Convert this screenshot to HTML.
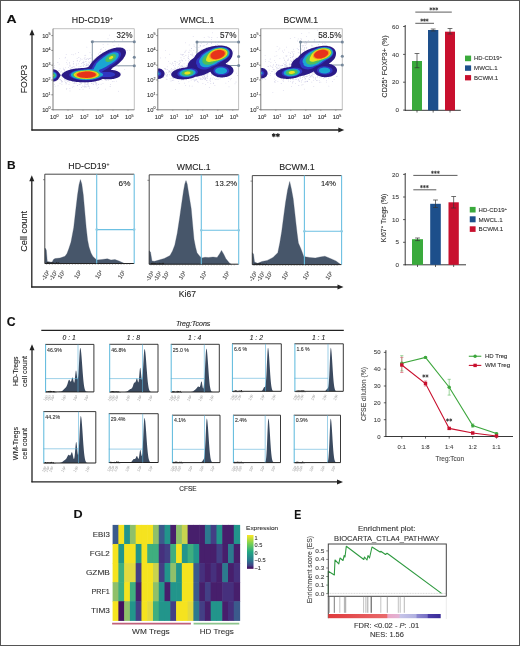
<!DOCTYPE html>
<html><head><meta charset="utf-8"><style>
html,body{margin:0;padding:0;background:#fff;}
body{width:520px;height:646px;overflow:hidden;}
svg{display:block;will-change:transform;}
text{font-family:"Liberation Sans",sans-serif;stroke:currentColor;stroke-width:0.1px;}
</style></head><body>
<svg width="520" height="646" viewBox="0 0 520 646" font-family="Liberation Sans, sans-serif">
<rect x="0" y="0" width="520" height="646" fill="#fff"/>
<text x="6.44" y="23.00" font-size="11.57" fill="#111" color="#111" textLength="10.11" lengthAdjust="spacingAndGlyphs" font-weight="bold">A</text>
<line x1="32" y1="32.3" x2="32" y2="130.6" stroke="#222" stroke-width="1.3"/><path d="M32,29.3 L29.5,35.3 L34.5,35.3 Z" fill="#222"/>
<line x1="31.4" y1="130" x2="341.3" y2="130" stroke="#222" stroke-width="1.3"/><path d="M344.3,130 L338.3,127.5 L338.3,132.5 Z" fill="#222"/>
<text transform="translate(26.60,93.00) rotate(-90)" x="-0.35" y="0" font-size="8.86" fill="#222" color="#222" textLength="28.52" lengthAdjust="spacingAndGlyphs">FOXP3</text>
<text x="176.45" y="140.70" font-size="8.71" fill="#222" color="#222" textLength="22.91" lengthAdjust="spacingAndGlyphs">CD25</text>
<path d="M273.80,133.60 L273.80,136.80 M272.41,134.40 L275.19,136.00 M272.41,136.00 L275.19,134.40 M277.90,133.60 L277.90,136.80 M276.51,134.40 L279.29,136.00 M276.51,136.00 L279.29,134.40 " stroke="#222" stroke-width="1.10" stroke-linecap="round"/>
<clipPath id="ca0"><rect x="53" y="28.7" width="81.30000000000001" height="81.1"/></clipPath>
<g clip-path="url(#ca0)" fill="#8a86c0" opacity="0.55"><circle cx="88.6" cy="64.3" r="0.42"/><circle cx="61.8" cy="80.9" r="0.42"/><circle cx="106.6" cy="80.6" r="0.42"/><circle cx="70.1" cy="68.6" r="0.42"/><circle cx="53.8" cy="81.4" r="0.42"/><circle cx="54.6" cy="78.4" r="0.42"/><circle cx="73.6" cy="63.2" r="0.42"/><circle cx="78.1" cy="80.4" r="0.42"/><circle cx="118.8" cy="66.4" r="0.42"/><circle cx="94.9" cy="65.0" r="0.42"/><circle cx="54.9" cy="71.9" r="0.42"/><circle cx="71.9" cy="54.6" r="0.42"/><circle cx="77.1" cy="60.9" r="0.42"/><circle cx="97.9" cy="58.8" r="0.42"/><circle cx="85.7" cy="68.6" r="0.42"/><circle cx="61.9" cy="82.2" r="0.42"/><circle cx="53.3" cy="76.3" r="0.42"/><circle cx="69.0" cy="84.3" r="0.42"/><circle cx="81.4" cy="83.6" r="0.42"/><circle cx="109.6" cy="35.1" r="0.42"/><circle cx="72.7" cy="74.2" r="0.42"/><circle cx="113.8" cy="66.7" r="0.42"/><circle cx="96.2" cy="83.6" r="0.42"/><circle cx="89.0" cy="75.4" r="0.42"/><circle cx="93.0" cy="75.7" r="0.42"/><circle cx="86.0" cy="79.9" r="0.42"/><circle cx="90.2" cy="68.2" r="0.42"/><circle cx="65.1" cy="73.2" r="0.42"/><circle cx="112.4" cy="56.0" r="0.42"/><circle cx="86.6" cy="75.3" r="0.42"/><circle cx="108.8" cy="72.4" r="0.42"/><circle cx="80.3" cy="81.1" r="0.42"/><circle cx="111.7" cy="58.4" r="0.42"/><circle cx="122.7" cy="40.2" r="0.42"/><circle cx="72.8" cy="67.4" r="0.42"/><circle cx="105.6" cy="56.0" r="0.42"/><circle cx="112.9" cy="66.2" r="0.42"/><circle cx="56.9" cy="79.9" r="0.42"/><circle cx="66.7" cy="62.6" r="0.42"/><circle cx="110.1" cy="86.5" r="0.42"/><circle cx="77.4" cy="85.6" r="0.42"/><circle cx="80.9" cy="83.4" r="0.42"/><circle cx="60.0" cy="68.8" r="0.42"/><circle cx="93.5" cy="40.6" r="0.42"/><circle cx="102.0" cy="71.2" r="0.42"/><circle cx="93.3" cy="84.2" r="0.42"/><circle cx="56.4" cy="72.2" r="0.42"/><circle cx="70.0" cy="66.4" r="0.42"/><circle cx="85.6" cy="70.3" r="0.42"/><circle cx="93.3" cy="80.5" r="0.42"/><circle cx="61.9" cy="81.5" r="0.42"/><circle cx="84.5" cy="74.0" r="0.42"/><circle cx="87.0" cy="65.4" r="0.42"/><circle cx="103.2" cy="77.8" r="0.42"/><circle cx="77.0" cy="78.1" r="0.42"/><circle cx="84.3" cy="87.1" r="0.42"/><circle cx="91.1" cy="76.0" r="0.42"/><circle cx="77.9" cy="78.2" r="0.42"/><circle cx="102.8" cy="66.7" r="0.42"/><circle cx="75.5" cy="80.3" r="0.42"/><circle cx="115.3" cy="57.7" r="0.42"/><circle cx="102.4" cy="52.9" r="0.42"/><circle cx="94.8" cy="61.0" r="0.42"/><circle cx="91.9" cy="78.9" r="0.42"/><circle cx="84.6" cy="83.0" r="0.42"/><circle cx="96.7" cy="82.8" r="0.42"/><circle cx="88.0" cy="82.4" r="0.42"/><circle cx="57.9" cy="72.2" r="0.42"/><circle cx="65.6" cy="73.5" r="0.42"/><circle cx="80.9" cy="70.6" r="0.42"/><circle cx="94.9" cy="79.6" r="0.42"/><circle cx="84.0" cy="86.5" r="0.42"/><circle cx="79.6" cy="69.7" r="0.42"/><circle cx="74.6" cy="82.4" r="0.42"/><circle cx="108.0" cy="38.8" r="0.42"/><circle cx="95.4" cy="60.5" r="0.42"/><circle cx="70.7" cy="79.8" r="0.42"/><circle cx="77.7" cy="69.5" r="0.42"/><circle cx="92.0" cy="83.3" r="0.42"/><circle cx="83.7" cy="61.1" r="0.42"/><circle cx="113.4" cy="75.1" r="0.42"/><circle cx="92.2" cy="69.8" r="0.42"/><circle cx="55.8" cy="81.0" r="0.42"/><circle cx="81.5" cy="73.5" r="0.42"/><circle cx="110.6" cy="66.6" r="0.42"/><circle cx="95.3" cy="62.0" r="0.42"/><circle cx="67.2" cy="78.3" r="0.42"/><circle cx="80.2" cy="79.7" r="0.42"/><circle cx="66.0" cy="82.1" r="0.42"/><circle cx="103.3" cy="47.3" r="0.42"/><circle cx="99.2" cy="62.7" r="0.42"/><circle cx="97.0" cy="59.1" r="0.42"/><circle cx="71.8" cy="80.1" r="0.42"/><circle cx="88.7" cy="76.0" r="0.42"/><circle cx="76.3" cy="83.0" r="0.42"/><circle cx="72.5" cy="71.6" r="0.42"/><circle cx="89.1" cy="58.7" r="0.42"/><circle cx="91.3" cy="64.2" r="0.42"/><circle cx="57.9" cy="62.5" r="0.42"/><circle cx="76.9" cy="68.4" r="0.42"/><circle cx="101.2" cy="73.2" r="0.42"/><circle cx="66.4" cy="89.0" r="0.42"/><circle cx="68.4" cy="71.3" r="0.42"/><circle cx="77.6" cy="85.3" r="0.42"/><circle cx="81.4" cy="73.7" r="0.42"/><circle cx="104.5" cy="54.5" r="0.42"/><circle cx="82.8" cy="77.0" r="0.42"/><circle cx="66.2" cy="54.6" r="0.42"/><circle cx="64.7" cy="72.9" r="0.42"/><circle cx="67.1" cy="60.1" r="0.42"/><circle cx="54.9" cy="78.5" r="0.42"/><circle cx="87.8" cy="80.1" r="0.42"/><circle cx="86.8" cy="70.8" r="0.42"/><circle cx="85.8" cy="61.7" r="0.42"/><circle cx="87.9" cy="80.4" r="0.42"/><circle cx="100.7" cy="49.6" r="0.42"/><circle cx="97.6" cy="78.4" r="0.42"/><circle cx="116.5" cy="53.7" r="0.42"/><circle cx="69.8" cy="79.5" r="0.42"/><circle cx="79.8" cy="70.7" r="0.42"/><circle cx="69.6" cy="72.6" r="0.42"/><circle cx="97.0" cy="56.6" r="0.42"/><circle cx="83.8" cy="62.4" r="0.42"/><circle cx="80.3" cy="76.0" r="0.42"/><circle cx="49.3" cy="60.3" r="0.42"/><circle cx="74.9" cy="80.8" r="0.42"/><circle cx="83.0" cy="89.2" r="0.42"/><circle cx="94.2" cy="79.1" r="0.42"/><circle cx="80.8" cy="74.0" r="0.42"/><circle cx="76.8" cy="77.9" r="0.42"/><circle cx="87.3" cy="67.6" r="0.42"/><circle cx="81.1" cy="71.1" r="0.42"/><circle cx="64.9" cy="79.5" r="0.42"/><circle cx="84.8" cy="78.3" r="0.42"/><circle cx="107.2" cy="63.7" r="0.42"/><circle cx="100.5" cy="51.8" r="0.42"/><circle cx="65.1" cy="57.9" r="0.42"/><circle cx="91.2" cy="75.8" r="0.42"/><circle cx="90.5" cy="66.2" r="0.42"/><circle cx="64.4" cy="70.9" r="0.42"/><circle cx="85.8" cy="65.8" r="0.42"/><circle cx="81.3" cy="66.1" r="0.42"/><circle cx="61.2" cy="80.7" r="0.42"/><circle cx="49.9" cy="62.7" r="0.42"/><circle cx="65.0" cy="78.4" r="0.42"/><circle cx="110.5" cy="84.3" r="0.42"/><circle cx="83.2" cy="79.2" r="0.42"/><circle cx="105.4" cy="49.6" r="0.42"/><circle cx="88.9" cy="81.2" r="0.42"/><circle cx="80.5" cy="74.5" r="0.42"/><circle cx="94.5" cy="77.4" r="0.42"/><circle cx="98.9" cy="73.3" r="0.42"/><circle cx="82.3" cy="71.9" r="0.42"/><circle cx="80.3" cy="77.6" r="0.42"/><circle cx="103.9" cy="62.2" r="0.42"/><circle cx="97.1" cy="71.7" r="0.42"/><circle cx="79.3" cy="79.6" r="0.42"/><circle cx="72.3" cy="76.0" r="0.42"/><circle cx="103.5" cy="68.5" r="0.42"/><circle cx="64.5" cy="75.6" r="0.42"/><circle cx="97.7" cy="59.3" r="0.42"/><circle cx="105.4" cy="79.5" r="0.42"/><circle cx="111.3" cy="79.5" r="0.42"/><circle cx="73.3" cy="64.0" r="0.42"/><circle cx="73.2" cy="80.1" r="0.42"/><circle cx="104.2" cy="77.5" r="0.42"/><circle cx="86.9" cy="47.1" r="0.42"/><circle cx="64.4" cy="78.0" r="0.42"/><circle cx="67.0" cy="80.1" r="0.42"/><circle cx="73.8" cy="86.2" r="0.42"/><circle cx="88.4" cy="85.2" r="0.42"/><circle cx="88.0" cy="83.1" r="0.42"/><circle cx="73.6" cy="80.5" r="0.42"/><circle cx="87.9" cy="82.8" r="0.42"/><circle cx="71.4" cy="76.6" r="0.42"/><circle cx="69.4" cy="63.8" r="0.42"/><circle cx="85.0" cy="59.3" r="0.42"/><circle cx="84.9" cy="55.6" r="0.42"/><circle cx="67.6" cy="78.2" r="0.42"/><circle cx="97.2" cy="69.6" r="0.42"/><circle cx="110.0" cy="56.9" r="0.42"/><circle cx="86.1" cy="59.0" r="0.42"/><circle cx="96.4" cy="67.4" r="0.42"/><circle cx="86.3" cy="80.5" r="0.42"/><circle cx="108.2" cy="64.2" r="0.42"/><circle cx="98.5" cy="84.5" r="0.42"/><circle cx="96.5" cy="84.0" r="0.42"/><circle cx="60.0" cy="83.3" r="0.42"/><circle cx="93.2" cy="84.0" r="0.42"/><circle cx="86.0" cy="61.6" r="0.42"/><circle cx="86.6" cy="65.6" r="0.42"/><circle cx="70.9" cy="74.3" r="0.42"/><circle cx="110.3" cy="59.2" r="0.42"/><circle cx="66.0" cy="83.9" r="0.42"/><circle cx="50.7" cy="55.7" r="0.42"/><circle cx="72.0" cy="71.8" r="0.42"/><circle cx="61.1" cy="80.5" r="0.42"/><circle cx="75.6" cy="78.6" r="0.42"/><circle cx="80.9" cy="82.5" r="0.42"/><circle cx="71.1" cy="80.6" r="0.42"/><circle cx="86.1" cy="87.1" r="0.42"/><circle cx="86.4" cy="79.4" r="0.42"/><circle cx="112.6" cy="66.2" r="0.42"/><circle cx="90.2" cy="66.5" r="0.42"/><circle cx="112.4" cy="54.8" r="0.42"/><circle cx="95.4" cy="82.3" r="0.42"/><circle cx="65.7" cy="82.7" r="0.42"/><circle cx="78.0" cy="78.5" r="0.42"/><circle cx="80.6" cy="79.0" r="0.42"/><circle cx="91.1" cy="57.9" r="0.42"/><circle cx="114.0" cy="45.3" r="0.42"/><circle cx="76.4" cy="65.3" r="0.42"/><circle cx="83.7" cy="71.3" r="0.42"/><circle cx="101.2" cy="49.0" r="0.42"/><circle cx="55.2" cy="70.2" r="0.42"/><circle cx="85.7" cy="77.8" r="0.42"/><circle cx="74.0" cy="77.4" r="0.42"/><circle cx="72.8" cy="81.5" r="0.42"/><circle cx="89.5" cy="58.6" r="0.42"/><circle cx="65.7" cy="72.1" r="0.42"/><circle cx="80.2" cy="70.5" r="0.42"/><circle cx="97.7" cy="69.2" r="0.42"/><circle cx="70.8" cy="69.1" r="0.42"/><circle cx="104.0" cy="65.0" r="0.42"/><circle cx="89.2" cy="63.0" r="0.42"/><circle cx="88.0" cy="84.0" r="0.42"/><circle cx="98.7" cy="54.0" r="0.42"/><circle cx="59.1" cy="76.0" r="0.42"/><circle cx="96.2" cy="64.6" r="0.42"/><circle cx="120.9" cy="73.0" r="0.42"/><circle cx="99.1" cy="68.6" r="0.42"/><circle cx="107.8" cy="65.3" r="0.42"/><circle cx="98.3" cy="65.1" r="0.42"/><circle cx="70.0" cy="90.9" r="0.42"/><circle cx="90.0" cy="52.7" r="0.42"/><circle cx="80.0" cy="75.5" r="0.42"/><circle cx="69.9" cy="65.3" r="0.42"/><circle cx="108.5" cy="58.2" r="0.42"/><circle cx="94.0" cy="63.2" r="0.42"/><circle cx="93.4" cy="62.5" r="0.42"/><circle cx="84.5" cy="80.3" r="0.42"/><circle cx="67.5" cy="79.8" r="0.42"/><circle cx="70.2" cy="76.7" r="0.42"/><circle cx="83.9" cy="69.3" r="0.42"/><circle cx="80.2" cy="60.1" r="0.42"/><circle cx="91.4" cy="73.1" r="0.42"/><circle cx="92.0" cy="74.6" r="0.42"/><circle cx="53.0" cy="67.2" r="0.42"/><circle cx="92.0" cy="80.2" r="0.42"/><circle cx="55.1" cy="86.2" r="0.42"/><circle cx="93.5" cy="66.9" r="0.42"/><circle cx="63.9" cy="72.9" r="0.42"/><circle cx="69.0" cy="80.4" r="0.42"/><circle cx="74.5" cy="74.2" r="0.42"/><circle cx="68.8" cy="70.8" r="0.42"/><circle cx="110.4" cy="64.6" r="0.42"/><circle cx="96.0" cy="59.3" r="0.42"/><circle cx="77.2" cy="78.4" r="0.42"/><circle cx="73.7" cy="66.7" r="0.42"/><circle cx="107.9" cy="44.2" r="0.42"/><circle cx="48.5" cy="73.0" r="0.42"/><circle cx="73.2" cy="83.3" r="0.42"/><circle cx="108.0" cy="68.8" r="0.42"/><circle cx="92.0" cy="70.6" r="0.42"/><circle cx="100.2" cy="74.9" r="0.42"/><circle cx="73.4" cy="54.8" r="0.42"/><circle cx="105.3" cy="89.1" r="0.42"/><circle cx="108.1" cy="76.4" r="0.42"/><circle cx="100.2" cy="52.1" r="0.42"/><circle cx="83.7" cy="74.7" r="0.42"/><circle cx="83.2" cy="75.6" r="0.42"/><circle cx="103.0" cy="83.6" r="0.42"/><circle cx="71.4" cy="67.4" r="0.42"/><circle cx="110.1" cy="70.5" r="0.42"/><circle cx="106.7" cy="61.4" r="0.42"/><circle cx="65.0" cy="76.2" r="0.42"/><circle cx="88.9" cy="77.3" r="0.42"/><circle cx="67.1" cy="74.1" r="0.42"/><circle cx="91.0" cy="61.9" r="0.42"/><circle cx="85.4" cy="78.4" r="0.42"/><circle cx="73.0" cy="79.6" r="0.42"/><circle cx="69.5" cy="76.6" r="0.42"/><circle cx="108.9" cy="49.3" r="0.42"/><circle cx="59.5" cy="74.7" r="0.42"/><circle cx="69.5" cy="79.6" r="0.42"/><circle cx="91.6" cy="72.3" r="0.42"/><circle cx="98.0" cy="68.4" r="0.42"/><circle cx="100.4" cy="77.3" r="0.42"/><circle cx="55.3" cy="74.0" r="0.42"/><circle cx="88.1" cy="76.9" r="0.42"/><circle cx="114.4" cy="40.5" r="0.42"/><circle cx="115.9" cy="57.6" r="0.42"/><circle cx="116.0" cy="69.7" r="0.42"/><circle cx="83.0" cy="69.6" r="0.42"/><circle cx="102.2" cy="59.7" r="0.42"/><circle cx="60.2" cy="79.3" r="0.42"/><circle cx="100.1" cy="65.3" r="0.42"/><circle cx="66.6" cy="72.7" r="0.42"/><circle cx="88.0" cy="86.6" r="0.42"/><circle cx="104.9" cy="61.4" r="0.42"/><circle cx="69.8" cy="71.6" r="0.42"/><circle cx="82.0" cy="59.2" r="0.42"/><circle cx="112.4" cy="68.2" r="0.42"/><circle cx="95.9" cy="67.4" r="0.42"/><circle cx="22.8" cy="74.1" r="0.42"/><circle cx="85.2" cy="80.9" r="0.42"/><circle cx="95.2" cy="71.2" r="0.42"/><circle cx="84.7" cy="64.5" r="0.42"/><circle cx="106.5" cy="52.2" r="0.42"/><circle cx="108.3" cy="62.6" r="0.42"/><circle cx="114.0" cy="81.3" r="0.42"/><circle cx="106.7" cy="69.5" r="0.42"/><circle cx="54.6" cy="84.4" r="0.42"/><circle cx="84.2" cy="69.8" r="0.42"/><circle cx="98.5" cy="67.5" r="0.42"/><circle cx="91.1" cy="61.8" r="0.42"/><circle cx="86.9" cy="69.6" r="0.42"/><circle cx="84.7" cy="76.1" r="0.42"/><circle cx="77.9" cy="71.4" r="0.42"/><circle cx="78.6" cy="63.8" r="0.42"/><circle cx="80.1" cy="82.2" r="0.42"/><circle cx="49.9" cy="69.3" r="0.42"/><circle cx="81.7" cy="80.5" r="0.42"/><circle cx="112.8" cy="53.9" r="0.42"/><circle cx="56.8" cy="72.1" r="0.42"/><circle cx="66.6" cy="79.6" r="0.42"/><circle cx="84.2" cy="82.2" r="0.42"/><circle cx="96.9" cy="85.8" r="0.42"/><circle cx="87.3" cy="71.5" r="0.42"/><circle cx="77.8" cy="75.3" r="0.42"/><circle cx="89.0" cy="69.0" r="0.42"/><circle cx="82.8" cy="71.5" r="0.42"/><circle cx="97.8" cy="59.4" r="0.42"/><circle cx="77.3" cy="79.4" r="0.42"/><circle cx="74.3" cy="78.9" r="0.42"/><circle cx="96.9" cy="74.4" r="0.42"/><circle cx="99.0" cy="76.2" r="0.42"/><circle cx="98.1" cy="71.7" r="0.42"/><circle cx="68.6" cy="81.1" r="0.42"/><circle cx="86.6" cy="76.2" r="0.42"/><circle cx="74.9" cy="75.1" r="0.42"/><circle cx="103.9" cy="55.4" r="0.42"/><circle cx="76.0" cy="69.4" r="0.42"/><circle cx="79.9" cy="89.6" r="0.42"/><circle cx="64.9" cy="81.0" r="0.42"/><circle cx="95.0" cy="82.3" r="0.42"/><circle cx="75.2" cy="78.5" r="0.42"/><circle cx="122.3" cy="39.5" r="0.42"/><circle cx="90.0" cy="81.3" r="0.42"/><circle cx="67.2" cy="71.4" r="0.42"/><circle cx="89.8" cy="80.9" r="0.42"/><circle cx="117.2" cy="64.0" r="0.42"/><circle cx="86.3" cy="59.6" r="0.42"/><circle cx="74.7" cy="66.9" r="0.42"/><circle cx="106.7" cy="66.5" r="0.42"/><circle cx="91.0" cy="82.1" r="0.42"/><circle cx="127.1" cy="50.7" r="0.42"/><circle cx="85.4" cy="86.8" r="0.42"/><circle cx="43.5" cy="83.2" r="0.42"/><circle cx="86.3" cy="72.1" r="0.42"/><circle cx="90.4" cy="74.7" r="0.42"/><circle cx="88.1" cy="81.2" r="0.42"/><circle cx="124.7" cy="69.6" r="0.42"/><circle cx="110.7" cy="57.9" r="0.42"/><circle cx="104.6" cy="78.2" r="0.42"/><circle cx="94.6" cy="70.9" r="0.42"/><circle cx="89.2" cy="76.6" r="0.42"/><circle cx="60.6" cy="71.9" r="0.42"/><circle cx="90.5" cy="76.2" r="0.42"/><circle cx="86.6" cy="79.0" r="0.42"/><circle cx="85.1" cy="77.9" r="0.42"/><circle cx="91.6" cy="79.1" r="0.42"/><circle cx="129.9" cy="50.2" r="0.42"/><circle cx="72.5" cy="67.1" r="0.42"/><circle cx="108.2" cy="80.7" r="0.42"/><circle cx="104.3" cy="69.4" r="0.42"/><circle cx="76.3" cy="77.0" r="0.42"/><circle cx="63.3" cy="68.1" r="0.42"/><circle cx="86.5" cy="64.9" r="0.42"/><circle cx="64.5" cy="69.7" r="0.42"/><circle cx="59.1" cy="64.1" r="0.42"/><circle cx="105.7" cy="76.9" r="0.42"/><circle cx="69.9" cy="88.7" r="0.42"/><circle cx="89.0" cy="78.7" r="0.42"/><circle cx="90.6" cy="58.2" r="0.42"/><circle cx="80.1" cy="84.3" r="0.42"/><circle cx="62.6" cy="72.3" r="0.42"/><circle cx="82.1" cy="77.6" r="0.42"/><circle cx="65.1" cy="79.2" r="0.42"/><circle cx="93.8" cy="81.3" r="0.42"/><circle cx="94.0" cy="74.3" r="0.42"/><circle cx="99.4" cy="68.3" r="0.42"/><circle cx="106.1" cy="55.7" r="0.42"/><circle cx="109.7" cy="57.7" r="0.42"/><circle cx="75.8" cy="80.9" r="0.42"/><circle cx="78.0" cy="79.8" r="0.42"/><circle cx="63.9" cy="69.8" r="0.42"/><circle cx="100.4" cy="64.2" r="0.42"/><circle cx="88.1" cy="64.7" r="0.42"/><circle cx="99.4" cy="60.4" r="0.42"/><circle cx="99.3" cy="63.1" r="0.42"/><circle cx="70.3" cy="71.8" r="0.42"/><circle cx="66.6" cy="75.0" r="0.42"/><circle cx="67.5" cy="81.3" r="0.42"/><circle cx="96.2" cy="72.5" r="0.42"/><circle cx="68.7" cy="77.9" r="0.42"/><circle cx="89.9" cy="77.3" r="0.42"/><circle cx="88.8" cy="74.6" r="0.42"/><circle cx="89.6" cy="86.9" r="0.42"/><circle cx="91.0" cy="77.1" r="0.42"/><circle cx="66.2" cy="75.5" r="0.42"/><circle cx="88.8" cy="67.4" r="0.42"/><circle cx="81.9" cy="70.0" r="0.42"/><circle cx="91.2" cy="79.0" r="0.42"/><circle cx="116.5" cy="81.1" r="0.42"/><circle cx="83.7" cy="79.0" r="0.42"/><circle cx="85.2" cy="79.9" r="0.42"/><circle cx="89.8" cy="81.9" r="0.42"/><circle cx="100.6" cy="75.4" r="0.42"/><circle cx="59.6" cy="58.6" r="0.42"/><circle cx="99.5" cy="56.8" r="0.42"/><circle cx="85.0" cy="69.4" r="0.42"/><circle cx="112.3" cy="81.6" r="0.42"/><circle cx="81.7" cy="87.5" r="0.42"/><circle cx="100.4" cy="68.9" r="0.42"/><circle cx="69.8" cy="82.2" r="0.42"/><circle cx="69.6" cy="62.7" r="0.42"/><circle cx="83.6" cy="66.3" r="0.42"/><circle cx="91.6" cy="83.7" r="0.42"/><circle cx="67.9" cy="79.6" r="0.42"/><circle cx="94.3" cy="74.9" r="0.42"/><circle cx="78.5" cy="76.7" r="0.42"/><circle cx="67.2" cy="64.1" r="0.42"/><circle cx="98.8" cy="64.3" r="0.42"/><circle cx="105.9" cy="80.6" r="0.42"/><circle cx="87.6" cy="64.9" r="0.42"/><circle cx="93.1" cy="69.5" r="0.42"/><circle cx="82.4" cy="78.8" r="0.42"/><circle cx="72.4" cy="73.7" r="0.42"/><circle cx="79.9" cy="75.5" r="0.42"/><circle cx="102.2" cy="78.6" r="0.42"/><circle cx="101.1" cy="68.0" r="0.42"/><circle cx="87.9" cy="84.0" r="0.42"/><circle cx="104.0" cy="69.6" r="0.42"/><circle cx="82.4" cy="86.0" r="0.42"/><circle cx="66.3" cy="83.1" r="0.42"/><circle cx="85.2" cy="83.0" r="0.42"/><circle cx="106.4" cy="74.2" r="0.42"/><circle cx="59.0" cy="70.6" r="0.42"/><circle cx="63.4" cy="69.1" r="0.42"/><circle cx="85.2" cy="82.7" r="0.42"/><circle cx="50.2" cy="89.0" r="0.42"/><circle cx="80.4" cy="66.5" r="0.42"/><circle cx="66.2" cy="79.6" r="0.42"/><circle cx="74.4" cy="83.3" r="0.42"/><circle cx="100.0" cy="52.7" r="0.42"/><circle cx="98.3" cy="87.4" r="0.42"/><circle cx="58.9" cy="70.4" r="0.42"/><circle cx="81.8" cy="81.7" r="0.42"/><circle cx="64.5" cy="77.1" r="0.42"/><circle cx="93.1" cy="76.7" r="0.42"/><circle cx="93.7" cy="60.0" r="0.42"/><circle cx="94.9" cy="66.6" r="0.42"/><circle cx="78.8" cy="76.3" r="0.42"/><circle cx="73.1" cy="73.2" r="0.42"/><circle cx="73.4" cy="61.5" r="0.42"/><circle cx="76.7" cy="64.0" r="0.42"/><circle cx="91.8" cy="76.6" r="0.42"/><circle cx="80.9" cy="68.8" r="0.42"/><circle cx="65.6" cy="67.8" r="0.42"/><circle cx="95.1" cy="81.5" r="0.42"/><circle cx="108.5" cy="65.5" r="0.42"/><circle cx="109.7" cy="60.4" r="0.42"/><circle cx="93.1" cy="63.8" r="0.42"/><circle cx="77.2" cy="77.9" r="0.42"/><circle cx="66.9" cy="88.8" r="0.42"/><circle cx="98.0" cy="65.0" r="0.42"/><circle cx="68.6" cy="72.2" r="0.42"/><circle cx="87.1" cy="84.8" r="0.42"/><circle cx="99.6" cy="78.1" r="0.42"/><circle cx="115.8" cy="49.7" r="0.42"/><circle cx="76.3" cy="81.6" r="0.42"/><circle cx="83.9" cy="81.3" r="0.42"/><circle cx="76.0" cy="73.0" r="0.42"/><circle cx="108.6" cy="65.5" r="0.42"/><circle cx="88.5" cy="69.9" r="0.42"/><circle cx="79.4" cy="61.7" r="0.42"/><circle cx="45.4" cy="75.0" r="0.42"/><circle cx="79.1" cy="78.8" r="0.42"/><circle cx="86.6" cy="78.7" r="0.42"/><circle cx="107.7" cy="65.8" r="0.42"/><circle cx="94.8" cy="58.9" r="0.42"/><circle cx="106.0" cy="77.7" r="0.42"/><circle cx="73.3" cy="77.6" r="0.42"/><circle cx="58.3" cy="77.7" r="0.42"/><circle cx="82.8" cy="73.9" r="0.42"/><circle cx="93.2" cy="81.9" r="0.42"/><circle cx="91.8" cy="77.1" r="0.42"/><circle cx="89.0" cy="74.1" r="0.42"/><circle cx="94.6" cy="77.4" r="0.42"/><circle cx="81.1" cy="80.4" r="0.42"/><circle cx="81.8" cy="63.5" r="0.42"/><circle cx="36.9" cy="83.5" r="0.42"/><circle cx="71.8" cy="80.9" r="0.42"/><circle cx="113.9" cy="57.3" r="0.42"/><circle cx="82.0" cy="71.6" r="0.42"/><circle cx="76.1" cy="72.5" r="0.42"/><circle cx="103.1" cy="77.5" r="0.42"/><circle cx="99.8" cy="70.6" r="0.42"/><circle cx="76.5" cy="74.5" r="0.42"/><circle cx="52.6" cy="73.7" r="0.42"/><circle cx="82.1" cy="74.0" r="0.42"/><circle cx="91.5" cy="73.5" r="0.42"/><circle cx="95.6" cy="83.9" r="0.42"/><circle cx="95.1" cy="64.7" r="0.42"/><circle cx="86.4" cy="65.0" r="0.42"/><circle cx="68.6" cy="67.7" r="0.42"/><circle cx="58.0" cy="85.8" r="0.42"/><circle cx="81.8" cy="69.4" r="0.42"/><circle cx="83.1" cy="65.8" r="0.42"/><circle cx="72.7" cy="70.0" r="0.42"/><circle cx="87.3" cy="79.1" r="0.42"/><circle cx="118.5" cy="91.2" r="0.42"/><circle cx="101.5" cy="69.0" r="0.42"/><circle cx="93.6" cy="75.7" r="0.42"/><circle cx="88.5" cy="59.1" r="0.42"/><circle cx="83.4" cy="70.2" r="0.42"/><circle cx="102.0" cy="80.2" r="0.42"/><circle cx="84.2" cy="68.8" r="0.42"/><circle cx="72.6" cy="87.1" r="0.42"/><circle cx="75.7" cy="75.7" r="0.42"/><circle cx="93.5" cy="73.5" r="0.42"/><circle cx="84.7" cy="69.5" r="0.42"/><circle cx="82.1" cy="81.6" r="0.42"/><circle cx="61.9" cy="84.2" r="0.42"/><circle cx="60.3" cy="79.7" r="0.42"/><circle cx="104.3" cy="56.0" r="0.42"/><circle cx="85.3" cy="80.1" r="0.42"/><circle cx="74.1" cy="80.0" r="0.42"/><circle cx="75.6" cy="75.0" r="0.42"/><circle cx="66.6" cy="72.6" r="0.42"/><circle cx="92.5" cy="72.8" r="0.42"/><circle cx="79.2" cy="84.5" r="0.42"/><circle cx="82.0" cy="73.0" r="0.42"/><circle cx="78.4" cy="52.5" r="0.42"/><circle cx="80.5" cy="58.8" r="0.42"/><circle cx="89.7" cy="81.1" r="0.42"/><circle cx="93.5" cy="81.2" r="0.42"/><circle cx="83.0" cy="72.9" r="0.42"/><circle cx="104.4" cy="53.0" r="0.42"/><circle cx="95.4" cy="64.0" r="0.42"/><circle cx="58.8" cy="79.0" r="0.42"/><circle cx="77.1" cy="58.4" r="0.42"/><circle cx="93.1" cy="66.0" r="0.42"/><circle cx="81.9" cy="82.8" r="0.42"/><circle cx="94.4" cy="61.3" r="0.42"/><circle cx="79.0" cy="66.8" r="0.42"/><circle cx="64.5" cy="70.9" r="0.42"/><circle cx="62.0" cy="78.0" r="0.42"/><circle cx="61.8" cy="76.2" r="0.42"/><circle cx="81.6" cy="80.7" r="0.42"/><circle cx="99.5" cy="75.5" r="0.42"/><circle cx="101.1" cy="84.2" r="0.42"/><circle cx="85.7" cy="55.2" r="0.42"/><circle cx="103.2" cy="61.7" r="0.42"/><circle cx="72.0" cy="68.9" r="0.42"/><circle cx="71.8" cy="71.6" r="0.42"/><circle cx="84.2" cy="58.7" r="0.42"/><circle cx="73.1" cy="76.9" r="0.42"/><circle cx="95.6" cy="64.2" r="0.42"/><circle cx="73.6" cy="76.3" r="0.42"/><circle cx="95.4" cy="66.1" r="0.42"/><circle cx="80.4" cy="75.0" r="0.42"/><circle cx="84.5" cy="84.9" r="0.42"/><circle cx="54.3" cy="65.7" r="0.42"/><circle cx="86.0" cy="86.2" r="0.42"/><circle cx="84.7" cy="68.6" r="0.42"/><circle cx="111.2" cy="48.2" r="0.42"/><circle cx="89.6" cy="81.3" r="0.42"/><circle cx="95.3" cy="70.0" r="0.42"/><circle cx="112.9" cy="42.6" r="0.42"/><circle cx="83.0" cy="75.7" r="0.42"/><circle cx="112.5" cy="75.3" r="0.42"/><circle cx="53.5" cy="63.8" r="0.42"/><circle cx="89.7" cy="88.6" r="0.42"/><circle cx="76.0" cy="72.4" r="0.42"/><circle cx="93.0" cy="65.8" r="0.42"/><circle cx="87.7" cy="58.3" r="0.42"/><circle cx="96.8" cy="66.1" r="0.42"/><circle cx="86.2" cy="81.7" r="0.42"/><circle cx="74.6" cy="73.5" r="0.42"/><circle cx="106.6" cy="73.6" r="0.42"/><circle cx="66.2" cy="78.9" r="0.42"/><circle cx="77.0" cy="69.5" r="0.42"/><circle cx="83.1" cy="62.6" r="0.42"/><circle cx="89.1" cy="66.9" r="0.42"/><circle cx="83.8" cy="81.1" r="0.42"/><circle cx="65.8" cy="75.7" r="0.42"/><circle cx="69.3" cy="74.7" r="0.42"/><circle cx="75.7" cy="53.8" r="0.42"/><circle cx="61.4" cy="71.1" r="0.42"/><circle cx="86.3" cy="70.2" r="0.42"/><circle cx="97.6" cy="88.2" r="0.42"/><circle cx="89.2" cy="62.2" r="0.42"/><circle cx="83.0" cy="77.0" r="0.42"/><circle cx="94.5" cy="63.9" r="0.42"/><circle cx="103.1" cy="44.7" r="0.42"/><circle cx="92.9" cy="81.3" r="0.42"/><circle cx="82.7" cy="62.7" r="0.42"/><circle cx="78.9" cy="57.5" r="0.42"/><circle cx="65.5" cy="57.2" r="0.42"/><circle cx="79.6" cy="78.1" r="0.42"/><circle cx="88.9" cy="61.9" r="0.42"/><circle cx="96.7" cy="73.7" r="0.42"/><circle cx="95.1" cy="60.5" r="0.42"/><circle cx="98.6" cy="72.0" r="0.42"/><circle cx="84.9" cy="86.1" r="0.42"/><circle cx="91.8" cy="79.6" r="0.42"/><circle cx="79.1" cy="68.9" r="0.42"/><circle cx="85.0" cy="57.6" r="0.42"/><circle cx="102.9" cy="69.0" r="0.42"/><circle cx="88.5" cy="59.6" r="0.42"/><circle cx="59.4" cy="79.2" r="0.42"/><circle cx="70.1" cy="65.1" r="0.42"/><circle cx="88.3" cy="65.6" r="0.42"/><circle cx="91.4" cy="54.9" r="0.42"/><circle cx="65.3" cy="72.6" r="0.42"/><circle cx="94.5" cy="77.3" r="0.42"/><circle cx="65.9" cy="80.2" r="0.42"/><circle cx="95.0" cy="66.1" r="0.42"/><circle cx="77.3" cy="60.7" r="0.42"/><circle cx="98.7" cy="68.2" r="0.42"/><circle cx="107.6" cy="50.3" r="0.42"/><circle cx="83.7" cy="65.0" r="0.42"/><circle cx="84.0" cy="62.1" r="0.42"/><circle cx="84.9" cy="77.3" r="0.42"/><circle cx="54.2" cy="67.5" r="0.42"/><circle cx="88.8" cy="86.6" r="0.42"/><circle cx="100.9" cy="75.6" r="0.42"/><circle cx="83.3" cy="63.1" r="0.42"/><circle cx="100.4" cy="65.9" r="0.42"/><circle cx="118.7" cy="44.9" r="0.42"/><circle cx="90.0" cy="70.0" r="0.42"/><circle cx="86.9" cy="63.5" r="0.42"/><circle cx="69.4" cy="78.7" r="0.42"/><circle cx="86.0" cy="84.5" r="0.42"/><circle cx="108.1" cy="55.5" r="0.42"/><circle cx="51.3" cy="61.0" r="0.42"/><circle cx="75.1" cy="83.0" r="0.42"/><circle cx="62.5" cy="81.3" r="0.42"/></g>
<path d="M92.3,41.8 H134.3 M92.3,65.8 H134.3 M92.3,41.8 V65.8" stroke="#8595a5" stroke-width="1" fill="none"/>
<g clip-path="url(#ca0)"><path d="M88.0,82.2 87.0,82.3 86.0,82.3 85.0,82.3 84.0,82.3 83.0,82.3 82.0,82.3 81.0,82.3 80.0,82.2 79.5,82.2 78.5,82.1 77.5,82.0 76.5,81.9 75.5,81.8 75.0,81.7 74.0,81.6 73.0,81.4 72.2,81.2 71.5,81.1 70.5,80.8 70.0,80.7 69.0,80.4 68.4,80.2 67.5,79.9 67.0,79.7 66.0,79.3 65.5,79.0 64.9,78.7 64.1,78.2 63.5,77.7 63.0,77.3 62.5,76.8 62.0,76.3 61.6,75.7 61.4,75.2 61.6,74.7 62.0,74.2 62.5,73.6 63.0,73.1 63.5,72.7 64.1,72.2 64.9,71.7 65.5,71.4 66.0,71.1 67.0,70.7 67.5,70.5 68.4,70.2 69.0,70.0 70.0,69.7 70.5,69.6 71.5,69.3 72.1,69.2 73.0,69.0 74.0,68.8 74.9,68.7 75.5,68.6 76.5,68.5 77.5,68.4 78.5,68.3 79.4,68.2 80.0,68.2 81.0,68.1 82.0,68.0 83.0,67.9 84.0,67.9 85.0,67.8 85.5,67.7 86.5,67.5 87.5,67.3 88.0,67.1 88.6,66.7 89.0,66.1 89.5,65.4 90.0,64.7 90.3,64.2 90.7,63.7 91.1,63.2 91.5,62.7 92.0,62.1 92.5,61.6 93.0,61.0 93.5,60.5 94.0,60.0 94.5,59.5 95.0,59.0 95.5,58.5 96.0,58.0 96.5,57.6 97.0,57.2 97.5,56.7 98.1,56.2 98.8,55.7 99.4,55.2 100.0,54.8 100.5,54.4 101.0,54.1 101.6,53.7 102.3,53.2 103.0,52.8 103.5,52.5 104.0,52.2 104.9,51.7 105.5,51.4 106.0,51.1 106.8,50.7 107.5,50.4 108.0,50.1 109.0,49.7 109.5,49.5 110.3,49.2 111.0,48.9 111.8,48.7 112.5,48.5 113.5,48.2 114.0,48.1 115.0,47.9 115.9,47.7 116.5,47.6 117.5,47.5 118.5,47.5 119.5,47.5 120.5,47.5 121.5,47.7 122.0,47.8 123.0,48.1 123.5,48.4 124.1,48.7 124.7,49.2 125.2,49.7 125.5,50.3 125.8,51.2 126.0,52.2 125.9,53.2 125.7,54.2 125.5,54.7 125.1,55.7 124.9,56.2 124.5,56.8 124.0,57.6 123.6,58.2 123.3,58.7 122.9,59.2 122.5,59.7 122.0,60.2 121.5,60.8 121.0,61.3 120.5,61.8 120.0,62.3 119.5,62.7 119.0,63.2 118.4,63.7 117.8,64.2 117.1,64.7 116.5,65.2 116.0,65.5 115.5,65.9 115.0,66.2 114.2,66.7 113.5,67.2 113.0,67.5 112.5,67.8 112.0,68.4 111.5,68.9 111.0,69.4 111.0,69.8 112.0,69.9 113.0,70.0 113.8,70.2 114.5,70.3 115.5,70.6 116.0,70.7 117.0,71.1 117.5,71.3 118.3,71.7 119.0,72.1 119.5,72.5 120.0,73.0 120.5,73.7 120.7,74.2 120.5,75.2 120.3,75.7 119.9,76.2 119.3,76.7 118.5,77.2 118.0,77.5 117.5,77.7 116.5,78.1 116.0,78.3 115.0,78.5 114.3,78.7 113.5,78.9 112.5,79.0 111.5,79.1 111.0,79.2 110.0,79.3 109.0,79.3 108.0,79.3 107.0,79.3 106.0,79.3 105.0,79.2 104.5,79.2 103.5,79.0 102.5,79.1 102.0,79.3 101.1,79.7 100.5,79.9 99.7,80.2 99.0,80.4 98.0,80.7 97.5,80.8 96.5,81.1 95.9,81.2 95.0,81.4 94.0,81.6 93.1,81.7 92.5,81.8 91.5,81.9 90.5,82.0 89.5,82.1 88.5,82.2 88.0,82.2ZM55.0,81.2 54.0,81.5 53.0,81.5 52.0,81.5 51.0,81.2 50.8,80.7 50.7,79.7 50.6,78.7 50.6,77.7 50.6,76.7 50.6,75.7 50.6,74.7 50.6,73.7 50.6,72.7 50.6,71.7 50.7,70.7 51.0,69.7 51.5,69.4 52.5,69.3 53.5,69.3 54.5,69.4 55.4,69.7 56.0,69.9 56.5,70.2 57.2,70.7 57.8,71.2 58.3,71.7 58.7,72.2 59.1,72.7 59.5,73.3 60.0,74.0 60.5,74.7 60.7,75.2 60.5,75.7 60.0,76.6 59.6,77.2 59.3,77.7 59.0,78.2 58.5,78.8 58.0,79.4 57.5,79.9 57.0,80.3 56.3,80.7 55.5,81.1 55.0,81.2Z" fill="#2b1a86" fill-rule="evenodd"/>
<path d="M89.0,80.2 88.0,80.3 87.0,80.3 86.0,80.3 85.0,80.3 84.0,80.3 83.0,80.2 82.4,80.2 81.5,80.1 80.5,80.1 79.5,79.9 78.5,79.8 78.0,79.7 77.0,79.5 76.0,79.3 75.5,79.1 74.5,78.9 74.0,78.7 73.0,78.3 72.5,78.1 71.7,77.7 71.0,77.3 70.5,76.9 70.0,76.5 69.5,75.8 69.3,75.2 69.4,74.2 69.6,73.7 70.1,73.2 70.6,72.7 71.4,72.2 72.0,71.9 72.5,71.6 73.5,71.2 74.0,71.1 75.0,70.8 75.5,70.6 76.5,70.4 77.4,70.2 78.0,70.1 79.0,69.9 80.0,69.8 80.8,69.7 81.5,69.6 82.5,69.5 83.5,69.4 84.5,69.3 85.5,69.3 86.5,69.2 87.0,69.2 88.0,69.1 89.0,69.0 90.0,69.0 91.0,68.9 91.7,68.7 92.0,68.0 92.5,67.2 92.7,66.7 93.0,65.8 93.3,65.2 93.6,64.7 94.0,64.0 94.5,63.3 95.0,62.7 95.4,62.2 95.9,61.7 96.4,61.2 96.9,60.7 97.4,60.2 98.0,59.7 98.5,59.3 99.0,58.9 99.5,58.5 100.0,58.1 100.5,57.7 101.2,57.2 101.9,56.7 102.5,56.3 103.0,56.0 103.5,55.6 104.2,55.2 105.0,54.7 105.5,54.4 106.0,54.1 106.7,53.7 107.5,53.3 108.0,53.0 108.6,52.7 109.5,52.3 110.0,52.1 111.0,51.7 111.5,51.6 112.5,51.3 113.0,51.2 114.0,51.0 115.0,50.8 116.0,50.8 117.0,50.8 118.0,51.0 118.8,51.2 119.5,51.6 120.0,51.9 120.5,52.5 120.9,53.2 121.0,53.7 121.0,54.7 120.9,55.2 120.6,56.2 120.4,56.7 120.0,57.4 119.5,58.2 119.2,58.7 118.8,59.2 118.3,59.7 117.9,60.2 117.4,60.7 116.9,61.2 116.3,61.7 115.7,62.2 115.1,62.7 114.5,63.2 114.0,63.6 113.5,63.9 113.0,64.3 112.4,64.7 111.6,65.2 111.0,65.6 110.5,65.9 110.0,66.2 109.5,66.7 109.0,67.2 108.4,67.7 107.7,68.2 107.0,68.7 106.5,69.0 106.0,69.3 105.3,69.7 104.5,70.1 104.0,70.4 103.3,70.7 102.5,71.2 102.1,71.7 103.0,71.9 104.0,72.0 105.0,72.0 106.0,71.9 107.0,71.9 108.0,71.9 109.0,72.0 110.0,72.0 111.0,72.2 111.5,72.3 112.5,72.5 113.1,72.7 114.0,73.1 114.5,73.5 115.0,74.2 115.1,74.7 114.8,75.2 114.3,75.7 113.5,76.1 113.0,76.3 112.0,76.6 111.5,76.7 110.5,76.9 109.5,77.0 108.5,77.1 107.5,77.1 106.5,77.0 105.5,77.0 104.5,76.9 103.5,76.9 102.5,77.0 101.5,77.2 101.0,77.3 100.0,77.7 99.5,78.0 98.9,78.2 98.0,78.6 97.5,78.7 96.5,79.1 95.9,79.2 95.0,79.4 94.0,79.6 93.5,79.7 92.5,79.9 91.5,80.0 90.5,80.1 89.5,80.2 89.0,80.2ZM54.5,79.2 53.5,79.5 52.5,79.5 51.5,79.2 51.0,79.0 50.9,78.2 50.8,77.2 50.7,76.2 50.7,75.2 50.7,74.2 50.8,73.2 50.9,72.2 51.2,71.7 52.0,71.4 53.0,71.3 54.0,71.4 54.8,71.7 55.5,72.0 56.0,72.4 56.5,72.9 57.0,73.7 57.2,74.2 57.4,75.2 57.3,76.2 57.0,77.1 56.6,77.7 56.2,78.2 55.6,78.7 55.0,79.0 54.5,79.2Z" fill="#3036c2" fill-rule="evenodd"/>
<path d="M89.5,79.7 88.5,79.8 87.5,79.8 86.5,79.9 85.5,79.9 84.5,79.8 83.5,79.8 82.5,79.7 82.0,79.7 81.0,79.6 80.0,79.4 79.0,79.3 78.5,79.2 77.5,79.0 76.5,78.7 76.0,78.6 75.0,78.3 74.5,78.1 73.6,77.7 73.0,77.4 72.5,77.1 71.9,76.7 71.4,76.2 71.0,75.5 70.8,74.7 71.0,74.1 71.5,73.4 72.0,72.9 72.5,72.6 73.1,72.2 74.0,71.8 74.5,71.6 75.5,71.2 76.0,71.1 77.0,70.8 77.5,70.7 78.5,70.5 79.5,70.3 80.4,70.2 81.0,70.1 82.0,70.0 83.0,69.9 84.0,69.8 85.0,69.7 85.9,69.7 86.5,69.7 87.5,69.6 88.5,69.6 89.5,69.6 90.5,69.6 91.5,69.6 92.5,69.6 93.5,69.2 93.9,68.7 94.0,68.2 94.4,67.2 94.7,66.7 95.1,66.2 95.5,65.6 95.9,64.7 96.1,64.2 96.5,63.6 97.0,63.0 97.5,62.4 98.0,61.9 98.5,61.4 99.0,61.0 99.5,60.6 100.0,60.2 100.6,59.7 101.2,59.2 101.9,58.7 102.5,58.2 103.0,57.8 103.5,57.4 104.0,57.1 104.5,56.7 105.1,56.2 105.8,55.7 106.5,55.3 107.0,54.9 107.5,54.6 108.2,54.2 109.0,53.8 109.5,53.6 110.3,53.2 111.0,52.9 111.7,52.7 112.5,52.5 113.5,52.3 114.4,52.2 115.0,52.2 115.5,52.2 116.5,52.4 117.4,52.7 118.0,53.1 118.5,53.7 118.7,54.2 118.8,55.2 118.6,56.2 118.4,56.7 118.0,57.5 117.6,58.2 117.2,58.7 116.8,59.2 116.3,59.7 115.8,60.2 115.3,60.7 114.7,61.2 114.0,61.7 113.5,62.1 113.0,62.4 112.5,62.8 111.9,63.2 111.1,63.7 110.5,64.0 110.0,64.3 109.3,64.7 108.5,65.2 108.0,65.5 107.5,65.8 106.8,66.2 106.0,66.7 105.5,67.0 105.0,67.2 104.1,67.7 103.5,68.0 103.0,68.2 102.0,68.7 101.5,68.9 100.8,69.2 100.0,69.5 99.5,69.8 98.9,70.2 99.0,70.7 99.5,71.5 100.0,72.2 100.5,72.5 101.0,72.7 102.0,73.2 102.5,73.6 103.0,74.2 103.1,74.7 102.9,75.2 102.5,75.7 101.7,76.2 101.0,76.5 100.4,76.7 99.5,77.2 99.0,77.5 98.5,77.7 97.5,78.1 97.0,78.3 96.0,78.6 95.5,78.8 94.5,79.0 93.5,79.2 93.0,79.3 92.0,79.5 91.0,79.6 90.0,79.7 89.5,79.7ZM53.5,78.7 52.5,78.7 52.0,78.6 51.1,78.2 50.9,77.7 50.8,76.7 50.8,75.7 50.8,74.7 50.9,73.7 51.0,72.7 51.5,72.4 52.0,72.2 53.0,72.1 54.0,72.2 54.5,72.4 55.1,72.7 55.7,73.2 56.1,73.7 56.5,74.7 56.6,75.2 56.5,76.1 56.3,76.7 56.0,77.2 55.5,77.8 54.9,78.2 54.0,78.6 53.5,78.7Z" fill="#1aa6d2" fill-rule="evenodd"/>
<path d="M109.5,61.8 108.5,62.0 107.5,62.0 106.5,61.8 106.0,61.5 105.5,60.9 105.3,60.2 105.5,59.2 105.7,58.7 106.1,58.2 106.5,57.6 107.0,57.1 107.5,56.6 108.0,56.2 108.7,55.7 109.5,55.2 110.0,55.0 110.6,54.7 111.5,54.4 112.0,54.2 113.0,54.0 114.0,54.0 114.8,54.2 115.5,54.6 116.0,55.2 116.1,55.7 116.0,56.5 115.7,57.2 115.5,57.7 115.0,58.3 114.5,58.9 114.0,59.4 113.5,59.8 112.9,60.2 112.1,60.7 111.5,61.0 111.0,61.3 110.0,61.7 109.5,61.8ZM89.0,79.2 88.0,79.3 87.0,79.3 86.0,79.3 85.0,79.3 84.0,79.3 83.2,79.2 82.5,79.1 81.5,79.0 80.5,78.9 79.5,78.7 79.0,78.6 78.0,78.4 77.2,78.2 76.5,78.0 75.7,77.7 75.0,77.4 74.5,77.1 73.8,76.7 73.2,76.2 72.8,75.7 72.5,74.7 72.9,73.7 73.4,73.2 74.0,72.8 74.5,72.5 75.1,72.2 76.0,71.8 76.5,71.6 77.5,71.3 78.1,71.2 79.0,71.0 80.0,70.8 80.7,70.7 81.5,70.6 82.5,70.5 83.5,70.4 84.5,70.3 85.5,70.2 86.3,70.2 87.0,70.2 88.0,70.2 89.0,70.2 90.0,70.2 90.5,70.2 91.5,70.3 92.5,70.4 93.5,70.6 94.3,70.7 95.0,70.8 96.0,71.1 96.5,71.3 97.3,71.7 98.0,72.2 98.5,72.5 99.0,73.0 99.5,73.3 100.0,73.7 100.4,74.7 100.0,75.5 99.5,76.0 99.0,76.4 98.5,76.8 97.8,77.2 97.0,77.6 96.5,77.8 95.5,78.1 95.0,78.3 94.0,78.5 93.1,78.7 92.5,78.8 91.5,79.0 90.5,79.1 89.5,79.2 89.0,79.2ZM54.0,77.4 53.0,77.6 52.0,77.4 51.5,77.1 51.0,76.6 51.0,75.7 51.0,74.7 51.0,74.2 51.5,73.7 52.5,73.2 53.0,73.2 53.5,73.2 54.5,73.7 55.0,74.2 55.3,74.7 55.4,75.7 55.0,76.6 54.5,77.1 54.0,77.4Z" fill="#4cbf5e" fill-rule="evenodd"/>
<path d="M110.5,59.3 109.5,59.2 109.0,58.8 109.0,58.2 109.2,57.7 109.6,57.2 110.2,56.7 111.0,56.2 111.5,56.1 112.5,56.0 113.1,56.2 113.3,57.2 113.0,57.8 112.5,58.3 112.0,58.7 111.0,59.2 110.5,59.3ZM89.5,78.7 88.5,78.8 87.5,78.9 86.5,78.9 85.5,78.9 84.5,78.8 83.5,78.8 82.7,78.7 82.0,78.6 81.0,78.5 80.0,78.3 79.4,78.2 78.5,78.0 77.6,77.7 77.0,77.5 76.3,77.2 75.5,76.8 75.0,76.5 74.5,76.1 74.0,75.3 73.9,74.7 74.0,74.2 74.5,73.5 75.0,73.1 75.7,72.7 76.5,72.3 77.0,72.1 78.0,71.8 78.5,71.6 79.5,71.4 80.5,71.2 81.0,71.1 82.0,71.0 83.0,70.9 84.0,70.8 84.9,70.7 85.5,70.7 86.5,70.6 87.5,70.6 88.5,70.6 89.5,70.6 90.4,70.7 91.0,70.8 92.0,70.9 93.0,71.0 93.7,71.2 94.5,71.4 95.4,71.7 96.0,72.0 96.5,72.2 97.3,72.7 97.9,73.2 98.4,73.7 98.7,74.2 98.7,75.2 98.4,75.7 97.9,76.2 97.2,76.7 96.5,77.1 96.0,77.3 95.0,77.7 94.5,77.8 93.5,78.1 93.0,78.2 92.0,78.4 91.0,78.6 90.0,78.7 89.5,78.7ZM53.5,76.0 52.5,76.0 52.3,75.2 52.8,74.7 53.2,74.7 53.8,75.2 53.5,76.0Z" fill="#ebe21d" fill-rule="evenodd"/>
<path d="M89.5,78.2 88.5,78.3 87.5,78.4 86.5,78.4 85.5,78.4 84.5,78.4 83.5,78.3 82.6,78.2 82.0,78.1 81.0,78.0 80.0,77.8 79.5,77.6 78.5,77.3 78.0,77.2 77.0,76.7 76.5,76.4 76.0,76.0 75.5,75.4 75.3,74.7 75.5,74.2 76.0,73.6 76.5,73.2 77.4,72.7 78.0,72.5 78.7,72.2 79.5,72.0 80.5,71.7 81.0,71.6 82.0,71.5 83.0,71.3 84.0,71.2 84.5,71.2 85.5,71.1 86.5,71.1 87.5,71.1 88.5,71.1 89.5,71.1 90.5,71.2 91.0,71.3 92.0,71.4 93.0,71.6 93.5,71.7 94.5,72.1 95.0,72.3 95.8,72.7 96.5,73.2 97.0,73.7 97.3,74.2 97.3,75.2 96.9,75.7 96.4,76.2 95.6,76.7 95.0,77.0 94.5,77.2 93.5,77.5 92.8,77.7 92.0,77.9 91.0,78.0 90.0,78.2 89.5,78.2Z" fill="#f39c1f" fill-rule="evenodd"/>
<path d="M89.5,77.7 88.5,77.8 87.5,77.9 86.5,77.9 85.5,77.9 84.5,77.8 83.5,77.8 82.8,77.7 82.0,77.6 81.0,77.4 80.3,77.2 79.5,76.9 78.8,76.7 78.0,76.3 77.5,75.9 77.0,75.3 76.9,74.7 77.0,74.2 77.5,73.7 78.2,73.2 79.0,72.8 79.5,72.6 80.5,72.4 81.1,72.2 82.0,72.0 83.0,71.9 84.0,71.7 84.5,71.7 85.5,71.6 86.5,71.5 87.5,71.5 88.5,71.5 89.5,71.6 90.5,71.7 91.0,71.8 92.0,72.0 92.9,72.2 93.5,72.4 94.2,72.7 95.0,73.2 95.5,73.6 95.9,74.2 95.8,75.2 95.4,75.7 94.8,76.2 94.0,76.6 93.5,76.8 92.5,77.1 92.0,77.3 91.0,77.5 90.0,77.7 89.5,77.7Z" fill="#e7321b" fill-rule="evenodd"/></g>
<path d="M53,28.7 H134.3 V109.8" fill="none" stroke="#b0b0b0" stroke-width="0.8"/>
<path d="M53,28.7 V109.8 H134.3" fill="none" stroke="#6e6e6e" stroke-width="0.9"/>
<text x="71.87" y="23.00" font-size="8.14" fill="#222" color="#222" textLength="38.07" lengthAdjust="spacingAndGlyphs">HD-CD19</text>
<text x="109.90" y="19.6" font-size="5" fill="#222" color="#222">+</text>
<text x="116.57" y="37.70" font-size="8.29" fill="#222" color="#222" textLength="15.88" lengthAdjust="spacingAndGlyphs">32%</text>
<circle cx="92.3" cy="41.8" r="1.5" fill="#75879a"/>
<circle cx="134.3" cy="41.8" r="1.5" fill="#75879a"/>
<circle cx="134.3" cy="57.3" r="1.5" fill="#75879a"/>
<circle cx="134.3" cy="65.8" r="1.5" fill="#75879a"/>
<text x="50.60" y="111.60" font-size="5.80" text-anchor="end" fill="#333" color="#333">10<tspan dy="-2.20" font-size="3.60">0</tspan></text>
<line x1="51.2" y1="109.6" x2="53" y2="109.6" stroke="#555" stroke-width="0.6"/>
<text x="54.20" y="119.00" font-size="5.80" text-anchor="middle" fill="#333" color="#333">10<tspan dy="-2.20" font-size="3.60">0</tspan></text>
<line x1="53.0" y1="109.8" x2="53.0" y2="111.0" stroke="#777" stroke-width="0.5"/>
<text x="50.60" y="96.80" font-size="5.80" text-anchor="end" fill="#333" color="#333">10<tspan dy="-2.20" font-size="3.60">1</tspan></text>
<line x1="51.2" y1="94.8" x2="53" y2="94.8" stroke="#555" stroke-width="0.6"/>
<text x="69.20" y="119.00" font-size="5.80" text-anchor="middle" fill="#333" color="#333">10<tspan dy="-2.20" font-size="3.60">1</tspan></text>
<line x1="68.0" y1="109.8" x2="68.0" y2="111.0" stroke="#777" stroke-width="0.5"/>
<text x="50.60" y="82.00" font-size="5.80" text-anchor="end" fill="#333" color="#333">10<tspan dy="-2.20" font-size="3.60">2</tspan></text>
<line x1="51.2" y1="80.0" x2="53" y2="80.0" stroke="#555" stroke-width="0.6"/>
<text x="84.20" y="119.00" font-size="5.80" text-anchor="middle" fill="#333" color="#333">10<tspan dy="-2.20" font-size="3.60">2</tspan></text>
<line x1="83.0" y1="109.8" x2="83.0" y2="111.0" stroke="#777" stroke-width="0.5"/>
<text x="50.60" y="67.20" font-size="5.80" text-anchor="end" fill="#333" color="#333">10<tspan dy="-2.20" font-size="3.60">3</tspan></text>
<line x1="51.2" y1="65.19999999999999" x2="53" y2="65.19999999999999" stroke="#555" stroke-width="0.6"/>
<text x="99.20" y="119.00" font-size="5.80" text-anchor="middle" fill="#333" color="#333">10<tspan dy="-2.20" font-size="3.60">3</tspan></text>
<line x1="98.0" y1="109.8" x2="98.0" y2="111.0" stroke="#777" stroke-width="0.5"/>
<text x="50.60" y="52.40" font-size="5.80" text-anchor="end" fill="#333" color="#333">10<tspan dy="-2.20" font-size="3.60">4</tspan></text>
<line x1="51.2" y1="50.39999999999999" x2="53" y2="50.39999999999999" stroke="#555" stroke-width="0.6"/>
<text x="114.20" y="119.00" font-size="5.80" text-anchor="middle" fill="#333" color="#333">10<tspan dy="-2.20" font-size="3.60">4</tspan></text>
<line x1="113.0" y1="109.8" x2="113.0" y2="111.0" stroke="#777" stroke-width="0.5"/>
<text x="50.60" y="37.60" font-size="5.80" text-anchor="end" fill="#333" color="#333">10<tspan dy="-2.20" font-size="3.60">5</tspan></text>
<line x1="51.2" y1="35.599999999999994" x2="53" y2="35.599999999999994" stroke="#555" stroke-width="0.6"/>
<text x="129.20" y="119.00" font-size="5.80" text-anchor="middle" fill="#333" color="#333">10<tspan dy="-2.20" font-size="3.60">5</tspan></text>
<line x1="127.99999999999999" y1="109.8" x2="127.99999999999999" y2="111.0" stroke="#777" stroke-width="0.5"/>
<clipPath id="ca1"><rect x="157.8" y="28.7" width="80.79999999999998" height="81.1"/></clipPath>
<g clip-path="url(#ca1)" fill="#8a86c0" opacity="0.55"><circle cx="193.3" cy="63.8" r="0.42"/><circle cx="186.0" cy="73.2" r="0.42"/><circle cx="187.5" cy="71.0" r="0.42"/><circle cx="187.7" cy="66.6" r="0.42"/><circle cx="188.2" cy="71.3" r="0.42"/><circle cx="177.1" cy="69.6" r="0.42"/><circle cx="187.6" cy="74.7" r="0.42"/><circle cx="192.2" cy="53.0" r="0.42"/><circle cx="191.6" cy="72.1" r="0.42"/><circle cx="186.5" cy="76.0" r="0.42"/><circle cx="178.9" cy="69.7" r="0.42"/><circle cx="178.4" cy="66.6" r="0.42"/><circle cx="204.1" cy="62.0" r="0.42"/><circle cx="198.8" cy="68.4" r="0.42"/><circle cx="175.6" cy="74.0" r="0.42"/><circle cx="212.0" cy="63.2" r="0.42"/><circle cx="192.2" cy="61.1" r="0.42"/><circle cx="222.0" cy="69.1" r="0.42"/><circle cx="218.2" cy="77.5" r="0.42"/><circle cx="191.8" cy="67.6" r="0.42"/><circle cx="196.6" cy="79.2" r="0.42"/><circle cx="211.6" cy="42.2" r="0.42"/><circle cx="193.3" cy="67.8" r="0.42"/><circle cx="178.0" cy="74.7" r="0.42"/><circle cx="212.2" cy="79.0" r="0.42"/><circle cx="225.3" cy="75.0" r="0.42"/><circle cx="184.9" cy="72.8" r="0.42"/><circle cx="204.6" cy="65.5" r="0.42"/><circle cx="180.7" cy="69.8" r="0.42"/><circle cx="191.0" cy="50.9" r="0.42"/><circle cx="204.8" cy="66.0" r="0.42"/><circle cx="195.1" cy="70.9" r="0.42"/><circle cx="207.2" cy="66.0" r="0.42"/><circle cx="188.9" cy="81.8" r="0.42"/><circle cx="178.4" cy="81.6" r="0.42"/><circle cx="192.8" cy="69.3" r="0.42"/><circle cx="191.8" cy="72.6" r="0.42"/><circle cx="197.3" cy="81.8" r="0.42"/><circle cx="205.6" cy="71.0" r="0.42"/><circle cx="208.2" cy="63.7" r="0.42"/><circle cx="179.8" cy="68.0" r="0.42"/><circle cx="207.2" cy="78.6" r="0.42"/><circle cx="204.1" cy="78.7" r="0.42"/><circle cx="201.5" cy="53.8" r="0.42"/><circle cx="207.7" cy="74.7" r="0.42"/><circle cx="181.8" cy="80.0" r="0.42"/><circle cx="173.4" cy="71.6" r="0.42"/><circle cx="180.2" cy="69.1" r="0.42"/><circle cx="225.9" cy="83.1" r="0.42"/><circle cx="196.0" cy="47.6" r="0.42"/><circle cx="192.2" cy="79.0" r="0.42"/><circle cx="182.0" cy="54.5" r="0.42"/><circle cx="204.7" cy="71.2" r="0.42"/><circle cx="215.2" cy="45.3" r="0.42"/><circle cx="179.7" cy="63.3" r="0.42"/><circle cx="184.0" cy="58.7" r="0.42"/><circle cx="171.0" cy="81.0" r="0.42"/><circle cx="192.4" cy="64.2" r="0.42"/><circle cx="205.9" cy="54.8" r="0.42"/><circle cx="218.2" cy="79.1" r="0.42"/><circle cx="182.2" cy="60.8" r="0.42"/><circle cx="213.4" cy="69.1" r="0.42"/><circle cx="228.9" cy="69.8" r="0.42"/><circle cx="231.4" cy="35.7" r="0.42"/><circle cx="211.1" cy="59.0" r="0.42"/><circle cx="207.5" cy="71.8" r="0.42"/><circle cx="188.9" cy="60.7" r="0.42"/><circle cx="197.8" cy="67.0" r="0.42"/><circle cx="196.5" cy="51.4" r="0.42"/><circle cx="185.7" cy="67.5" r="0.42"/><circle cx="184.9" cy="52.5" r="0.42"/><circle cx="172.9" cy="63.4" r="0.42"/><circle cx="190.0" cy="62.2" r="0.42"/><circle cx="197.7" cy="70.3" r="0.42"/><circle cx="210.9" cy="78.0" r="0.42"/><circle cx="190.8" cy="75.5" r="0.42"/><circle cx="231.2" cy="78.7" r="0.42"/><circle cx="198.5" cy="82.1" r="0.42"/><circle cx="188.0" cy="57.8" r="0.42"/><circle cx="211.7" cy="75.4" r="0.42"/><circle cx="209.2" cy="37.2" r="0.42"/><circle cx="165.6" cy="68.6" r="0.42"/><circle cx="210.8" cy="83.4" r="0.42"/><circle cx="195.0" cy="67.5" r="0.42"/><circle cx="198.1" cy="75.6" r="0.42"/><circle cx="191.6" cy="70.2" r="0.42"/><circle cx="207.5" cy="69.8" r="0.42"/><circle cx="204.2" cy="77.6" r="0.42"/><circle cx="196.6" cy="68.8" r="0.42"/><circle cx="166.0" cy="69.7" r="0.42"/><circle cx="226.8" cy="50.8" r="0.42"/><circle cx="195.9" cy="52.1" r="0.42"/><circle cx="192.7" cy="60.1" r="0.42"/><circle cx="167.3" cy="74.6" r="0.42"/><circle cx="208.7" cy="70.9" r="0.42"/><circle cx="181.3" cy="69.7" r="0.42"/><circle cx="183.5" cy="72.0" r="0.42"/><circle cx="203.4" cy="73.7" r="0.42"/><circle cx="194.6" cy="60.5" r="0.42"/><circle cx="237.4" cy="75.5" r="0.42"/><circle cx="181.6" cy="65.7" r="0.42"/><circle cx="173.8" cy="80.1" r="0.42"/><circle cx="191.9" cy="76.8" r="0.42"/><circle cx="186.3" cy="65.6" r="0.42"/><circle cx="199.4" cy="72.9" r="0.42"/><circle cx="199.2" cy="70.8" r="0.42"/><circle cx="168.5" cy="61.3" r="0.42"/><circle cx="183.7" cy="72.1" r="0.42"/><circle cx="181.9" cy="73.6" r="0.42"/><circle cx="205.2" cy="78.5" r="0.42"/><circle cx="191.3" cy="72.3" r="0.42"/><circle cx="197.3" cy="71.9" r="0.42"/><circle cx="208.0" cy="72.4" r="0.42"/><circle cx="196.8" cy="68.3" r="0.42"/><circle cx="213.6" cy="75.0" r="0.42"/><circle cx="173.1" cy="77.8" r="0.42"/><circle cx="213.1" cy="67.3" r="0.42"/><circle cx="167.4" cy="69.5" r="0.42"/><circle cx="179.1" cy="83.6" r="0.42"/><circle cx="185.2" cy="51.4" r="0.42"/><circle cx="202.3" cy="77.2" r="0.42"/><circle cx="177.5" cy="68.8" r="0.42"/><circle cx="175.5" cy="89.3" r="0.42"/><circle cx="193.6" cy="61.7" r="0.42"/><circle cx="188.3" cy="71.5" r="0.42"/><circle cx="182.7" cy="67.0" r="0.42"/><circle cx="180.6" cy="78.7" r="0.42"/><circle cx="226.0" cy="74.2" r="0.42"/><circle cx="199.7" cy="70.4" r="0.42"/><circle cx="193.2" cy="56.4" r="0.42"/><circle cx="168.7" cy="72.0" r="0.42"/><circle cx="192.4" cy="64.6" r="0.42"/><circle cx="196.1" cy="58.1" r="0.42"/><circle cx="176.8" cy="72.6" r="0.42"/><circle cx="196.8" cy="68.4" r="0.42"/><circle cx="185.9" cy="55.5" r="0.42"/><circle cx="231.5" cy="69.0" r="0.42"/><circle cx="191.4" cy="69.9" r="0.42"/><circle cx="182.8" cy="71.6" r="0.42"/><circle cx="202.7" cy="79.4" r="0.42"/><circle cx="207.2" cy="64.9" r="0.42"/><circle cx="212.6" cy="32.8" r="0.42"/><circle cx="220.9" cy="51.5" r="0.42"/><circle cx="189.2" cy="75.9" r="0.42"/><circle cx="208.0" cy="66.4" r="0.42"/><circle cx="156.0" cy="79.1" r="0.42"/><circle cx="214.3" cy="78.8" r="0.42"/><circle cx="181.9" cy="69.9" r="0.42"/><circle cx="202.0" cy="56.0" r="0.42"/><circle cx="198.8" cy="64.0" r="0.42"/><circle cx="185.6" cy="68.4" r="0.42"/><circle cx="205.8" cy="49.0" r="0.42"/><circle cx="173.5" cy="65.5" r="0.42"/><circle cx="196.8" cy="76.5" r="0.42"/><circle cx="200.6" cy="78.2" r="0.42"/><circle cx="178.1" cy="74.5" r="0.42"/><circle cx="200.9" cy="51.4" r="0.42"/><circle cx="192.4" cy="64.3" r="0.42"/><circle cx="229.6" cy="50.9" r="0.42"/><circle cx="169.0" cy="70.4" r="0.42"/><circle cx="203.4" cy="77.2" r="0.42"/><circle cx="211.1" cy="64.7" r="0.42"/><circle cx="205.7" cy="79.4" r="0.42"/><circle cx="207.6" cy="77.9" r="0.42"/><circle cx="202.4" cy="66.3" r="0.42"/><circle cx="235.0" cy="83.8" r="0.42"/><circle cx="206.8" cy="63.5" r="0.42"/><circle cx="188.8" cy="61.1" r="0.42"/><circle cx="188.6" cy="56.7" r="0.42"/><circle cx="229.6" cy="75.6" r="0.42"/><circle cx="197.7" cy="69.4" r="0.42"/><circle cx="180.7" cy="74.5" r="0.42"/><circle cx="158.8" cy="81.4" r="0.42"/><circle cx="203.8" cy="41.7" r="0.42"/><circle cx="188.6" cy="54.9" r="0.42"/><circle cx="187.9" cy="75.0" r="0.42"/><circle cx="214.9" cy="85.4" r="0.42"/><circle cx="189.1" cy="63.9" r="0.42"/><circle cx="173.8" cy="69.3" r="0.42"/><circle cx="182.8" cy="69.0" r="0.42"/><circle cx="197.8" cy="50.0" r="0.42"/><circle cx="193.1" cy="77.6" r="0.42"/><circle cx="174.7" cy="61.4" r="0.42"/><circle cx="189.6" cy="85.9" r="0.42"/><circle cx="195.5" cy="74.2" r="0.42"/><circle cx="193.2" cy="64.8" r="0.42"/><circle cx="217.7" cy="77.5" r="0.42"/><circle cx="217.9" cy="79.6" r="0.42"/><circle cx="200.4" cy="45.7" r="0.42"/><circle cx="163.9" cy="77.5" r="0.42"/><circle cx="188.9" cy="74.3" r="0.42"/><circle cx="207.3" cy="75.4" r="0.42"/><circle cx="182.9" cy="78.9" r="0.42"/><circle cx="191.2" cy="54.8" r="0.42"/><circle cx="194.3" cy="76.2" r="0.42"/><circle cx="172.2" cy="80.7" r="0.42"/><circle cx="186.6" cy="74.6" r="0.42"/><circle cx="194.3" cy="73.6" r="0.42"/><circle cx="198.8" cy="75.6" r="0.42"/><circle cx="197.6" cy="60.2" r="0.42"/><circle cx="194.2" cy="46.2" r="0.42"/><circle cx="184.2" cy="69.2" r="0.42"/><circle cx="228.3" cy="73.2" r="0.42"/><circle cx="218.6" cy="53.0" r="0.42"/><circle cx="204.3" cy="79.6" r="0.42"/><circle cx="177.1" cy="62.3" r="0.42"/><circle cx="189.2" cy="71.2" r="0.42"/><circle cx="188.9" cy="70.0" r="0.42"/><circle cx="189.8" cy="50.1" r="0.42"/><circle cx="185.7" cy="85.6" r="0.42"/><circle cx="193.9" cy="60.3" r="0.42"/><circle cx="174.8" cy="70.9" r="0.42"/><circle cx="220.0" cy="78.8" r="0.42"/><circle cx="204.3" cy="76.2" r="0.42"/><circle cx="195.3" cy="74.5" r="0.42"/><circle cx="170.9" cy="72.9" r="0.42"/><circle cx="197.1" cy="69.6" r="0.42"/><circle cx="211.6" cy="43.5" r="0.42"/><circle cx="203.1" cy="46.0" r="0.42"/><circle cx="191.1" cy="80.1" r="0.42"/><circle cx="175.6" cy="65.0" r="0.42"/><circle cx="171.9" cy="64.2" r="0.42"/><circle cx="180.5" cy="66.1" r="0.42"/><circle cx="169.3" cy="74.8" r="0.42"/><circle cx="198.9" cy="47.4" r="0.42"/><circle cx="202.0" cy="60.3" r="0.42"/><circle cx="180.9" cy="73.4" r="0.42"/><circle cx="164.9" cy="73.4" r="0.42"/><circle cx="179.4" cy="74.6" r="0.42"/><circle cx="197.7" cy="56.5" r="0.42"/><circle cx="199.0" cy="71.1" r="0.42"/><circle cx="190.3" cy="64.3" r="0.42"/><circle cx="214.1" cy="57.5" r="0.42"/><circle cx="187.8" cy="66.7" r="0.42"/><circle cx="211.6" cy="39.6" r="0.42"/><circle cx="197.1" cy="73.4" r="0.42"/><circle cx="180.8" cy="54.2" r="0.42"/><circle cx="182.9" cy="73.6" r="0.42"/><circle cx="200.1" cy="78.9" r="0.42"/><circle cx="222.4" cy="67.5" r="0.42"/><circle cx="187.2" cy="71.7" r="0.42"/><circle cx="213.6" cy="83.5" r="0.42"/><circle cx="196.6" cy="76.7" r="0.42"/><circle cx="182.8" cy="65.1" r="0.42"/><circle cx="167.5" cy="74.8" r="0.42"/><circle cx="197.4" cy="57.4" r="0.42"/><circle cx="183.7" cy="78.0" r="0.42"/><circle cx="192.0" cy="74.3" r="0.42"/><circle cx="173.7" cy="78.5" r="0.42"/><circle cx="196.4" cy="53.0" r="0.42"/><circle cx="206.8" cy="53.4" r="0.42"/><circle cx="169.3" cy="71.5" r="0.42"/><circle cx="204.8" cy="74.5" r="0.42"/><circle cx="198.9" cy="50.9" r="0.42"/><circle cx="196.6" cy="72.0" r="0.42"/><circle cx="195.6" cy="73.6" r="0.42"/><circle cx="176.5" cy="74.3" r="0.42"/><circle cx="181.0" cy="57.8" r="0.42"/><circle cx="205.7" cy="78.2" r="0.42"/><circle cx="216.5" cy="57.2" r="0.42"/><circle cx="202.9" cy="83.7" r="0.42"/><circle cx="181.1" cy="68.4" r="0.42"/><circle cx="194.2" cy="65.1" r="0.42"/><circle cx="181.3" cy="66.6" r="0.42"/><circle cx="166.7" cy="76.0" r="0.42"/><circle cx="217.7" cy="44.6" r="0.42"/><circle cx="192.8" cy="54.3" r="0.42"/><circle cx="201.2" cy="64.6" r="0.42"/><circle cx="230.9" cy="74.5" r="0.42"/><circle cx="189.2" cy="75.1" r="0.42"/><circle cx="201.7" cy="75.6" r="0.42"/><circle cx="197.5" cy="72.6" r="0.42"/><circle cx="195.5" cy="72.9" r="0.42"/><circle cx="182.8" cy="54.3" r="0.42"/><circle cx="198.0" cy="65.2" r="0.42"/><circle cx="178.4" cy="69.4" r="0.42"/><circle cx="199.6" cy="64.4" r="0.42"/><circle cx="236.0" cy="82.0" r="0.42"/><circle cx="193.3" cy="65.9" r="0.42"/><circle cx="197.6" cy="81.2" r="0.42"/><circle cx="194.5" cy="65.4" r="0.42"/><circle cx="200.1" cy="45.5" r="0.42"/><circle cx="205.4" cy="59.2" r="0.42"/><circle cx="205.5" cy="84.3" r="0.42"/><circle cx="201.2" cy="43.4" r="0.42"/><circle cx="193.4" cy="76.5" r="0.42"/><circle cx="191.9" cy="59.4" r="0.42"/><circle cx="191.6" cy="48.7" r="0.42"/><circle cx="202.3" cy="69.1" r="0.42"/><circle cx="177.6" cy="67.1" r="0.42"/><circle cx="204.4" cy="52.6" r="0.42"/><circle cx="190.5" cy="75.2" r="0.42"/><circle cx="198.9" cy="78.0" r="0.42"/><circle cx="223.3" cy="66.7" r="0.42"/><circle cx="186.2" cy="79.8" r="0.42"/><circle cx="172.0" cy="78.3" r="0.42"/><circle cx="165.6" cy="74.8" r="0.42"/><circle cx="180.4" cy="62.4" r="0.42"/><circle cx="193.8" cy="50.4" r="0.42"/><circle cx="207.1" cy="65.5" r="0.42"/><circle cx="197.1" cy="64.9" r="0.42"/><circle cx="172.9" cy="80.2" r="0.42"/><circle cx="170.1" cy="63.2" r="0.42"/><circle cx="197.6" cy="76.8" r="0.42"/><circle cx="184.1" cy="63.8" r="0.42"/><circle cx="175.0" cy="61.2" r="0.42"/><circle cx="212.8" cy="52.8" r="0.42"/><circle cx="233.3" cy="51.0" r="0.42"/><circle cx="176.0" cy="71.8" r="0.42"/><circle cx="203.7" cy="78.4" r="0.42"/><circle cx="218.9" cy="42.0" r="0.42"/><circle cx="181.9" cy="75.9" r="0.42"/><circle cx="210.8" cy="71.4" r="0.42"/><circle cx="199.5" cy="65.5" r="0.42"/><circle cx="200.6" cy="50.2" r="0.42"/><circle cx="174.9" cy="77.1" r="0.42"/><circle cx="182.4" cy="67.7" r="0.42"/><circle cx="201.8" cy="79.7" r="0.42"/><circle cx="202.0" cy="49.8" r="0.42"/><circle cx="183.3" cy="79.9" r="0.42"/><circle cx="181.8" cy="59.9" r="0.42"/><circle cx="189.8" cy="78.1" r="0.42"/><circle cx="186.0" cy="68.5" r="0.42"/><circle cx="201.5" cy="71.5" r="0.42"/><circle cx="222.0" cy="68.0" r="0.42"/><circle cx="195.8" cy="80.7" r="0.42"/><circle cx="214.3" cy="52.6" r="0.42"/><circle cx="196.8" cy="79.8" r="0.42"/><circle cx="228.4" cy="81.6" r="0.42"/><circle cx="180.3" cy="70.7" r="0.42"/><circle cx="205.1" cy="53.8" r="0.42"/><circle cx="199.7" cy="74.7" r="0.42"/><circle cx="202.8" cy="74.0" r="0.42"/><circle cx="198.4" cy="68.6" r="0.42"/><circle cx="165.6" cy="57.8" r="0.42"/><circle cx="212.2" cy="70.3" r="0.42"/><circle cx="166.9" cy="75.4" r="0.42"/><circle cx="213.8" cy="71.4" r="0.42"/><circle cx="183.6" cy="68.7" r="0.42"/><circle cx="180.0" cy="69.9" r="0.42"/><circle cx="200.0" cy="76.9" r="0.42"/><circle cx="187.6" cy="66.4" r="0.42"/><circle cx="201.5" cy="49.7" r="0.42"/><circle cx="215.3" cy="79.4" r="0.42"/><circle cx="188.6" cy="71.3" r="0.42"/><circle cx="174.8" cy="67.1" r="0.42"/><circle cx="167.2" cy="66.8" r="0.42"/><circle cx="179.2" cy="61.0" r="0.42"/><circle cx="210.0" cy="80.7" r="0.42"/><circle cx="184.2" cy="66.2" r="0.42"/><circle cx="183.3" cy="67.4" r="0.42"/><circle cx="215.9" cy="63.4" r="0.42"/><circle cx="192.0" cy="55.1" r="0.42"/><circle cx="201.1" cy="56.5" r="0.42"/><circle cx="211.2" cy="67.4" r="0.42"/><circle cx="199.2" cy="75.9" r="0.42"/><circle cx="215.9" cy="45.3" r="0.42"/><circle cx="207.7" cy="76.7" r="0.42"/><circle cx="183.2" cy="73.0" r="0.42"/><circle cx="216.2" cy="59.1" r="0.42"/><circle cx="211.8" cy="37.5" r="0.42"/><circle cx="195.8" cy="79.4" r="0.42"/><circle cx="216.6" cy="69.4" r="0.42"/><circle cx="170.0" cy="72.1" r="0.42"/><circle cx="194.6" cy="58.8" r="0.42"/><circle cx="186.5" cy="67.8" r="0.42"/><circle cx="188.3" cy="58.4" r="0.42"/><circle cx="210.5" cy="71.3" r="0.42"/><circle cx="178.9" cy="70.8" r="0.42"/><circle cx="204.3" cy="72.5" r="0.42"/><circle cx="197.4" cy="72.0" r="0.42"/><circle cx="171.3" cy="68.6" r="0.42"/><circle cx="201.6" cy="74.1" r="0.42"/><circle cx="198.1" cy="69.5" r="0.42"/><circle cx="181.8" cy="77.2" r="0.42"/><circle cx="192.7" cy="70.1" r="0.42"/><circle cx="210.1" cy="79.7" r="0.42"/><circle cx="181.7" cy="68.4" r="0.42"/><circle cx="193.2" cy="74.3" r="0.42"/><circle cx="211.1" cy="28.0" r="0.42"/><circle cx="222.1" cy="35.7" r="0.42"/><circle cx="210.5" cy="81.3" r="0.42"/><circle cx="199.7" cy="62.7" r="0.42"/><circle cx="184.5" cy="71.2" r="0.42"/><circle cx="195.7" cy="68.6" r="0.42"/><circle cx="170.4" cy="72.0" r="0.42"/><circle cx="173.2" cy="77.5" r="0.42"/><circle cx="207.0" cy="80.4" r="0.42"/><circle cx="213.3" cy="82.9" r="0.42"/><circle cx="207.5" cy="76.3" r="0.42"/><circle cx="204.5" cy="70.2" r="0.42"/><circle cx="190.6" cy="68.5" r="0.42"/><circle cx="214.8" cy="74.7" r="0.42"/><circle cx="198.0" cy="72.9" r="0.42"/><circle cx="186.0" cy="50.2" r="0.42"/><circle cx="193.3" cy="63.1" r="0.42"/><circle cx="202.4" cy="52.8" r="0.42"/><circle cx="200.6" cy="79.3" r="0.42"/><circle cx="192.5" cy="76.8" r="0.42"/><circle cx="181.1" cy="67.4" r="0.42"/><circle cx="197.0" cy="62.5" r="0.42"/><circle cx="176.5" cy="76.7" r="0.42"/><circle cx="186.1" cy="66.7" r="0.42"/><circle cx="167.2" cy="76.1" r="0.42"/><circle cx="184.7" cy="83.1" r="0.42"/><circle cx="183.6" cy="74.8" r="0.42"/><circle cx="172.3" cy="77.3" r="0.42"/><circle cx="180.1" cy="60.8" r="0.42"/><circle cx="208.0" cy="73.7" r="0.42"/><circle cx="221.0" cy="64.0" r="0.42"/><circle cx="187.4" cy="73.7" r="0.42"/><circle cx="194.3" cy="64.0" r="0.42"/><circle cx="229.8" cy="73.1" r="0.42"/><circle cx="192.8" cy="55.7" r="0.42"/><circle cx="191.7" cy="68.4" r="0.42"/><circle cx="218.3" cy="68.6" r="0.42"/><circle cx="204.3" cy="76.3" r="0.42"/><circle cx="190.3" cy="62.9" r="0.42"/><circle cx="183.9" cy="67.8" r="0.42"/><circle cx="215.4" cy="42.2" r="0.42"/><circle cx="175.7" cy="61.4" r="0.42"/><circle cx="188.6" cy="65.6" r="0.42"/><circle cx="215.1" cy="56.4" r="0.42"/><circle cx="194.4" cy="81.1" r="0.42"/><circle cx="182.8" cy="66.6" r="0.42"/><circle cx="191.6" cy="48.7" r="0.42"/><circle cx="207.3" cy="43.5" r="0.42"/><circle cx="171.4" cy="71.2" r="0.42"/><circle cx="189.3" cy="59.6" r="0.42"/><circle cx="206.1" cy="77.0" r="0.42"/><circle cx="169.6" cy="71.2" r="0.42"/><circle cx="203.8" cy="71.2" r="0.42"/><circle cx="192.2" cy="72.1" r="0.42"/><circle cx="199.6" cy="62.2" r="0.42"/><circle cx="188.8" cy="77.4" r="0.42"/><circle cx="218.1" cy="74.9" r="0.42"/><circle cx="199.9" cy="73.8" r="0.42"/><circle cx="182.7" cy="68.3" r="0.42"/><circle cx="203.5" cy="71.4" r="0.42"/><circle cx="196.2" cy="69.4" r="0.42"/><circle cx="199.1" cy="58.7" r="0.42"/><circle cx="178.4" cy="72.4" r="0.42"/><circle cx="217.2" cy="37.4" r="0.42"/><circle cx="183.1" cy="76.2" r="0.42"/><circle cx="185.8" cy="60.2" r="0.42"/><circle cx="198.7" cy="62.8" r="0.42"/><circle cx="179.5" cy="74.6" r="0.42"/><circle cx="220.0" cy="72.7" r="0.42"/><circle cx="206.6" cy="80.4" r="0.42"/><circle cx="146.7" cy="79.1" r="0.42"/><circle cx="182.7" cy="70.9" r="0.42"/><circle cx="216.4" cy="49.6" r="0.42"/><circle cx="184.7" cy="73.9" r="0.42"/><circle cx="188.5" cy="58.6" r="0.42"/><circle cx="193.9" cy="64.8" r="0.42"/><circle cx="182.4" cy="69.4" r="0.42"/><circle cx="184.0" cy="56.4" r="0.42"/><circle cx="194.0" cy="44.8" r="0.42"/><circle cx="218.9" cy="72.3" r="0.42"/><circle cx="201.9" cy="60.5" r="0.42"/><circle cx="165.5" cy="50.3" r="0.42"/><circle cx="178.5" cy="74.4" r="0.42"/><circle cx="197.9" cy="69.1" r="0.42"/><circle cx="202.0" cy="74.7" r="0.42"/><circle cx="175.4" cy="75.1" r="0.42"/><circle cx="222.0" cy="72.8" r="0.42"/><circle cx="180.5" cy="78.0" r="0.42"/><circle cx="175.0" cy="68.4" r="0.42"/><circle cx="222.8" cy="34.9" r="0.42"/><circle cx="173.0" cy="70.0" r="0.42"/><circle cx="183.6" cy="70.3" r="0.42"/><circle cx="205.7" cy="62.9" r="0.42"/><circle cx="203.2" cy="75.6" r="0.42"/><circle cx="210.3" cy="60.4" r="0.42"/><circle cx="211.6" cy="74.2" r="0.42"/><circle cx="164.3" cy="68.5" r="0.42"/><circle cx="172.6" cy="62.8" r="0.42"/><circle cx="182.2" cy="55.3" r="0.42"/><circle cx="204.1" cy="45.5" r="0.42"/><circle cx="205.8" cy="78.1" r="0.42"/><circle cx="227.4" cy="63.3" r="0.42"/><circle cx="204.9" cy="75.7" r="0.42"/><circle cx="203.7" cy="72.9" r="0.42"/><circle cx="187.6" cy="78.0" r="0.42"/><circle cx="201.9" cy="78.7" r="0.42"/><circle cx="200.4" cy="67.2" r="0.42"/><circle cx="172.4" cy="76.7" r="0.42"/><circle cx="160.6" cy="57.9" r="0.42"/><circle cx="200.2" cy="59.4" r="0.42"/><circle cx="183.6" cy="54.7" r="0.42"/><circle cx="178.6" cy="64.7" r="0.42"/><circle cx="183.8" cy="68.8" r="0.42"/><circle cx="188.7" cy="52.2" r="0.42"/><circle cx="204.2" cy="37.4" r="0.42"/><circle cx="203.0" cy="73.1" r="0.42"/><circle cx="190.3" cy="65.1" r="0.42"/><circle cx="194.8" cy="80.0" r="0.42"/><circle cx="180.1" cy="75.0" r="0.42"/><circle cx="190.7" cy="54.7" r="0.42"/><circle cx="189.3" cy="62.8" r="0.42"/><circle cx="192.5" cy="72.5" r="0.42"/><circle cx="227.0" cy="70.8" r="0.42"/><circle cx="167.0" cy="79.4" r="0.42"/><circle cx="205.5" cy="67.9" r="0.42"/><circle cx="198.7" cy="62.0" r="0.42"/><circle cx="184.6" cy="74.7" r="0.42"/><circle cx="197.2" cy="66.4" r="0.42"/><circle cx="187.6" cy="65.4" r="0.42"/><circle cx="194.4" cy="68.5" r="0.42"/><circle cx="192.8" cy="60.3" r="0.42"/><circle cx="184.9" cy="72.3" r="0.42"/><circle cx="213.9" cy="72.8" r="0.42"/><circle cx="204.3" cy="76.1" r="0.42"/><circle cx="192.2" cy="64.0" r="0.42"/><circle cx="196.5" cy="70.8" r="0.42"/><circle cx="208.5" cy="62.3" r="0.42"/><circle cx="214.2" cy="49.1" r="0.42"/><circle cx="199.3" cy="69.2" r="0.42"/><circle cx="190.4" cy="72.2" r="0.42"/><circle cx="198.9" cy="56.4" r="0.42"/><circle cx="179.2" cy="63.8" r="0.42"/><circle cx="163.5" cy="77.1" r="0.42"/><circle cx="196.0" cy="70.4" r="0.42"/><circle cx="200.2" cy="46.3" r="0.42"/><circle cx="213.3" cy="73.4" r="0.42"/><circle cx="171.4" cy="73.9" r="0.42"/><circle cx="220.2" cy="67.0" r="0.42"/><circle cx="193.9" cy="64.5" r="0.42"/><circle cx="193.2" cy="36.3" r="0.42"/><circle cx="190.4" cy="73.1" r="0.42"/><circle cx="175.3" cy="69.0" r="0.42"/><circle cx="217.7" cy="73.5" r="0.42"/><circle cx="203.3" cy="63.4" r="0.42"/><circle cx="194.1" cy="80.1" r="0.42"/><circle cx="194.8" cy="61.0" r="0.42"/><circle cx="209.7" cy="50.2" r="0.42"/><circle cx="209.8" cy="67.4" r="0.42"/><circle cx="205.6" cy="79.1" r="0.42"/><circle cx="182.4" cy="60.8" r="0.42"/><circle cx="172.0" cy="70.0" r="0.42"/><circle cx="185.9" cy="69.1" r="0.42"/><circle cx="209.3" cy="87.4" r="0.42"/><circle cx="202.6" cy="68.3" r="0.42"/><circle cx="158.8" cy="77.3" r="0.42"/><circle cx="170.9" cy="69.8" r="0.42"/><circle cx="201.3" cy="74.0" r="0.42"/><circle cx="179.6" cy="68.2" r="0.42"/><circle cx="229.0" cy="78.3" r="0.42"/><circle cx="200.8" cy="73.1" r="0.42"/><circle cx="185.6" cy="42.8" r="0.42"/><circle cx="206.8" cy="44.5" r="0.42"/><circle cx="188.4" cy="72.9" r="0.42"/><circle cx="184.2" cy="70.6" r="0.42"/><circle cx="189.1" cy="52.2" r="0.42"/><circle cx="212.8" cy="61.0" r="0.42"/><circle cx="214.1" cy="68.9" r="0.42"/><circle cx="210.3" cy="78.2" r="0.42"/><circle cx="202.7" cy="76.8" r="0.42"/><circle cx="204.6" cy="67.1" r="0.42"/><circle cx="213.5" cy="52.0" r="0.42"/><circle cx="212.4" cy="52.2" r="0.42"/><circle cx="200.7" cy="64.3" r="0.42"/><circle cx="208.1" cy="36.8" r="0.42"/><circle cx="211.7" cy="53.3" r="0.42"/><circle cx="229.0" cy="86.8" r="0.42"/><circle cx="183.4" cy="70.2" r="0.42"/><circle cx="197.3" cy="70.5" r="0.42"/><circle cx="179.9" cy="73.7" r="0.42"/><circle cx="194.7" cy="59.2" r="0.42"/><circle cx="189.9" cy="69.6" r="0.42"/><circle cx="208.5" cy="66.7" r="0.42"/><circle cx="189.1" cy="74.4" r="0.42"/><circle cx="180.0" cy="76.0" r="0.42"/><circle cx="192.6" cy="63.5" r="0.42"/><circle cx="180.3" cy="74.6" r="0.42"/><circle cx="216.9" cy="72.7" r="0.42"/><circle cx="216.3" cy="68.3" r="0.42"/><circle cx="200.5" cy="61.5" r="0.42"/><circle cx="207.3" cy="67.3" r="0.42"/><circle cx="175.2" cy="63.2" r="0.42"/><circle cx="180.1" cy="72.2" r="0.42"/><circle cx="177.7" cy="74.3" r="0.42"/><circle cx="236.6" cy="73.1" r="0.42"/><circle cx="166.2" cy="79.1" r="0.42"/><circle cx="203.7" cy="75.6" r="0.42"/><circle cx="190.9" cy="61.8" r="0.42"/><circle cx="200.2" cy="73.3" r="0.42"/><circle cx="218.3" cy="67.0" r="0.42"/><circle cx="170.0" cy="78.8" r="0.42"/><circle cx="209.4" cy="65.6" r="0.42"/><circle cx="207.3" cy="73.6" r="0.42"/><circle cx="207.5" cy="61.6" r="0.42"/><circle cx="194.3" cy="59.5" r="0.42"/><circle cx="165.2" cy="69.1" r="0.42"/><circle cx="166.5" cy="72.8" r="0.42"/><circle cx="188.7" cy="77.3" r="0.42"/><circle cx="219.7" cy="76.4" r="0.42"/><circle cx="193.2" cy="74.0" r="0.42"/><circle cx="196.0" cy="66.8" r="0.42"/><circle cx="186.8" cy="72.0" r="0.42"/><circle cx="181.1" cy="78.9" r="0.42"/><circle cx="191.4" cy="68.6" r="0.42"/><circle cx="216.7" cy="79.0" r="0.42"/><circle cx="190.1" cy="71.1" r="0.42"/><circle cx="206.5" cy="74.9" r="0.42"/><circle cx="187.0" cy="66.3" r="0.42"/><circle cx="174.0" cy="74.6" r="0.42"/><circle cx="206.3" cy="55.8" r="0.42"/><circle cx="199.3" cy="73.2" r="0.42"/><circle cx="196.1" cy="25.7" r="0.42"/><circle cx="201.0" cy="58.2" r="0.42"/><circle cx="200.6" cy="54.7" r="0.42"/><circle cx="207.1" cy="53.8" r="0.42"/><circle cx="172.1" cy="75.0" r="0.42"/><circle cx="204.5" cy="54.1" r="0.42"/><circle cx="182.6" cy="66.3" r="0.42"/><circle cx="188.3" cy="77.6" r="0.42"/><circle cx="197.7" cy="62.2" r="0.42"/><circle cx="196.4" cy="56.4" r="0.42"/><circle cx="198.4" cy="65.3" r="0.42"/><circle cx="175.0" cy="69.7" r="0.42"/><circle cx="213.1" cy="77.8" r="0.42"/><circle cx="172.1" cy="73.1" r="0.42"/><circle cx="193.3" cy="79.1" r="0.42"/><circle cx="206.2" cy="47.8" r="0.42"/><circle cx="230.3" cy="79.8" r="0.42"/><circle cx="171.8" cy="74.1" r="0.42"/><circle cx="195.1" cy="66.9" r="0.42"/><circle cx="177.9" cy="74.6" r="0.42"/><circle cx="190.8" cy="77.7" r="0.42"/><circle cx="215.6" cy="74.7" r="0.42"/><circle cx="189.2" cy="44.9" r="0.42"/><circle cx="192.1" cy="86.1" r="0.42"/><circle cx="194.9" cy="62.9" r="0.42"/><circle cx="188.0" cy="63.6" r="0.42"/><circle cx="202.1" cy="73.0" r="0.42"/><circle cx="198.8" cy="69.9" r="0.42"/><circle cx="173.0" cy="77.6" r="0.42"/><circle cx="171.4" cy="75.8" r="0.42"/><circle cx="173.7" cy="73.6" r="0.42"/><circle cx="169.7" cy="54.2" r="0.42"/><circle cx="179.6" cy="65.0" r="0.42"/><circle cx="205.9" cy="77.7" r="0.42"/><circle cx="200.8" cy="58.4" r="0.42"/><circle cx="172.2" cy="71.9" r="0.42"/><circle cx="216.4" cy="75.0" r="0.42"/><circle cx="207.9" cy="82.4" r="0.42"/><circle cx="178.1" cy="79.7" r="0.42"/><circle cx="195.7" cy="59.5" r="0.42"/><circle cx="214.6" cy="73.1" r="0.42"/></g>
<path d="M197,42 H238.6 M197,65.5 H238.6 M197,42 V65.5" stroke="#8595a5" stroke-width="1" fill="none"/>
<g clip-path="url(#ca1)"><path d="M185.8,79.2 184.8,79.3 183.8,79.4 182.8,79.4 181.8,79.4 180.8,79.3 179.8,79.2 179.3,79.2 178.3,79.0 177.3,78.9 176.7,78.7 175.8,78.5 175.0,78.2 174.3,77.9 173.8,77.7 173.0,77.2 172.4,76.7 171.9,76.2 171.5,75.7 171.3,75.1 171.2,74.2 171.3,73.7 171.8,72.8 172.3,72.2 172.8,71.7 173.3,71.3 173.8,70.9 174.3,70.6 175.1,70.2 175.8,69.9 176.3,69.6 177.3,69.3 177.8,69.1 178.8,68.8 179.3,68.6 180.3,68.4 181.1,68.2 181.8,68.0 182.8,67.9 183.8,67.7 184.3,67.7 185.3,67.6 186.3,67.4 186.8,67.1 187.4,66.7 187.8,66.2 187.7,65.7 187.8,64.7 187.9,64.2 188.3,63.2 188.6,62.7 188.9,62.2 189.3,61.7 189.8,61.1 190.3,60.6 190.8,60.1 191.3,59.7 191.9,59.2 192.6,58.7 193.3,58.2 193.8,57.8 194.3,57.2 194.6,56.7 194.9,56.2 195.3,55.5 195.8,54.9 196.3,54.3 196.8,53.8 197.3,53.3 197.8,52.8 198.3,52.4 198.8,52.0 199.3,51.7 200.0,51.2 200.8,50.7 201.3,50.4 201.8,50.1 202.5,49.7 203.3,49.3 203.8,49.1 204.6,48.7 205.3,48.4 205.8,48.2 206.8,47.8 207.3,47.7 208.3,47.3 208.8,47.2 209.8,46.9 210.7,46.7 211.3,46.6 212.3,46.3 213.2,46.2 213.8,46.1 214.8,45.9 215.8,45.8 216.8,45.7 217.3,45.7 218.3,45.6 219.3,45.6 220.3,45.5 221.3,45.6 222.3,45.6 222.9,45.7 223.8,45.8 224.8,46.0 225.7,46.2 226.3,46.3 227.3,46.7 227.8,46.9 228.4,47.2 229.3,47.7 229.8,48.0 230.3,48.4 230.8,48.9 231.3,49.5 231.8,50.2 232.1,50.7 232.3,51.3 232.6,52.2 232.7,53.2 232.6,54.2 232.4,55.2 232.3,55.7 232.0,56.7 231.7,57.2 231.3,58.0 230.9,58.7 230.5,59.2 230.1,59.7 229.7,60.2 229.2,60.7 228.7,61.2 228.2,61.7 227.6,62.2 226.9,62.7 226.3,63.1 225.8,63.5 225.8,63.9 226.7,64.2 227.3,64.4 228.3,64.7 228.8,64.9 229.4,65.2 230.3,65.7 230.8,66.0 231.3,66.4 231.8,66.9 232.3,67.4 232.8,68.1 233.1,68.7 233.3,69.2 233.5,70.2 233.5,71.2 233.3,71.9 232.9,72.7 232.6,73.2 232.2,73.7 231.7,74.2 231.2,74.7 230.5,75.2 229.8,75.6 229.3,75.9 228.5,76.2 227.8,76.5 227.1,76.7 226.3,76.9 225.3,77.1 224.8,77.2 223.8,77.3 222.8,77.4 221.8,77.4 220.8,77.4 219.8,77.3 219.0,77.2 218.3,77.1 217.3,76.9 216.8,76.7 215.8,76.4 215.3,76.2 214.3,75.7 213.8,75.5 213.3,75.1 212.7,74.7 212.1,74.2 211.6,73.7 211.2,73.2 210.8,72.6 210.3,71.7 210.3,71.7 209.3,72.2 208.8,72.5 208.3,72.7 207.4,73.2 206.8,73.5 206.3,73.7 205.3,74.2 204.8,74.4 203.9,74.7 203.3,74.9 202.4,75.2 201.8,75.4 200.8,75.7 200.3,75.8 199.3,76.1 198.6,76.2 197.8,76.4 196.8,76.6 196.1,76.7 195.3,76.8 194.4,77.2 193.8,77.5 193.1,77.7 192.3,78.0 191.6,78.2 190.8,78.4 189.8,78.6 189.3,78.7 188.3,78.9 187.3,79.1 186.3,79.2 185.8,79.2ZM159.8,78.8 158.8,79.0 157.8,79.0 156.8,78.9 155.8,78.7 155.7,78.2 155.5,77.2 155.5,76.2 155.4,75.2 155.4,74.2 155.4,73.2 155.4,72.2 155.5,71.2 155.5,70.2 155.7,69.2 155.8,68.7 156.8,68.5 157.8,68.4 158.8,68.4 159.8,68.6 160.3,68.7 161.3,69.1 161.8,69.3 162.3,69.7 163.0,70.2 163.5,70.7 163.8,71.2 164.3,72.1 164.5,72.7 164.6,73.7 164.5,74.7 164.3,75.3 163.8,76.2 163.5,76.7 163.0,77.2 162.3,77.7 161.8,78.1 161.3,78.3 160.3,78.7 159.8,78.8Z" fill="#2b1a86" fill-rule="evenodd"/>
<path d="M206.8,69.3 205.8,69.5 204.8,69.6 203.8,69.6 202.8,69.5 201.8,69.3 201.3,69.2 200.3,68.9 199.8,68.6 199.0,68.2 198.3,67.7 197.8,67.2 197.4,66.7 197.1,66.2 197.1,65.2 196.8,64.7 196.3,64.2 196.0,63.2 196.1,62.2 196.2,61.2 196.3,60.7 196.7,59.7 197.0,59.2 197.4,58.7 197.9,58.2 198.7,57.7 199.2,57.2 199.5,56.7 199.9,56.2 200.3,55.7 200.8,55.1 201.3,54.6 201.8,54.1 202.3,53.7 202.9,53.2 203.6,52.7 204.3,52.2 204.8,51.9 205.3,51.6 206.0,51.2 206.8,50.8 207.3,50.6 208.1,50.2 208.8,49.9 209.3,49.7 210.3,49.3 210.8,49.1 211.8,48.7 212.3,48.5 213.2,48.2 213.8,48.0 214.8,47.7 215.3,47.6 216.3,47.4 217.3,47.2 217.8,47.1 218.8,47.0 219.8,46.9 220.8,46.9 221.8,46.9 222.8,47.0 223.8,47.2 224.3,47.3 225.3,47.5 225.8,47.7 226.8,48.1 227.3,48.4 227.8,48.7 228.4,49.2 229.0,49.7 229.4,50.2 229.8,51.0 230.1,51.7 230.2,52.7 230.1,53.7 229.8,54.7 229.6,55.2 229.3,55.7 228.8,56.4 228.3,57.0 227.8,57.6 227.3,58.0 226.8,58.4 226.3,58.8 225.7,59.2 224.9,59.7 224.3,60.1 223.8,60.3 223.1,60.7 222.3,61.2 221.8,61.4 221.3,61.7 220.5,62.2 219.8,62.7 219.3,63.1 218.8,63.4 218.3,63.7 217.6,64.2 216.8,64.7 216.3,64.9 215.8,65.2 214.8,65.6 214.3,65.8 213.3,66.2 212.8,66.4 212.0,66.7 211.4,67.2 210.8,67.6 210.3,67.9 209.7,68.2 208.8,68.6 208.3,68.8 207.3,69.1 206.8,69.3ZM224.8,74.7 223.8,74.9 222.8,75.1 221.8,75.2 220.8,75.2 219.8,75.1 218.8,74.9 217.8,74.7 217.3,74.5 216.4,74.2 215.8,73.9 215.3,73.6 214.8,73.2 214.2,72.7 213.8,72.1 213.4,71.2 213.4,70.2 213.7,69.2 214.0,68.7 214.4,68.2 215.0,67.7 215.8,67.2 216.3,67.0 217.2,66.7 217.8,66.5 218.8,66.4 219.8,66.3 220.8,66.3 221.8,66.3 222.8,66.4 223.8,66.5 224.6,66.7 225.3,66.9 226.1,67.2 226.8,67.5 227.3,67.8 227.8,68.2 228.4,68.7 228.8,69.3 229.2,70.2 229.2,71.2 228.8,72.2 228.4,72.7 227.9,73.2 227.3,73.6 226.8,73.9 226.2,74.2 225.3,74.6 224.8,74.7ZM188.8,77.3 187.8,77.4 186.8,77.5 185.8,77.5 184.8,77.5 183.8,77.5 182.8,77.4 181.9,77.2 181.3,77.1 180.3,76.7 179.8,76.5 179.1,76.2 178.4,75.7 177.9,75.2 177.6,74.7 177.4,73.7 177.6,72.7 178.0,72.2 178.4,71.7 179.0,71.2 179.8,70.7 180.3,70.4 180.8,70.2 181.8,69.8 182.3,69.6 183.3,69.4 184.0,69.2 184.8,69.1 185.8,68.9 186.8,68.8 187.8,68.8 188.3,68.7 189.3,68.5 190.3,68.4 191.3,68.3 192.3,68.4 193.3,68.5 193.9,68.7 194.8,68.9 195.5,69.2 196.3,69.6 196.8,70.0 197.3,70.5 197.7,71.2 197.9,71.7 197.8,72.4 197.5,73.2 197.1,73.7 196.4,74.2 195.8,74.6 195.3,74.9 194.6,75.2 193.8,75.6 193.3,75.9 192.6,76.2 191.8,76.5 191.2,76.7 190.3,76.9 189.3,77.2 188.8,77.3ZM158.8,76.3 157.8,76.4 156.8,76.2 156.3,76.0 155.8,75.7 155.7,74.7 155.7,73.7 155.7,72.7 155.8,71.7 156.3,71.4 156.8,71.2 157.8,71.0 158.8,71.1 159.3,71.2 160.2,71.7 160.8,72.2 161.1,72.7 161.3,73.3 161.3,74.1 161.1,74.7 160.8,75.2 160.2,75.7 159.3,76.2 158.8,76.3Z" fill="#3036c2" fill-rule="evenodd"/>
<path d="M206.8,67.3 205.8,67.3 204.8,67.3 204.3,67.2 203.3,67.0 202.4,66.7 201.8,66.4 201.3,66.1 200.8,65.7 200.3,65.1 200.0,64.2 199.8,63.2 199.3,62.8 199.1,62.2 199.1,61.2 199.3,60.2 199.5,59.7 199.8,59.1 200.3,58.4 200.7,57.7 201.0,57.2 201.4,56.7 201.8,56.2 202.3,55.6 202.8,55.1 203.3,54.6 203.8,54.2 204.4,53.7 205.1,53.2 205.8,52.7 206.3,52.4 206.8,52.1 207.5,51.7 208.3,51.2 208.8,51.0 209.3,50.7 210.2,50.2 210.8,49.9 211.3,49.7 212.3,49.2 212.8,49.0 213.6,48.7 214.3,48.4 215.1,48.2 215.8,48.0 216.8,47.8 217.3,47.7 218.3,47.5 219.3,47.4 220.3,47.4 221.3,47.4 222.3,47.4 223.3,47.6 223.9,47.7 224.8,47.9 225.6,48.2 226.3,48.5 226.8,48.8 227.5,49.2 228.0,49.7 228.5,50.2 228.8,50.7 229.3,51.7 229.4,52.2 229.4,53.2 229.3,53.8 229.0,54.7 228.8,55.2 228.3,55.9 227.8,56.5 227.3,57.1 226.8,57.5 226.3,57.9 225.8,58.3 225.2,58.7 224.3,59.2 223.8,59.5 223.3,59.7 222.3,60.2 221.8,60.5 221.2,60.7 220.3,61.1 219.8,61.4 219.1,61.7 218.3,62.2 217.8,62.5 217.3,62.8 216.8,63.2 216.0,63.7 215.3,64.1 214.8,64.4 214.1,64.7 213.3,65.1 212.8,65.3 211.8,65.6 211.3,65.8 210.4,66.2 209.8,66.5 209.2,66.7 208.3,67.0 207.3,67.2 206.8,67.3ZM223.8,73.7 222.8,73.9 221.8,74.1 220.8,74.1 219.8,74.0 218.8,73.8 218.3,73.7 217.3,73.3 216.8,73.1 216.2,72.7 215.7,72.2 215.3,71.6 215.1,70.7 215.3,69.9 215.7,69.2 216.3,68.7 216.8,68.4 217.3,68.2 218.3,67.8 218.8,67.7 219.8,67.5 220.8,67.5 221.8,67.5 222.8,67.6 223.3,67.7 224.3,68.0 224.8,68.2 225.7,68.7 226.3,69.2 226.8,69.7 227.0,70.2 227.0,71.2 226.8,71.8 226.3,72.4 225.8,72.8 225.2,73.2 224.3,73.6 223.8,73.7ZM187.8,76.7 186.8,76.8 185.8,76.8 184.8,76.8 184.2,76.7 183.3,76.6 182.3,76.3 181.8,76.1 180.9,75.7 180.3,75.3 179.8,74.8 179.4,74.2 179.3,73.2 179.8,72.3 180.3,71.7 180.8,71.3 181.3,71.0 181.8,70.7 182.8,70.3 183.3,70.1 184.3,69.8 184.8,69.7 185.8,69.5 186.8,69.4 187.8,69.3 188.8,69.3 189.8,69.3 190.8,69.3 191.8,69.4 192.8,69.7 193.3,69.9 194.0,70.2 194.8,70.7 195.3,71.2 195.6,71.7 195.7,72.7 195.3,73.4 194.8,74.0 194.3,74.4 193.8,74.7 193.1,75.2 192.3,75.6 191.8,75.8 190.8,76.1 190.3,76.3 189.3,76.5 188.3,76.7 187.8,76.7ZM158.8,74.8 157.8,75.0 157.0,74.7 156.5,74.2 156.5,73.2 157.0,72.7 157.8,72.4 158.8,72.6 159.3,73.0 159.6,73.7 159.3,74.4 158.8,74.8Z" fill="#1aa6d2" fill-rule="evenodd"/>
<path d="M207.8,64.7 206.8,64.8 205.8,64.7 205.3,64.6 204.4,64.2 203.8,63.7 203.3,63.3 202.8,62.7 202.5,62.2 202.3,61.3 202.3,60.7 202.3,60.2 202.5,59.2 202.8,58.6 203.3,57.7 203.6,57.2 204.0,56.7 204.5,56.2 205.0,55.7 205.5,55.2 206.1,54.7 206.6,54.2 207.2,53.7 207.8,53.2 208.3,52.8 208.8,52.4 209.3,52.0 209.8,51.6 210.4,51.2 211.2,50.7 211.8,50.3 212.3,50.1 213.1,49.7 213.8,49.4 214.3,49.2 215.3,48.8 215.8,48.7 216.8,48.4 217.8,48.2 218.3,48.1 219.3,48.0 220.3,48.0 221.3,48.0 222.3,48.1 223.0,48.2 223.8,48.4 224.8,48.7 225.3,48.9 225.9,49.2 226.7,49.7 227.3,50.2 227.7,50.7 228.0,51.2 228.3,52.1 228.4,52.7 228.3,53.7 228.2,54.2 227.8,55.0 227.3,55.7 226.9,56.2 226.4,56.7 225.9,57.2 225.3,57.6 224.8,58.0 224.3,58.3 223.6,58.7 222.8,59.1 222.3,59.3 221.5,59.7 220.8,60.0 220.2,60.2 219.3,60.5 218.8,60.7 217.8,61.1 217.3,61.3 216.3,61.7 215.8,61.9 215.2,62.2 214.3,62.7 213.8,62.9 213.3,63.2 212.3,63.7 211.8,63.9 210.8,64.2 210.3,64.3 209.3,64.5 208.3,64.7 207.8,64.7ZM188.3,75.7 187.3,75.8 186.3,75.8 185.3,75.8 184.8,75.7 183.8,75.5 183.0,75.2 182.3,74.8 181.8,74.3 181.5,73.7 181.7,72.7 182.0,72.2 182.6,71.7 183.3,71.3 183.8,71.0 184.7,70.7 185.3,70.6 186.3,70.4 187.3,70.2 188.1,70.2 188.4,70.2 189.3,70.2 190.3,70.4 191.3,70.6 191.8,70.7 192.7,71.2 193.2,71.7 193.4,72.2 193.3,73.2 192.9,73.7 192.4,74.2 191.8,74.6 191.3,74.9 190.5,75.2 189.8,75.4 188.8,75.6 188.3,75.7Z" fill="#4cbf5e" fill-rule="evenodd"/>
<path d="M210.8,61.7 209.8,61.9 208.8,61.9 207.8,61.8 207.3,61.6 206.6,61.2 206.2,60.7 206.0,59.7 206.2,58.7 206.4,58.2 206.8,57.2 207.0,56.7 207.3,56.2 207.8,55.3 208.2,54.7 208.5,54.2 208.9,53.7 209.3,53.2 209.8,52.7 210.4,52.2 211.0,51.7 211.7,51.2 212.3,50.8 212.8,50.5 213.4,50.2 214.3,49.8 214.8,49.6 215.8,49.3 216.3,49.1 217.3,48.9 218.3,48.7 218.8,48.7 219.8,48.6 220.8,48.6 221.8,48.6 222.3,48.7 223.3,48.9 224.2,49.2 224.8,49.5 225.3,49.7 226.0,50.2 226.5,50.7 226.9,51.2 227.3,52.1 227.4,52.7 227.3,53.7 227.2,54.2 226.8,55.0 226.3,55.7 225.9,56.2 225.3,56.7 224.8,57.1 224.3,57.5 223.8,57.8 223.1,58.2 222.3,58.6 221.8,58.9 221.0,59.2 220.3,59.5 219.7,59.7 218.8,60.0 218.0,60.2 217.3,60.4 216.3,60.6 215.8,60.8 214.8,61.0 213.8,61.1 213.3,61.2 212.3,61.4 211.3,61.6 210.8,61.7ZM188.8,74.3 187.8,74.4 186.8,74.5 185.8,74.4 185.2,74.2 184.5,73.7 184.3,73.2 184.5,72.7 185.0,72.2 185.8,71.9 186.3,71.7 187.3,71.5 188.3,71.5 189.3,71.7 189.8,71.8 190.4,72.2 190.5,73.2 190.1,73.7 189.3,74.1 188.8,74.3Z" fill="#ebe21d" fill-rule="evenodd"/>
<path d="M216.8,59.8 215.8,59.9 214.8,60.0 213.8,59.9 212.8,59.8 212.3,59.6 211.4,59.2 210.8,58.8 210.3,58.4 209.8,57.9 209.4,57.2 209.3,56.7 209.3,55.7 209.4,55.2 209.8,54.2 210.1,53.7 210.5,53.2 211.0,52.7 211.5,52.2 212.2,51.7 212.8,51.3 213.3,51.0 213.8,50.7 214.8,50.3 215.3,50.1 216.3,49.7 216.8,49.6 217.8,49.4 218.8,49.3 219.8,49.2 220.8,49.3 221.8,49.4 222.8,49.6 223.3,49.8 224.3,50.2 224.8,50.5 225.3,51.0 225.8,51.6 226.1,52.2 226.2,53.2 226.0,54.2 225.8,54.7 225.3,55.5 224.8,56.1 224.3,56.5 223.8,56.9 223.3,57.3 222.6,57.7 221.8,58.1 221.3,58.4 220.6,58.7 219.8,59.0 219.2,59.2 218.3,59.5 217.3,59.7 216.8,59.8Z" fill="#f39c1f" fill-rule="evenodd"/>
<path d="M215.8,59.2 214.8,59.2 214.3,59.1 213.3,58.9 212.8,58.7 211.9,58.2 211.4,57.7 210.9,57.2 210.7,56.7 210.5,55.7 210.6,54.7 210.8,54.2 211.3,53.5 211.8,52.9 212.3,52.5 212.8,52.1 213.3,51.7 214.2,51.2 214.8,50.9 215.3,50.7 216.3,50.4 217.0,50.2 217.8,50.1 218.8,50.0 219.8,50.0 220.8,50.0 221.6,50.2 222.3,50.4 223.0,50.7 223.8,51.2 224.3,51.7 224.6,52.2 224.8,52.9 224.8,53.7 224.7,54.2 224.3,55.0 223.8,55.7 223.3,56.2 222.8,56.6 222.3,57.0 221.8,57.3 221.2,57.7 220.3,58.1 219.8,58.3 218.8,58.7 218.3,58.8 217.3,59.1 216.3,59.2 215.8,59.2Z" fill="#e7321b" fill-rule="evenodd"/></g>
<path d="M157.8,28.7 H238.6 V109.8" fill="none" stroke="#b0b0b0" stroke-width="0.8"/>
<path d="M157.8,28.7 V109.8 H238.6" fill="none" stroke="#6e6e6e" stroke-width="0.9"/>
<text x="180.07" y="22.70" font-size="8.14" fill="#222" color="#222" textLength="34.27" lengthAdjust="spacingAndGlyphs">WMCL.1</text>
<text x="220.07" y="37.90" font-size="8.29" fill="#222" color="#222" textLength="16.38" lengthAdjust="spacingAndGlyphs">57%</text>
<circle cx="197" cy="42" r="1.5" fill="#75879a"/>
<circle cx="238.6" cy="42" r="1.5" fill="#75879a"/>
<circle cx="238.6" cy="56.5" r="1.5" fill="#75879a"/>
<circle cx="238.6" cy="65.5" r="1.5" fill="#75879a"/>
<text x="155.40" y="111.60" font-size="5.80" text-anchor="end" fill="#333" color="#333">10<tspan dy="-2.20" font-size="3.60">0</tspan></text>
<line x1="156.0" y1="109.6" x2="157.8" y2="109.6" stroke="#555" stroke-width="0.6"/>
<text x="159.00" y="119.00" font-size="5.80" text-anchor="middle" fill="#333" color="#333">10<tspan dy="-2.20" font-size="3.60">0</tspan></text>
<line x1="157.8" y1="109.8" x2="157.8" y2="111.0" stroke="#777" stroke-width="0.5"/>
<text x="155.40" y="96.80" font-size="5.80" text-anchor="end" fill="#333" color="#333">10<tspan dy="-2.20" font-size="3.60">1</tspan></text>
<line x1="156.0" y1="94.8" x2="157.8" y2="94.8" stroke="#555" stroke-width="0.6"/>
<text x="174.00" y="119.00" font-size="5.80" text-anchor="middle" fill="#333" color="#333">10<tspan dy="-2.20" font-size="3.60">1</tspan></text>
<line x1="172.8" y1="109.8" x2="172.8" y2="111.0" stroke="#777" stroke-width="0.5"/>
<text x="155.40" y="82.00" font-size="5.80" text-anchor="end" fill="#333" color="#333">10<tspan dy="-2.20" font-size="3.60">2</tspan></text>
<line x1="156.0" y1="80.0" x2="157.8" y2="80.0" stroke="#555" stroke-width="0.6"/>
<text x="189.00" y="119.00" font-size="5.80" text-anchor="middle" fill="#333" color="#333">10<tspan dy="-2.20" font-size="3.60">2</tspan></text>
<line x1="187.8" y1="109.8" x2="187.8" y2="111.0" stroke="#777" stroke-width="0.5"/>
<text x="155.40" y="67.20" font-size="5.80" text-anchor="end" fill="#333" color="#333">10<tspan dy="-2.20" font-size="3.60">3</tspan></text>
<line x1="156.0" y1="65.19999999999999" x2="157.8" y2="65.19999999999999" stroke="#555" stroke-width="0.6"/>
<text x="204.00" y="119.00" font-size="5.80" text-anchor="middle" fill="#333" color="#333">10<tspan dy="-2.20" font-size="3.60">3</tspan></text>
<line x1="202.8" y1="109.8" x2="202.8" y2="111.0" stroke="#777" stroke-width="0.5"/>
<text x="155.40" y="52.40" font-size="5.80" text-anchor="end" fill="#333" color="#333">10<tspan dy="-2.20" font-size="3.60">4</tspan></text>
<line x1="156.0" y1="50.39999999999999" x2="157.8" y2="50.39999999999999" stroke="#555" stroke-width="0.6"/>
<text x="219.00" y="119.00" font-size="5.80" text-anchor="middle" fill="#333" color="#333">10<tspan dy="-2.20" font-size="3.60">4</tspan></text>
<line x1="217.8" y1="109.8" x2="217.8" y2="111.0" stroke="#777" stroke-width="0.5"/>
<text x="155.40" y="37.60" font-size="5.80" text-anchor="end" fill="#333" color="#333">10<tspan dy="-2.20" font-size="3.60">5</tspan></text>
<line x1="156.0" y1="35.599999999999994" x2="157.8" y2="35.599999999999994" stroke="#555" stroke-width="0.6"/>
<text x="234.00" y="119.00" font-size="5.80" text-anchor="middle" fill="#333" color="#333">10<tspan dy="-2.20" font-size="3.60">5</tspan></text>
<line x1="232.8" y1="109.8" x2="232.8" y2="111.0" stroke="#777" stroke-width="0.5"/>
<clipPath id="ca2"><rect x="260.8" y="28.7" width="81.5" height="81.1"/></clipPath>
<g clip-path="url(#ca2)" fill="#8a86c0" opacity="0.55"><circle cx="301.4" cy="49.1" r="0.42"/><circle cx="305.5" cy="62.3" r="0.42"/><circle cx="312.3" cy="52.4" r="0.42"/><circle cx="295.4" cy="68.5" r="0.42"/><circle cx="302.6" cy="69.5" r="0.42"/><circle cx="322.5" cy="43.3" r="0.42"/><circle cx="300.7" cy="63.0" r="0.42"/><circle cx="305.7" cy="58.5" r="0.42"/><circle cx="292.8" cy="82.1" r="0.42"/><circle cx="299.2" cy="62.4" r="0.42"/><circle cx="281.4" cy="68.7" r="0.42"/><circle cx="299.0" cy="56.6" r="0.42"/><circle cx="295.2" cy="65.5" r="0.42"/><circle cx="291.9" cy="66.2" r="0.42"/><circle cx="334.1" cy="79.7" r="0.42"/><circle cx="302.4" cy="79.4" r="0.42"/><circle cx="297.4" cy="72.0" r="0.42"/><circle cx="337.6" cy="76.1" r="0.42"/><circle cx="300.9" cy="68.2" r="0.42"/><circle cx="296.2" cy="79.7" r="0.42"/><circle cx="274.9" cy="56.2" r="0.42"/><circle cx="320.3" cy="69.8" r="0.42"/><circle cx="292.2" cy="76.5" r="0.42"/><circle cx="307.5" cy="81.1" r="0.42"/><circle cx="283.5" cy="78.8" r="0.42"/><circle cx="309.9" cy="50.1" r="0.42"/><circle cx="297.8" cy="62.8" r="0.42"/><circle cx="292.2" cy="57.7" r="0.42"/><circle cx="306.9" cy="76.6" r="0.42"/><circle cx="286.2" cy="66.2" r="0.42"/><circle cx="295.3" cy="71.5" r="0.42"/><circle cx="289.6" cy="71.8" r="0.42"/><circle cx="306.2" cy="64.7" r="0.42"/><circle cx="309.4" cy="79.6" r="0.42"/><circle cx="274.7" cy="69.8" r="0.42"/><circle cx="301.8" cy="61.8" r="0.42"/><circle cx="318.3" cy="71.8" r="0.42"/><circle cx="310.2" cy="66.0" r="0.42"/><circle cx="274.4" cy="74.0" r="0.42"/><circle cx="286.6" cy="47.1" r="0.42"/><circle cx="316.7" cy="48.0" r="0.42"/><circle cx="286.9" cy="73.1" r="0.42"/><circle cx="289.6" cy="67.8" r="0.42"/><circle cx="305.3" cy="66.8" r="0.42"/><circle cx="307.1" cy="62.7" r="0.42"/><circle cx="294.8" cy="61.5" r="0.42"/><circle cx="293.5" cy="79.1" r="0.42"/><circle cx="282.5" cy="51.0" r="0.42"/><circle cx="288.4" cy="70.0" r="0.42"/><circle cx="317.0" cy="54.5" r="0.42"/><circle cx="314.7" cy="65.0" r="0.42"/><circle cx="298.4" cy="72.1" r="0.42"/><circle cx="309.1" cy="75.6" r="0.42"/><circle cx="302.3" cy="67.6" r="0.42"/><circle cx="300.1" cy="63.2" r="0.42"/><circle cx="295.4" cy="64.5" r="0.42"/><circle cx="283.0" cy="80.2" r="0.42"/><circle cx="318.2" cy="35.2" r="0.42"/><circle cx="273.1" cy="69.8" r="0.42"/><circle cx="270.2" cy="75.2" r="0.42"/><circle cx="287.5" cy="66.0" r="0.42"/><circle cx="312.1" cy="73.3" r="0.42"/><circle cx="286.5" cy="65.6" r="0.42"/><circle cx="311.8" cy="82.1" r="0.42"/><circle cx="293.4" cy="64.0" r="0.42"/><circle cx="303.3" cy="68.0" r="0.42"/><circle cx="269.0" cy="61.7" r="0.42"/><circle cx="312.0" cy="75.0" r="0.42"/><circle cx="285.6" cy="76.7" r="0.42"/><circle cx="306.3" cy="62.2" r="0.42"/><circle cx="275.4" cy="62.6" r="0.42"/><circle cx="272.9" cy="92.6" r="0.42"/><circle cx="293.3" cy="63.1" r="0.42"/><circle cx="297.5" cy="70.3" r="0.42"/><circle cx="317.3" cy="30.1" r="0.42"/><circle cx="268.3" cy="66.7" r="0.42"/><circle cx="303.9" cy="68.2" r="0.42"/><circle cx="292.7" cy="69.5" r="0.42"/><circle cx="292.1" cy="66.6" r="0.42"/><circle cx="287.8" cy="72.9" r="0.42"/><circle cx="300.3" cy="52.9" r="0.42"/><circle cx="296.5" cy="68.4" r="0.42"/><circle cx="273.6" cy="64.6" r="0.42"/><circle cx="312.8" cy="47.8" r="0.42"/><circle cx="319.5" cy="80.8" r="0.42"/><circle cx="289.9" cy="70.3" r="0.42"/><circle cx="280.9" cy="76.3" r="0.42"/><circle cx="323.3" cy="36.0" r="0.42"/><circle cx="296.0" cy="69.2" r="0.42"/><circle cx="312.0" cy="69.7" r="0.42"/><circle cx="265.1" cy="55.6" r="0.42"/><circle cx="298.2" cy="52.6" r="0.42"/><circle cx="292.6" cy="76.6" r="0.42"/><circle cx="301.7" cy="63.6" r="0.42"/><circle cx="328.9" cy="68.7" r="0.42"/><circle cx="304.3" cy="89.1" r="0.42"/><circle cx="289.7" cy="63.1" r="0.42"/><circle cx="311.1" cy="75.2" r="0.42"/><circle cx="290.1" cy="55.6" r="0.42"/><circle cx="288.0" cy="60.7" r="0.42"/><circle cx="293.3" cy="60.7" r="0.42"/><circle cx="296.6" cy="72.1" r="0.42"/><circle cx="311.8" cy="45.2" r="0.42"/><circle cx="293.8" cy="71.1" r="0.42"/><circle cx="304.2" cy="81.9" r="0.42"/><circle cx="285.1" cy="62.7" r="0.42"/><circle cx="302.4" cy="73.8" r="0.42"/><circle cx="307.8" cy="66.8" r="0.42"/><circle cx="317.4" cy="57.3" r="0.42"/><circle cx="303.4" cy="68.8" r="0.42"/><circle cx="289.8" cy="70.9" r="0.42"/><circle cx="306.2" cy="47.2" r="0.42"/><circle cx="281.2" cy="83.5" r="0.42"/><circle cx="307.5" cy="81.4" r="0.42"/><circle cx="305.1" cy="68.5" r="0.42"/><circle cx="306.4" cy="76.8" r="0.42"/><circle cx="299.2" cy="81.5" r="0.42"/><circle cx="286.4" cy="78.9" r="0.42"/><circle cx="317.5" cy="76.1" r="0.42"/><circle cx="307.9" cy="56.1" r="0.42"/><circle cx="287.3" cy="73.8" r="0.42"/><circle cx="276.8" cy="64.9" r="0.42"/><circle cx="295.4" cy="58.8" r="0.42"/><circle cx="310.2" cy="70.4" r="0.42"/><circle cx="307.6" cy="70.1" r="0.42"/><circle cx="277.3" cy="76.9" r="0.42"/><circle cx="281.1" cy="65.8" r="0.42"/><circle cx="306.3" cy="72.0" r="0.42"/><circle cx="301.3" cy="65.4" r="0.42"/><circle cx="303.6" cy="66.0" r="0.42"/><circle cx="286.9" cy="69.6" r="0.42"/><circle cx="304.6" cy="47.5" r="0.42"/><circle cx="297.4" cy="71.6" r="0.42"/><circle cx="299.0" cy="52.9" r="0.42"/><circle cx="286.4" cy="69.3" r="0.42"/><circle cx="294.8" cy="37.6" r="0.42"/><circle cx="302.8" cy="58.1" r="0.42"/><circle cx="300.2" cy="66.0" r="0.42"/><circle cx="295.5" cy="67.0" r="0.42"/><circle cx="291.6" cy="74.3" r="0.42"/><circle cx="274.3" cy="79.0" r="0.42"/><circle cx="287.0" cy="74.6" r="0.42"/><circle cx="312.7" cy="76.1" r="0.42"/><circle cx="277.2" cy="73.0" r="0.42"/><circle cx="290.6" cy="81.6" r="0.42"/><circle cx="301.5" cy="39.6" r="0.42"/><circle cx="287.5" cy="70.8" r="0.42"/><circle cx="306.6" cy="36.3" r="0.42"/><circle cx="265.3" cy="59.7" r="0.42"/><circle cx="290.7" cy="71.2" r="0.42"/><circle cx="272.9" cy="66.9" r="0.42"/><circle cx="288.4" cy="71.3" r="0.42"/><circle cx="282.0" cy="65.6" r="0.42"/><circle cx="297.6" cy="76.4" r="0.42"/><circle cx="283.8" cy="58.0" r="0.42"/><circle cx="292.7" cy="71.3" r="0.42"/><circle cx="313.8" cy="86.6" r="0.42"/><circle cx="291.2" cy="61.8" r="0.42"/><circle cx="326.0" cy="75.2" r="0.42"/><circle cx="293.7" cy="55.1" r="0.42"/><circle cx="285.4" cy="71.4" r="0.42"/><circle cx="267.7" cy="73.2" r="0.42"/><circle cx="290.8" cy="74.1" r="0.42"/><circle cx="335.9" cy="72.0" r="0.42"/><circle cx="326.5" cy="80.6" r="0.42"/><circle cx="309.6" cy="79.3" r="0.42"/><circle cx="320.2" cy="76.8" r="0.42"/><circle cx="315.8" cy="77.5" r="0.42"/><circle cx="318.3" cy="44.5" r="0.42"/><circle cx="312.3" cy="71.5" r="0.42"/><circle cx="331.2" cy="46.9" r="0.42"/><circle cx="302.8" cy="45.6" r="0.42"/><circle cx="315.2" cy="55.5" r="0.42"/><circle cx="284.7" cy="76.8" r="0.42"/><circle cx="315.6" cy="79.6" r="0.42"/><circle cx="300.1" cy="69.9" r="0.42"/><circle cx="301.8" cy="59.5" r="0.42"/><circle cx="292.3" cy="69.5" r="0.42"/><circle cx="288.7" cy="69.4" r="0.42"/><circle cx="306.9" cy="81.2" r="0.42"/><circle cx="291.5" cy="61.6" r="0.42"/><circle cx="283.3" cy="72.4" r="0.42"/><circle cx="277.2" cy="75.6" r="0.42"/><circle cx="278.9" cy="49.8" r="0.42"/><circle cx="320.1" cy="70.3" r="0.42"/><circle cx="288.4" cy="70.1" r="0.42"/><circle cx="286.9" cy="55.4" r="0.42"/><circle cx="304.3" cy="66.0" r="0.42"/><circle cx="341.5" cy="41.0" r="0.42"/><circle cx="305.0" cy="43.5" r="0.42"/><circle cx="295.1" cy="75.3" r="0.42"/><circle cx="315.8" cy="61.9" r="0.42"/><circle cx="320.4" cy="26.2" r="0.42"/><circle cx="299.4" cy="65.9" r="0.42"/><circle cx="297.5" cy="66.5" r="0.42"/><circle cx="305.3" cy="76.4" r="0.42"/><circle cx="282.6" cy="73.1" r="0.42"/><circle cx="318.6" cy="66.2" r="0.42"/><circle cx="298.8" cy="85.5" r="0.42"/><circle cx="294.9" cy="72.3" r="0.42"/><circle cx="311.0" cy="57.4" r="0.42"/><circle cx="315.5" cy="47.3" r="0.42"/><circle cx="295.8" cy="75.6" r="0.42"/><circle cx="306.5" cy="48.4" r="0.42"/><circle cx="296.5" cy="74.5" r="0.42"/><circle cx="298.3" cy="49.8" r="0.42"/><circle cx="303.0" cy="70.7" r="0.42"/><circle cx="290.6" cy="53.1" r="0.42"/><circle cx="314.2" cy="73.6" r="0.42"/><circle cx="305.6" cy="78.5" r="0.42"/><circle cx="304.2" cy="49.7" r="0.42"/><circle cx="298.1" cy="72.2" r="0.42"/><circle cx="304.0" cy="76.7" r="0.42"/><circle cx="309.4" cy="67.1" r="0.42"/><circle cx="273.6" cy="69.2" r="0.42"/><circle cx="305.2" cy="54.6" r="0.42"/><circle cx="285.5" cy="64.4" r="0.42"/><circle cx="289.5" cy="67.5" r="0.42"/><circle cx="293.8" cy="53.8" r="0.42"/><circle cx="293.5" cy="65.9" r="0.42"/><circle cx="283.0" cy="77.6" r="0.42"/><circle cx="288.5" cy="70.5" r="0.42"/><circle cx="275.0" cy="72.0" r="0.42"/><circle cx="284.7" cy="64.7" r="0.42"/><circle cx="313.6" cy="77.8" r="0.42"/><circle cx="305.6" cy="79.0" r="0.42"/><circle cx="306.7" cy="51.2" r="0.42"/><circle cx="283.3" cy="79.1" r="0.42"/><circle cx="278.5" cy="65.8" r="0.42"/><circle cx="279.4" cy="67.1" r="0.42"/><circle cx="309.6" cy="59.8" r="0.42"/><circle cx="288.1" cy="71.7" r="0.42"/><circle cx="309.7" cy="70.9" r="0.42"/><circle cx="288.6" cy="59.0" r="0.42"/><circle cx="305.1" cy="70.2" r="0.42"/><circle cx="293.5" cy="49.2" r="0.42"/><circle cx="316.0" cy="66.6" r="0.42"/><circle cx="289.6" cy="76.7" r="0.42"/><circle cx="283.0" cy="69.4" r="0.42"/><circle cx="305.5" cy="41.4" r="0.42"/><circle cx="302.7" cy="63.6" r="0.42"/><circle cx="295.8" cy="75.3" r="0.42"/><circle cx="289.7" cy="66.6" r="0.42"/><circle cx="305.9" cy="57.2" r="0.42"/><circle cx="300.8" cy="48.6" r="0.42"/><circle cx="306.2" cy="68.7" r="0.42"/><circle cx="300.8" cy="67.7" r="0.42"/><circle cx="298.2" cy="80.7" r="0.42"/><circle cx="312.2" cy="71.9" r="0.42"/><circle cx="301.6" cy="70.5" r="0.42"/><circle cx="297.8" cy="65.8" r="0.42"/><circle cx="278.2" cy="68.4" r="0.42"/><circle cx="270.4" cy="73.7" r="0.42"/><circle cx="322.8" cy="66.9" r="0.42"/><circle cx="303.0" cy="49.9" r="0.42"/><circle cx="314.5" cy="39.8" r="0.42"/><circle cx="330.2" cy="38.8" r="0.42"/><circle cx="325.6" cy="75.5" r="0.42"/><circle cx="290.6" cy="57.5" r="0.42"/><circle cx="294.0" cy="61.2" r="0.42"/><circle cx="297.3" cy="71.3" r="0.42"/><circle cx="265.5" cy="61.2" r="0.42"/><circle cx="311.6" cy="75.9" r="0.42"/><circle cx="276.0" cy="73.4" r="0.42"/><circle cx="307.3" cy="68.1" r="0.42"/><circle cx="303.0" cy="70.9" r="0.42"/><circle cx="299.6" cy="61.6" r="0.42"/><circle cx="314.8" cy="59.3" r="0.42"/><circle cx="292.0" cy="67.0" r="0.42"/><circle cx="282.6" cy="75.6" r="0.42"/><circle cx="297.1" cy="69.2" r="0.42"/><circle cx="280.7" cy="78.3" r="0.42"/><circle cx="304.6" cy="77.4" r="0.42"/><circle cx="319.6" cy="55.3" r="0.42"/><circle cx="288.0" cy="59.8" r="0.42"/><circle cx="294.2" cy="77.8" r="0.42"/><circle cx="332.4" cy="81.5" r="0.42"/><circle cx="300.5" cy="76.2" r="0.42"/><circle cx="297.4" cy="58.6" r="0.42"/><circle cx="291.4" cy="70.7" r="0.42"/><circle cx="270.2" cy="65.3" r="0.42"/><circle cx="311.9" cy="46.0" r="0.42"/><circle cx="314.5" cy="40.0" r="0.42"/><circle cx="293.9" cy="63.3" r="0.42"/><circle cx="306.8" cy="47.6" r="0.42"/><circle cx="272.5" cy="67.6" r="0.42"/><circle cx="321.9" cy="72.6" r="0.42"/><circle cx="313.2" cy="76.9" r="0.42"/><circle cx="300.3" cy="74.6" r="0.42"/><circle cx="278.6" cy="76.2" r="0.42"/><circle cx="292.8" cy="68.7" r="0.42"/><circle cx="284.9" cy="68.3" r="0.42"/><circle cx="303.5" cy="58.3" r="0.42"/><circle cx="295.6" cy="83.3" r="0.42"/><circle cx="316.7" cy="56.9" r="0.42"/><circle cx="301.5" cy="69.6" r="0.42"/><circle cx="290.4" cy="79.7" r="0.42"/><circle cx="307.7" cy="51.7" r="0.42"/><circle cx="286.0" cy="64.0" r="0.42"/><circle cx="316.8" cy="67.6" r="0.42"/><circle cx="312.8" cy="45.9" r="0.42"/><circle cx="298.2" cy="49.3" r="0.42"/><circle cx="276.8" cy="64.7" r="0.42"/><circle cx="284.7" cy="60.1" r="0.42"/><circle cx="313.4" cy="72.1" r="0.42"/><circle cx="290.1" cy="74.5" r="0.42"/><circle cx="321.9" cy="72.0" r="0.42"/><circle cx="295.3" cy="71.6" r="0.42"/><circle cx="284.6" cy="60.2" r="0.42"/><circle cx="264.9" cy="71.5" r="0.42"/><circle cx="300.5" cy="57.3" r="0.42"/><circle cx="311.6" cy="66.2" r="0.42"/><circle cx="278.4" cy="75.2" r="0.42"/><circle cx="295.7" cy="66.0" r="0.42"/><circle cx="290.7" cy="78.8" r="0.42"/><circle cx="292.4" cy="67.6" r="0.42"/><circle cx="328.4" cy="78.2" r="0.42"/><circle cx="300.1" cy="74.0" r="0.42"/><circle cx="301.9" cy="85.0" r="0.42"/><circle cx="292.0" cy="70.6" r="0.42"/><circle cx="288.1" cy="79.3" r="0.42"/><circle cx="276.1" cy="51.7" r="0.42"/><circle cx="275.6" cy="66.7" r="0.42"/><circle cx="264.6" cy="78.5" r="0.42"/><circle cx="293.9" cy="65.0" r="0.42"/><circle cx="315.3" cy="78.4" r="0.42"/><circle cx="305.0" cy="65.5" r="0.42"/><circle cx="282.3" cy="77.4" r="0.42"/><circle cx="284.7" cy="65.0" r="0.42"/><circle cx="286.7" cy="74.0" r="0.42"/><circle cx="292.4" cy="71.6" r="0.42"/><circle cx="304.4" cy="75.7" r="0.42"/><circle cx="301.8" cy="80.6" r="0.42"/><circle cx="296.9" cy="71.6" r="0.42"/><circle cx="281.4" cy="69.0" r="0.42"/><circle cx="290.3" cy="38.4" r="0.42"/><circle cx="286.6" cy="69.3" r="0.42"/><circle cx="286.1" cy="71.3" r="0.42"/><circle cx="329.3" cy="72.4" r="0.42"/><circle cx="287.0" cy="71.6" r="0.42"/><circle cx="286.6" cy="66.0" r="0.42"/><circle cx="284.5" cy="49.9" r="0.42"/><circle cx="298.1" cy="68.6" r="0.42"/><circle cx="290.2" cy="72.8" r="0.42"/><circle cx="293.9" cy="71.9" r="0.42"/><circle cx="301.7" cy="33.4" r="0.42"/><circle cx="324.1" cy="63.5" r="0.42"/><circle cx="321.9" cy="37.8" r="0.42"/><circle cx="285.5" cy="75.6" r="0.42"/><circle cx="275.4" cy="73.6" r="0.42"/><circle cx="322.5" cy="76.7" r="0.42"/><circle cx="275.8" cy="80.4" r="0.42"/><circle cx="291.4" cy="66.3" r="0.42"/><circle cx="336.5" cy="76.5" r="0.42"/><circle cx="301.8" cy="54.9" r="0.42"/><circle cx="288.2" cy="67.0" r="0.42"/><circle cx="304.0" cy="70.4" r="0.42"/><circle cx="319.3" cy="52.2" r="0.42"/><circle cx="310.4" cy="76.5" r="0.42"/><circle cx="297.9" cy="76.4" r="0.42"/><circle cx="290.0" cy="77.2" r="0.42"/><circle cx="292.7" cy="66.2" r="0.42"/><circle cx="299.5" cy="67.8" r="0.42"/><circle cx="306.3" cy="42.6" r="0.42"/><circle cx="290.3" cy="74.9" r="0.42"/><circle cx="296.1" cy="69.8" r="0.42"/><circle cx="289.3" cy="78.2" r="0.42"/><circle cx="291.3" cy="70.8" r="0.42"/><circle cx="308.8" cy="79.0" r="0.42"/><circle cx="325.0" cy="62.4" r="0.42"/><circle cx="291.9" cy="61.0" r="0.42"/><circle cx="320.1" cy="71.4" r="0.42"/><circle cx="286.4" cy="63.0" r="0.42"/><circle cx="305.1" cy="70.1" r="0.42"/><circle cx="275.9" cy="73.4" r="0.42"/><circle cx="318.0" cy="70.4" r="0.42"/><circle cx="292.7" cy="83.0" r="0.42"/><circle cx="307.3" cy="76.2" r="0.42"/><circle cx="297.0" cy="67.5" r="0.42"/><circle cx="314.6" cy="68.7" r="0.42"/><circle cx="296.2" cy="65.0" r="0.42"/><circle cx="276.2" cy="64.9" r="0.42"/><circle cx="301.9" cy="75.8" r="0.42"/><circle cx="300.5" cy="73.9" r="0.42"/><circle cx="277.0" cy="72.2" r="0.42"/><circle cx="269.2" cy="70.1" r="0.42"/><circle cx="311.4" cy="53.5" r="0.42"/><circle cx="282.6" cy="65.7" r="0.42"/><circle cx="282.5" cy="74.8" r="0.42"/><circle cx="271.0" cy="66.7" r="0.42"/><circle cx="300.3" cy="71.9" r="0.42"/><circle cx="304.5" cy="67.1" r="0.42"/><circle cx="300.1" cy="76.8" r="0.42"/><circle cx="279.8" cy="48.1" r="0.42"/><circle cx="303.0" cy="84.6" r="0.42"/><circle cx="308.3" cy="40.4" r="0.42"/><circle cx="285.6" cy="65.9" r="0.42"/><circle cx="300.7" cy="68.7" r="0.42"/><circle cx="298.2" cy="68.4" r="0.42"/><circle cx="290.5" cy="68.6" r="0.42"/><circle cx="321.4" cy="76.9" r="0.42"/><circle cx="275.2" cy="82.1" r="0.42"/><circle cx="278.0" cy="71.6" r="0.42"/><circle cx="318.8" cy="70.8" r="0.42"/><circle cx="324.6" cy="77.6" r="0.42"/><circle cx="330.5" cy="47.9" r="0.42"/><circle cx="303.8" cy="66.8" r="0.42"/><circle cx="282.3" cy="65.4" r="0.42"/><circle cx="282.0" cy="70.7" r="0.42"/><circle cx="282.8" cy="72.2" r="0.42"/><circle cx="265.7" cy="79.7" r="0.42"/><circle cx="315.5" cy="70.8" r="0.42"/><circle cx="298.1" cy="66.5" r="0.42"/><circle cx="293.7" cy="56.4" r="0.42"/><circle cx="303.8" cy="60.7" r="0.42"/><circle cx="293.2" cy="70.8" r="0.42"/><circle cx="283.7" cy="71.2" r="0.42"/><circle cx="280.5" cy="71.7" r="0.42"/><circle cx="296.1" cy="57.2" r="0.42"/><circle cx="326.3" cy="82.1" r="0.42"/><circle cx="305.2" cy="45.5" r="0.42"/><circle cx="288.8" cy="52.2" r="0.42"/><circle cx="319.6" cy="82.6" r="0.42"/><circle cx="294.0" cy="51.3" r="0.42"/><circle cx="289.3" cy="74.1" r="0.42"/><circle cx="293.0" cy="65.7" r="0.42"/><circle cx="299.3" cy="60.7" r="0.42"/><circle cx="300.5" cy="78.2" r="0.42"/><circle cx="320.9" cy="82.1" r="0.42"/><circle cx="297.1" cy="62.3" r="0.42"/><circle cx="297.4" cy="71.9" r="0.42"/><circle cx="307.3" cy="81.5" r="0.42"/><circle cx="290.3" cy="64.7" r="0.42"/><circle cx="284.1" cy="75.2" r="0.42"/><circle cx="284.3" cy="76.3" r="0.42"/><circle cx="296.1" cy="65.7" r="0.42"/><circle cx="299.8" cy="46.1" r="0.42"/><circle cx="277.9" cy="68.4" r="0.42"/><circle cx="303.1" cy="62.1" r="0.42"/><circle cx="277.1" cy="67.1" r="0.42"/><circle cx="309.4" cy="64.8" r="0.42"/><circle cx="290.7" cy="69.0" r="0.42"/><circle cx="310.5" cy="68.4" r="0.42"/><circle cx="301.5" cy="73.8" r="0.42"/><circle cx="279.5" cy="72.0" r="0.42"/><circle cx="283.4" cy="52.4" r="0.42"/><circle cx="309.3" cy="77.2" r="0.42"/><circle cx="334.0" cy="36.5" r="0.42"/><circle cx="293.2" cy="81.2" r="0.42"/><circle cx="291.8" cy="69.4" r="0.42"/><circle cx="319.4" cy="70.8" r="0.42"/><circle cx="309.0" cy="32.8" r="0.42"/><circle cx="277.7" cy="71.0" r="0.42"/><circle cx="291.2" cy="77.2" r="0.42"/><circle cx="282.9" cy="76.8" r="0.42"/><circle cx="295.1" cy="79.4" r="0.42"/><circle cx="289.3" cy="73.2" r="0.42"/><circle cx="328.9" cy="86.1" r="0.42"/><circle cx="306.5" cy="66.7" r="0.42"/><circle cx="294.8" cy="74.7" r="0.42"/><circle cx="300.0" cy="77.7" r="0.42"/><circle cx="323.4" cy="78.2" r="0.42"/><circle cx="298.6" cy="79.5" r="0.42"/><circle cx="301.9" cy="73.2" r="0.42"/><circle cx="300.9" cy="45.5" r="0.42"/><circle cx="292.0" cy="51.6" r="0.42"/><circle cx="306.9" cy="42.9" r="0.42"/><circle cx="298.3" cy="65.2" r="0.42"/><circle cx="282.5" cy="71.5" r="0.42"/><circle cx="276.9" cy="55.8" r="0.42"/><circle cx="277.1" cy="46.4" r="0.42"/><circle cx="304.8" cy="78.9" r="0.42"/><circle cx="325.3" cy="75.0" r="0.42"/><circle cx="304.4" cy="69.1" r="0.42"/><circle cx="314.0" cy="74.6" r="0.42"/><circle cx="276.4" cy="67.4" r="0.42"/><circle cx="263.8" cy="74.4" r="0.42"/><circle cx="293.6" cy="72.2" r="0.42"/><circle cx="287.8" cy="60.4" r="0.42"/><circle cx="304.8" cy="57.3" r="0.42"/><circle cx="277.8" cy="73.5" r="0.42"/><circle cx="289.8" cy="70.6" r="0.42"/><circle cx="300.7" cy="59.3" r="0.42"/><circle cx="315.5" cy="58.2" r="0.42"/><circle cx="315.6" cy="60.4" r="0.42"/><circle cx="297.5" cy="40.9" r="0.42"/><circle cx="296.9" cy="69.8" r="0.42"/><circle cx="304.2" cy="51.0" r="0.42"/><circle cx="302.6" cy="77.5" r="0.42"/><circle cx="317.4" cy="77.1" r="0.42"/><circle cx="298.2" cy="38.9" r="0.42"/><circle cx="284.3" cy="71.5" r="0.42"/><circle cx="313.3" cy="65.1" r="0.42"/><circle cx="285.8" cy="55.9" r="0.42"/><circle cx="319.3" cy="41.7" r="0.42"/><circle cx="281.6" cy="78.8" r="0.42"/><circle cx="293.6" cy="54.8" r="0.42"/><circle cx="283.3" cy="81.2" r="0.42"/><circle cx="301.7" cy="69.5" r="0.42"/><circle cx="290.2" cy="73.3" r="0.42"/><circle cx="305.6" cy="69.0" r="0.42"/><circle cx="313.6" cy="72.6" r="0.42"/><circle cx="334.7" cy="71.9" r="0.42"/><circle cx="303.5" cy="69.4" r="0.42"/><circle cx="293.3" cy="59.1" r="0.42"/><circle cx="297.3" cy="74.4" r="0.42"/><circle cx="262.5" cy="79.2" r="0.42"/><circle cx="286.5" cy="72.4" r="0.42"/><circle cx="271.6" cy="71.3" r="0.42"/><circle cx="294.3" cy="66.2" r="0.42"/><circle cx="287.1" cy="71.8" r="0.42"/><circle cx="277.9" cy="81.3" r="0.42"/><circle cx="291.8" cy="74.7" r="0.42"/><circle cx="330.8" cy="74.8" r="0.42"/><circle cx="281.7" cy="68.4" r="0.42"/><circle cx="280.7" cy="68.7" r="0.42"/><circle cx="281.1" cy="74.8" r="0.42"/><circle cx="296.2" cy="68.7" r="0.42"/><circle cx="308.5" cy="65.7" r="0.42"/><circle cx="290.1" cy="70.5" r="0.42"/><circle cx="297.0" cy="64.8" r="0.42"/><circle cx="292.6" cy="79.0" r="0.42"/><circle cx="280.1" cy="65.8" r="0.42"/><circle cx="297.2" cy="48.6" r="0.42"/><circle cx="301.3" cy="82.0" r="0.42"/><circle cx="292.9" cy="64.8" r="0.42"/><circle cx="283.7" cy="63.6" r="0.42"/><circle cx="295.1" cy="71.0" r="0.42"/><circle cx="288.5" cy="72.0" r="0.42"/><circle cx="293.3" cy="75.0" r="0.42"/><circle cx="274.7" cy="60.3" r="0.42"/><circle cx="311.2" cy="72.3" r="0.42"/><circle cx="277.4" cy="76.1" r="0.42"/><circle cx="325.0" cy="43.7" r="0.42"/><circle cx="305.3" cy="81.9" r="0.42"/><circle cx="276.8" cy="68.9" r="0.42"/><circle cx="285.7" cy="70.9" r="0.42"/><circle cx="304.1" cy="60.5" r="0.42"/><circle cx="289.2" cy="64.1" r="0.42"/><circle cx="293.6" cy="59.8" r="0.42"/><circle cx="276.9" cy="70.8" r="0.42"/><circle cx="291.2" cy="64.5" r="0.42"/><circle cx="290.5" cy="53.2" r="0.42"/><circle cx="308.9" cy="69.3" r="0.42"/><circle cx="322.9" cy="58.9" r="0.42"/><circle cx="274.4" cy="81.3" r="0.42"/><circle cx="297.1" cy="75.5" r="0.42"/><circle cx="294.0" cy="61.1" r="0.42"/><circle cx="265.1" cy="74.3" r="0.42"/><circle cx="321.6" cy="73.8" r="0.42"/><circle cx="294.8" cy="70.9" r="0.42"/><circle cx="285.4" cy="66.0" r="0.42"/><circle cx="303.0" cy="52.1" r="0.42"/><circle cx="304.1" cy="62.9" r="0.42"/><circle cx="311.3" cy="55.1" r="0.42"/><circle cx="293.5" cy="63.6" r="0.42"/><circle cx="313.7" cy="80.2" r="0.42"/><circle cx="291.6" cy="86.3" r="0.42"/><circle cx="286.7" cy="56.7" r="0.42"/><circle cx="304.5" cy="69.4" r="0.42"/><circle cx="288.6" cy="81.0" r="0.42"/><circle cx="328.0" cy="75.9" r="0.42"/><circle cx="312.9" cy="65.4" r="0.42"/><circle cx="317.8" cy="80.7" r="0.42"/><circle cx="279.9" cy="58.4" r="0.42"/><circle cx="309.4" cy="73.9" r="0.42"/><circle cx="270.9" cy="62.4" r="0.42"/><circle cx="312.9" cy="74.2" r="0.42"/><circle cx="316.6" cy="80.5" r="0.42"/><circle cx="306.0" cy="54.7" r="0.42"/><circle cx="272.7" cy="71.3" r="0.42"/><circle cx="296.2" cy="68.5" r="0.42"/><circle cx="280.2" cy="77.6" r="0.42"/><circle cx="306.3" cy="43.9" r="0.42"/><circle cx="274.8" cy="82.1" r="0.42"/><circle cx="301.1" cy="74.0" r="0.42"/><circle cx="300.9" cy="68.0" r="0.42"/><circle cx="305.5" cy="70.9" r="0.42"/><circle cx="300.2" cy="44.2" r="0.42"/><circle cx="300.0" cy="65.0" r="0.42"/><circle cx="268.0" cy="66.3" r="0.42"/><circle cx="307.0" cy="73.1" r="0.42"/><circle cx="288.8" cy="72.5" r="0.42"/><circle cx="309.0" cy="75.2" r="0.42"/><circle cx="331.3" cy="70.6" r="0.42"/><circle cx="319.8" cy="77.8" r="0.42"/><circle cx="284.9" cy="72.7" r="0.42"/><circle cx="278.9" cy="65.0" r="0.42"/><circle cx="278.4" cy="75.3" r="0.42"/><circle cx="291.9" cy="67.5" r="0.42"/><circle cx="310.9" cy="77.1" r="0.42"/><circle cx="290.6" cy="57.7" r="0.42"/><circle cx="300.2" cy="75.0" r="0.42"/><circle cx="270.2" cy="59.0" r="0.42"/><circle cx="294.5" cy="72.9" r="0.42"/><circle cx="320.6" cy="72.8" r="0.42"/><circle cx="306.9" cy="71.4" r="0.42"/><circle cx="290.8" cy="66.1" r="0.42"/><circle cx="304.3" cy="48.6" r="0.42"/><circle cx="285.1" cy="70.9" r="0.42"/><circle cx="306.1" cy="76.3" r="0.42"/><circle cx="300.0" cy="74.3" r="0.42"/><circle cx="280.2" cy="68.2" r="0.42"/><circle cx="292.5" cy="56.4" r="0.42"/><circle cx="308.5" cy="56.4" r="0.42"/><circle cx="303.5" cy="53.0" r="0.42"/><circle cx="327.4" cy="75.7" r="0.42"/><circle cx="287.0" cy="75.3" r="0.42"/><circle cx="311.8" cy="63.9" r="0.42"/><circle cx="302.6" cy="63.8" r="0.42"/><circle cx="298.6" cy="71.9" r="0.42"/><circle cx="285.9" cy="61.7" r="0.42"/><circle cx="298.0" cy="68.2" r="0.42"/><circle cx="308.6" cy="62.4" r="0.42"/><circle cx="302.4" cy="69.7" r="0.42"/><circle cx="317.0" cy="63.2" r="0.42"/><circle cx="314.1" cy="41.3" r="0.42"/><circle cx="273.1" cy="65.3" r="0.42"/><circle cx="290.5" cy="67.5" r="0.42"/><circle cx="289.3" cy="64.5" r="0.42"/><circle cx="306.9" cy="71.5" r="0.42"/><circle cx="303.4" cy="60.1" r="0.42"/><circle cx="310.8" cy="51.8" r="0.42"/><circle cx="327.7" cy="56.9" r="0.42"/><circle cx="268.1" cy="74.1" r="0.42"/><circle cx="295.6" cy="68.3" r="0.42"/><circle cx="292.4" cy="52.8" r="0.42"/><circle cx="293.9" cy="62.2" r="0.42"/><circle cx="290.4" cy="60.2" r="0.42"/><circle cx="318.3" cy="74.9" r="0.42"/><circle cx="298.2" cy="67.3" r="0.42"/><circle cx="310.5" cy="72.6" r="0.42"/><circle cx="315.2" cy="69.7" r="0.42"/><circle cx="303.8" cy="76.8" r="0.42"/><circle cx="302.3" cy="46.9" r="0.42"/><circle cx="287.2" cy="72.8" r="0.42"/><circle cx="299.3" cy="81.0" r="0.42"/><circle cx="282.6" cy="68.8" r="0.42"/><circle cx="291.7" cy="72.8" r="0.42"/><circle cx="312.3" cy="64.8" r="0.42"/><circle cx="304.8" cy="50.4" r="0.42"/><circle cx="301.0" cy="38.6" r="0.42"/><circle cx="284.2" cy="66.8" r="0.42"/><circle cx="323.3" cy="67.0" r="0.42"/><circle cx="303.7" cy="45.8" r="0.42"/><circle cx="305.9" cy="81.4" r="0.42"/><circle cx="289.5" cy="66.0" r="0.42"/><circle cx="291.9" cy="76.2" r="0.42"/><circle cx="289.6" cy="75.7" r="0.42"/><circle cx="283.3" cy="90.3" r="0.42"/></g>
<path d="M300.5,42 H342.3 M300.5,65 H342.3 M300.5,42 V65" stroke="#8595a5" stroke-width="1" fill="none"/>
<g clip-path="url(#ca2)"><path d="M290.3,78.7 289.3,78.8 288.3,78.9 287.3,78.9 286.3,78.9 285.3,78.8 284.3,78.7 283.8,78.7 282.8,78.5 281.8,78.4 281.2,78.2 280.3,78.0 279.5,77.7 278.8,77.4 278.3,77.2 277.5,76.7 276.9,76.2 276.4,75.7 276.0,75.2 275.8,74.5 275.7,73.7 275.9,73.2 276.3,72.3 276.8,71.7 277.3,71.2 277.8,70.8 278.3,70.4 278.8,70.1 279.6,69.7 280.3,69.4 280.8,69.1 281.8,68.7 282.3,68.6 283.3,68.3 283.8,68.1 284.8,67.8 285.5,67.7 286.3,67.5 287.3,67.3 288.3,67.2 288.8,67.2 289.8,67.0 290.6,66.7 291.3,66.2 291.3,66.0 291.2,65.2 291.3,64.3 291.5,63.7 291.8,63.0 292.3,62.2 292.6,61.7 293.0,61.2 293.5,60.7 294.0,60.2 294.5,59.7 295.1,59.2 295.8,58.7 296.3,58.3 296.8,58.0 297.3,57.7 298.2,57.2 298.6,56.7 298.9,56.2 299.3,55.7 299.8,55.2 300.3,54.7 300.8,54.2 301.4,53.7 302.0,53.2 302.7,52.7 303.3,52.3 303.8,51.9 304.3,51.6 305.0,51.2 305.8,50.8 306.3,50.5 306.9,50.2 307.8,49.8 308.3,49.5 309.1,49.2 309.8,48.9 310.4,48.7 311.3,48.3 311.8,48.2 312.8,47.9 313.4,47.7 314.3,47.4 315.3,47.2 315.8,47.1 316.8,46.8 317.5,46.7 318.3,46.5 319.3,46.3 320.2,46.2 320.8,46.1 321.8,45.9 322.8,45.8 323.8,45.8 324.8,45.8 325.8,45.8 326.8,45.8 327.8,46.0 328.8,46.2 329.3,46.3 330.3,46.5 330.8,46.7 331.8,47.2 332.3,47.4 332.8,47.7 333.5,48.2 334.0,48.7 334.5,49.2 334.9,49.7 335.3,50.4 335.6,51.2 335.8,51.8 336.0,52.7 336.0,53.7 335.9,54.7 335.8,55.5 335.6,56.2 335.3,57.1 335.0,57.7 334.7,58.2 334.3,58.9 333.8,59.5 333.3,60.1 332.8,60.6 332.3,61.1 331.8,61.5 331.3,61.9 330.8,62.3 330.3,62.7 329.5,63.2 328.9,63.7 329.8,63.9 330.8,64.2 331.3,64.3 332.2,64.7 332.8,65.0 333.3,65.2 334.1,65.7 334.8,66.2 335.3,66.7 335.8,67.2 336.2,67.7 336.5,68.2 336.8,69.0 337.0,69.7 337.0,70.7 336.8,71.7 336.6,72.2 336.3,72.7 335.8,73.4 335.3,73.9 334.8,74.4 334.3,74.8 333.6,75.2 332.8,75.6 332.3,75.9 331.5,76.2 330.8,76.4 329.8,76.7 329.3,76.8 328.3,77.0 327.3,77.1 326.3,77.2 325.8,77.2 324.9,77.2 324.3,77.2 323.3,77.1 322.3,77.0 321.3,76.7 320.8,76.6 319.8,76.3 319.3,76.1 318.3,75.7 317.8,75.5 317.3,75.2 316.5,74.7 315.9,74.2 315.4,73.7 314.9,73.2 314.5,72.7 314.2,72.2 313.8,71.5 313.3,71.7 312.4,72.2 311.8,72.5 311.3,72.8 310.3,73.2 309.8,73.4 309.2,73.7 308.3,74.1 307.8,74.2 306.8,74.6 306.3,74.7 305.3,75.0 304.7,75.2 303.8,75.4 302.8,75.7 302.3,75.8 301.3,76.0 300.3,76.2 299.8,76.3 298.8,76.7 298.3,76.9 297.5,77.2 296.8,77.5 296.0,77.7 295.3,77.9 294.3,78.1 293.8,78.2 292.8,78.4 291.8,78.6 290.8,78.7 290.3,78.7ZM262.8,78.3 261.8,78.5 260.8,78.5 259.8,78.4 258.8,78.2 258.7,77.7 258.5,76.7 258.5,75.7 258.4,74.7 258.4,73.7 258.4,72.7 258.4,71.7 258.5,70.7 258.5,69.7 258.7,68.7 258.8,68.2 259.8,68.0 260.8,67.9 261.8,67.9 262.8,68.1 263.3,68.2 264.3,68.6 264.8,68.8 265.3,69.2 266.0,69.7 266.5,70.2 266.8,70.7 267.3,71.6 267.5,72.2 267.6,73.2 267.5,74.2 267.3,74.8 266.8,75.7 266.5,76.2 266.0,76.7 265.3,77.2 264.8,77.6 264.3,77.8 263.3,78.2 262.8,78.3Z" fill="#2b1a86" fill-rule="evenodd"/>
<path d="M309.3,69.3 308.3,69.4 307.3,69.4 306.3,69.3 305.7,69.2 304.8,69.0 303.8,68.7 303.3,68.5 302.6,68.2 301.9,67.7 301.4,67.2 301.0,66.7 300.7,66.2 300.5,65.2 300.3,64.4 299.8,64.0 299.6,63.2 299.5,62.2 299.7,61.2 299.8,60.7 300.1,59.7 300.4,59.2 300.8,58.6 301.3,58.1 301.9,57.7 302.7,57.2 303.1,56.7 303.5,56.2 303.9,55.7 304.4,55.2 304.9,54.7 305.4,54.2 306.0,53.7 306.7,53.2 307.3,52.8 307.8,52.4 308.3,52.1 309.1,51.7 309.8,51.3 310.3,51.1 311.0,50.7 311.8,50.3 312.3,50.1 313.3,49.7 313.8,49.5 314.5,49.2 315.3,48.9 315.8,48.7 316.8,48.3 317.3,48.2 318.3,47.8 318.9,47.7 319.8,47.5 320.8,47.3 321.3,47.2 322.3,47.0 323.3,46.9 324.3,46.9 325.3,46.9 326.3,47.0 327.3,47.1 327.8,47.2 328.8,47.4 329.6,47.7 330.3,48.0 330.8,48.3 331.5,48.7 332.1,49.2 332.6,49.7 333.0,50.2 333.3,50.9 333.5,51.7 333.6,52.7 333.4,53.7 333.2,54.2 332.8,55.0 332.4,55.7 332.0,56.2 331.5,56.7 331.0,57.2 330.4,57.7 329.8,58.1 329.3,58.5 328.8,58.8 328.1,59.2 327.3,59.7 326.8,60.0 326.3,60.3 325.7,60.7 325.0,61.2 324.3,61.7 323.8,62.1 323.3,62.5 322.8,62.9 322.3,63.3 321.7,63.7 320.8,64.2 320.3,64.5 319.8,64.8 318.9,65.2 318.3,65.5 317.7,65.7 316.8,66.0 316.3,66.2 315.5,66.7 314.8,67.2 314.3,67.5 313.8,67.8 312.9,68.2 312.3,68.5 311.7,68.7 310.8,69.0 309.8,69.2 309.3,69.3ZM327.8,74.3 326.8,74.5 325.8,74.6 324.8,74.6 323.8,74.6 322.8,74.5 321.8,74.3 321.3,74.2 320.3,73.8 319.8,73.6 319.0,73.2 318.3,72.7 317.8,72.3 317.4,71.7 317.1,71.2 317.0,70.2 317.2,69.2 317.5,68.7 317.9,68.2 318.5,67.7 319.3,67.2 319.8,67.0 320.8,66.7 321.3,66.6 322.3,66.4 323.3,66.3 324.3,66.3 325.3,66.3 326.3,66.4 327.3,66.5 328.1,66.7 328.8,66.9 329.6,67.2 330.3,67.5 330.8,67.8 331.4,68.2 331.9,68.7 332.3,69.3 332.6,70.2 332.5,71.2 332.3,71.7 331.8,72.3 331.3,72.8 330.7,73.2 329.8,73.6 329.3,73.9 328.3,74.2 327.8,74.3ZM292.8,76.7 291.8,76.9 290.8,77.0 289.8,77.0 288.8,77.0 287.8,76.9 286.8,76.7 286.3,76.6 285.3,76.4 284.7,76.2 283.8,75.8 283.3,75.5 282.8,75.2 282.3,74.7 281.8,73.8 281.7,73.2 281.8,72.6 282.3,71.7 282.7,71.2 283.3,70.7 283.8,70.3 284.3,70.1 285.0,69.7 285.8,69.4 286.3,69.2 287.3,68.9 288.1,68.7 288.8,68.5 289.8,68.4 290.8,68.3 291.8,68.2 292.3,68.1 293.3,67.9 294.3,67.8 295.3,67.7 296.3,67.8 297.3,67.8 298.3,68.0 299.0,68.2 299.8,68.4 300.5,68.7 301.3,69.2 301.7,69.7 302.0,70.2 302.3,71.2 302.1,72.2 301.7,72.7 301.3,73.2 300.6,73.7 299.8,74.2 299.3,74.4 298.7,74.7 297.9,75.2 297.3,75.5 296.8,75.7 295.8,76.1 295.3,76.2 294.3,76.5 293.3,76.7 292.8,76.7ZM261.8,75.8 260.8,75.9 259.8,75.7 259.3,75.5 258.8,75.2 258.7,74.2 258.7,73.2 258.7,72.2 258.8,71.2 259.3,70.9 259.8,70.7 260.8,70.5 261.8,70.6 262.3,70.7 263.2,71.2 263.8,71.7 264.1,72.2 264.3,72.8 264.3,73.6 264.1,74.2 263.8,74.7 263.2,75.2 262.3,75.7 261.8,75.8Z" fill="#3036c2" fill-rule="evenodd"/>
<path d="M311.8,66.8 310.8,67.0 309.8,67.1 308.8,67.1 307.8,67.0 306.8,66.8 306.3,66.6 305.3,66.2 304.8,65.9 304.3,65.5 303.8,65.0 303.4,64.2 303.5,63.2 302.9,62.7 302.6,62.2 302.6,61.2 302.7,60.2 302.9,59.7 303.3,58.9 303.8,58.2 304.2,57.7 304.5,57.2 304.8,56.7 305.3,56.1 305.8,55.6 306.3,55.1 306.8,54.6 307.3,54.2 307.9,53.7 308.6,53.2 309.3,52.7 309.8,52.4 310.3,52.1 311.0,51.7 311.8,51.3 312.3,51.0 312.8,50.7 313.8,50.2 314.3,49.9 314.8,49.7 315.8,49.2 316.3,49.0 317.1,48.7 317.8,48.5 318.6,48.2 319.3,48.0 320.3,47.8 320.8,47.7 321.8,47.5 322.8,47.4 323.8,47.3 324.8,47.3 325.8,47.4 326.8,47.5 327.8,47.7 328.3,47.8 329.3,48.1 329.8,48.3 330.5,48.7 331.2,49.2 331.7,49.7 332.1,50.2 332.4,50.7 332.8,51.7 332.8,52.2 332.8,52.9 332.6,53.7 332.3,54.4 331.8,55.2 331.4,55.7 331.0,56.2 330.4,56.7 329.8,57.2 329.3,57.6 328.8,57.9 328.3,58.2 327.5,58.7 326.8,59.1 326.3,59.3 325.5,59.7 324.8,60.0 324.3,60.3 323.5,60.7 322.8,61.1 322.3,61.5 321.8,61.9 321.3,62.2 320.7,62.7 320.0,63.2 319.3,63.6 318.8,63.9 318.3,64.2 317.3,64.7 316.8,64.9 316.1,65.2 315.3,65.5 314.6,65.7 313.8,66.1 313.3,66.4 312.3,66.7 311.8,66.8ZM326.8,73.2 325.8,73.4 324.8,73.4 323.8,73.4 322.8,73.3 322.3,73.2 321.3,72.9 320.8,72.7 319.9,72.2 319.4,71.7 319.0,71.2 318.9,70.2 319.3,69.3 319.8,68.8 320.3,68.5 320.8,68.2 321.8,67.9 322.6,67.7 323.3,67.6 324.3,67.5 325.3,67.6 326.3,67.7 326.8,67.8 327.8,68.1 328.3,68.3 329.1,68.7 329.7,69.2 330.1,69.7 330.3,70.7 329.8,71.7 329.3,72.2 328.8,72.5 328.3,72.7 327.3,73.1 326.8,73.2ZM291.3,76.2 290.3,76.2 289.4,76.2 288.8,76.2 287.8,76.0 286.8,75.8 286.3,75.6 285.3,75.2 284.8,74.9 284.3,74.4 283.8,73.8 283.6,73.2 283.8,72.2 284.1,71.7 284.5,71.2 285.1,70.7 285.8,70.3 286.3,70.0 287.1,69.7 287.8,69.4 288.7,69.2 289.3,69.1 290.3,68.9 291.3,68.8 292.3,68.7 292.8,68.7 293.8,68.6 294.8,68.7 295.3,68.7 296.3,68.9 297.3,69.1 297.8,69.3 298.5,69.7 299.2,70.2 299.7,70.7 299.9,71.2 300.0,72.2 299.7,72.7 299.3,73.2 298.8,73.7 298.0,74.2 297.3,74.7 296.8,74.9 296.2,75.2 295.3,75.5 294.6,75.7 293.8,75.9 292.8,76.1 291.8,76.2 291.3,76.2ZM261.8,74.3 260.8,74.5 260.0,74.2 259.5,73.7 259.5,72.7 260.0,72.2 260.8,71.9 261.8,72.1 262.3,72.5 262.6,73.2 262.3,73.9 261.8,74.3Z" fill="#1aa6d2" fill-rule="evenodd"/>
<path d="M313.3,64.3 312.3,64.5 311.3,64.6 310.3,64.7 309.3,64.6 308.3,64.3 307.8,64.0 307.3,63.7 306.8,63.2 306.3,62.6 305.9,61.7 305.8,61.2 305.8,60.2 305.8,59.7 306.2,58.7 306.4,58.2 306.8,57.5 307.3,56.8 307.8,56.2 308.3,55.7 308.8,55.2 309.3,54.8 309.8,54.4 310.3,53.9 310.8,53.5 311.3,53.1 311.8,52.6 312.4,52.2 313.0,51.7 313.7,51.2 314.3,50.8 314.8,50.5 315.4,50.2 316.3,49.7 316.8,49.5 317.5,49.2 318.3,48.9 319.0,48.7 319.8,48.5 320.8,48.2 321.3,48.1 322.3,48.0 323.3,47.9 324.3,47.9 325.3,47.9 326.3,48.0 327.2,48.2 327.8,48.3 328.8,48.7 329.3,48.9 329.8,49.2 330.5,49.7 331.0,50.2 331.3,50.7 331.7,51.7 331.8,52.2 331.8,52.7 331.6,53.7 331.3,54.3 330.8,55.1 330.3,55.7 329.8,56.2 329.3,56.6 328.8,57.0 328.3,57.3 327.6,57.7 326.8,58.2 326.3,58.4 325.7,58.7 324.8,59.1 324.3,59.3 323.3,59.7 322.8,59.9 322.0,60.2 321.3,60.5 320.8,60.7 319.8,61.2 319.3,61.5 318.8,61.8 318.2,62.2 317.4,62.7 316.8,63.0 316.3,63.3 315.3,63.7 314.8,63.9 313.8,64.2 313.3,64.3ZM291.8,75.2 290.8,75.2 289.8,75.2 289.3,75.1 288.3,74.9 287.6,74.7 286.8,74.3 286.3,73.9 285.8,73.2 285.8,72.7 285.9,72.2 286.3,71.6 286.8,71.2 287.6,70.7 288.3,70.4 288.8,70.2 289.8,69.9 290.8,69.7 291.3,69.7 292.3,69.6 293.3,69.6 294.2,69.7 294.8,69.8 295.8,70.0 296.3,70.2 297.1,70.7 297.6,71.2 297.8,72.2 297.3,73.0 296.8,73.5 296.3,73.9 295.8,74.2 294.8,74.6 294.3,74.8 293.3,75.0 292.3,75.2 291.8,75.2Z" fill="#4cbf5e" fill-rule="evenodd"/>
<path d="M312.8,61.7 311.8,61.7 311.3,61.6 310.3,61.2 309.8,60.7 309.6,60.2 309.6,59.2 309.8,58.3 310.0,57.7 310.3,57.1 310.7,56.2 311.0,55.7 311.3,55.1 311.8,54.3 312.2,53.7 312.7,53.2 313.1,52.7 313.7,52.2 314.3,51.7 314.8,51.3 315.3,51.0 315.8,50.6 316.6,50.2 317.3,49.9 317.8,49.7 318.8,49.3 319.3,49.1 320.3,48.9 321.1,48.7 321.8,48.6 322.8,48.5 323.8,48.4 324.8,48.5 325.8,48.6 326.6,48.7 327.3,48.9 328.2,49.2 328.8,49.5 329.3,49.8 329.8,50.2 330.3,50.8 330.7,51.7 330.8,52.2 330.8,52.9 330.6,53.7 330.3,54.3 329.8,55.0 329.3,55.6 328.8,56.1 328.3,56.5 327.8,56.8 327.2,57.2 326.3,57.7 325.8,58.0 325.3,58.2 324.3,58.6 323.8,58.8 322.8,59.2 322.3,59.3 321.3,59.6 320.8,59.8 319.8,60.0 319.1,60.2 318.3,60.4 317.3,60.6 316.8,60.7 315.8,61.0 315.1,61.2 314.3,61.4 313.3,61.7 312.8,61.7ZM292.8,73.8 291.8,73.9 290.8,73.9 289.8,73.7 289.3,73.5 288.8,73.1 288.7,72.2 289.2,71.7 289.8,71.4 290.3,71.2 291.3,71.0 292.3,70.9 293.3,71.0 294.1,71.2 294.8,71.7 295.0,72.2 294.8,72.7 294.2,73.2 293.3,73.6 292.8,73.8Z" fill="#ebe21d" fill-rule="evenodd"/>
<path d="M319.8,59.2 318.8,59.3 317.8,59.3 316.8,59.2 316.3,59.1 315.3,58.8 314.8,58.6 314.3,58.2 313.7,57.7 313.2,57.2 312.8,56.2 312.9,55.2 313.2,54.2 313.5,53.7 313.8,53.2 314.3,52.7 314.8,52.2 315.4,51.7 316.1,51.2 316.8,50.8 317.3,50.5 318.0,50.2 318.8,49.9 319.4,49.7 320.3,49.4 321.3,49.2 321.8,49.2 322.8,49.1 323.8,49.1 324.8,49.1 325.4,49.2 326.3,49.4 327.2,49.7 327.8,50.0 328.3,50.3 328.8,50.7 329.3,51.3 329.6,52.2 329.6,53.2 329.3,54.1 328.9,54.7 328.5,55.2 328.0,55.7 327.4,56.2 326.8,56.6 326.3,56.9 325.8,57.2 324.9,57.7 324.3,57.9 323.7,58.2 322.8,58.5 322.2,58.7 321.3,58.9 320.3,59.1 319.8,59.2Z" fill="#f39c1f" fill-rule="evenodd"/>
<path d="M321.8,58.2 320.8,58.4 319.8,58.6 318.8,58.6 317.8,58.5 316.8,58.3 316.3,58.1 315.6,57.7 314.9,57.2 314.5,56.7 314.2,56.2 314.0,55.2 314.2,54.2 314.5,53.7 314.8,53.2 315.3,52.7 315.8,52.2 316.4,51.7 317.2,51.2 317.8,50.9 318.3,50.7 319.3,50.3 319.8,50.2 320.8,50.0 321.8,49.8 322.8,49.8 323.8,49.8 324.8,49.9 325.8,50.2 326.3,50.4 326.8,50.7 327.5,51.2 327.9,51.7 328.2,52.7 328.1,53.7 327.8,54.4 327.3,55.1 326.8,55.6 326.3,56.0 325.8,56.4 325.3,56.7 324.4,57.2 323.8,57.5 323.3,57.7 322.3,58.1 321.8,58.2Z" fill="#e7321b" fill-rule="evenodd"/></g>
<path d="M260.8,28.7 H342.3 V109.8" fill="none" stroke="#b0b0b0" stroke-width="0.8"/>
<path d="M260.8,28.7 V109.8 H342.3" fill="none" stroke="#6e6e6e" stroke-width="0.9"/>
<text x="283.47" y="22.60" font-size="8.14" fill="#222" color="#222" textLength="34.57" lengthAdjust="spacingAndGlyphs">BCWM.1</text>
<text x="318.17" y="37.90" font-size="8.29" fill="#222" color="#222" textLength="23.28" lengthAdjust="spacingAndGlyphs">58.5%</text>
<circle cx="300.5" cy="42" r="1.5" fill="#75879a"/>
<circle cx="342.3" cy="42" r="1.5" fill="#75879a"/>
<circle cx="342.3" cy="56.3" r="1.5" fill="#75879a"/>
<circle cx="342.3" cy="65" r="1.5" fill="#75879a"/>
<text x="258.40" y="111.60" font-size="5.80" text-anchor="end" fill="#333" color="#333">10<tspan dy="-2.20" font-size="3.60">0</tspan></text>
<line x1="259.0" y1="109.6" x2="260.8" y2="109.6" stroke="#555" stroke-width="0.6"/>
<text x="262.00" y="119.00" font-size="5.80" text-anchor="middle" fill="#333" color="#333">10<tspan dy="-2.20" font-size="3.60">0</tspan></text>
<line x1="260.8" y1="109.8" x2="260.8" y2="111.0" stroke="#777" stroke-width="0.5"/>
<text x="258.40" y="96.80" font-size="5.80" text-anchor="end" fill="#333" color="#333">10<tspan dy="-2.20" font-size="3.60">1</tspan></text>
<line x1="259.0" y1="94.8" x2="260.8" y2="94.8" stroke="#555" stroke-width="0.6"/>
<text x="277.00" y="119.00" font-size="5.80" text-anchor="middle" fill="#333" color="#333">10<tspan dy="-2.20" font-size="3.60">1</tspan></text>
<line x1="275.8" y1="109.8" x2="275.8" y2="111.0" stroke="#777" stroke-width="0.5"/>
<text x="258.40" y="82.00" font-size="5.80" text-anchor="end" fill="#333" color="#333">10<tspan dy="-2.20" font-size="3.60">2</tspan></text>
<line x1="259.0" y1="80.0" x2="260.8" y2="80.0" stroke="#555" stroke-width="0.6"/>
<text x="292.00" y="119.00" font-size="5.80" text-anchor="middle" fill="#333" color="#333">10<tspan dy="-2.20" font-size="3.60">2</tspan></text>
<line x1="290.8" y1="109.8" x2="290.8" y2="111.0" stroke="#777" stroke-width="0.5"/>
<text x="258.40" y="67.20" font-size="5.80" text-anchor="end" fill="#333" color="#333">10<tspan dy="-2.20" font-size="3.60">3</tspan></text>
<line x1="259.0" y1="65.19999999999999" x2="260.8" y2="65.19999999999999" stroke="#555" stroke-width="0.6"/>
<text x="307.00" y="119.00" font-size="5.80" text-anchor="middle" fill="#333" color="#333">10<tspan dy="-2.20" font-size="3.60">3</tspan></text>
<line x1="305.8" y1="109.8" x2="305.8" y2="111.0" stroke="#777" stroke-width="0.5"/>
<text x="258.40" y="52.40" font-size="5.80" text-anchor="end" fill="#333" color="#333">10<tspan dy="-2.20" font-size="3.60">4</tspan></text>
<line x1="259.0" y1="50.39999999999999" x2="260.8" y2="50.39999999999999" stroke="#555" stroke-width="0.6"/>
<text x="322.00" y="119.00" font-size="5.80" text-anchor="middle" fill="#333" color="#333">10<tspan dy="-2.20" font-size="3.60">4</tspan></text>
<line x1="320.8" y1="109.8" x2="320.8" y2="111.0" stroke="#777" stroke-width="0.5"/>
<text x="258.40" y="37.60" font-size="5.80" text-anchor="end" fill="#333" color="#333">10<tspan dy="-2.20" font-size="3.60">5</tspan></text>
<line x1="259.0" y1="35.599999999999994" x2="260.8" y2="35.599999999999994" stroke="#555" stroke-width="0.6"/>
<text x="337.00" y="119.00" font-size="5.80" text-anchor="middle" fill="#333" color="#333">10<tspan dy="-2.20" font-size="3.60">5</tspan></text>
<line x1="335.8" y1="109.8" x2="335.8" y2="111.0" stroke="#777" stroke-width="0.5"/>
<line x1="405.2" y1="25" x2="405.2" y2="110.75" stroke="#222" stroke-width="0.9"/>
<line x1="404.8" y1="110.3" x2="460.8" y2="110.3" stroke="#222" stroke-width="0.9"/>
<line x1="403" y1="26.5" x2="405.2" y2="26.5" stroke="#222" stroke-width="0.7"/>
<text x="398.91" y="28.67" font-size="6.20" fill="#444" color="#444" text-anchor="end">60</text>
<line x1="403" y1="54.4" x2="405.2" y2="54.4" stroke="#222" stroke-width="0.7"/>
<text x="398.91" y="56.57" font-size="6.20" fill="#444" color="#444" text-anchor="end">40</text>
<line x1="403" y1="82.2" x2="405.2" y2="82.2" stroke="#222" stroke-width="0.7"/>
<text x="398.91" y="84.37" font-size="6.20" fill="#444" color="#444" text-anchor="end">20</text>
<line x1="403" y1="110.1" x2="405.2" y2="110.1" stroke="#222" stroke-width="0.7"/>
<text x="398.91" y="112.27" font-size="6.20" fill="#444" color="#444" text-anchor="end">0</text>
<rect x="412" y="61" width="10" height="49.3" fill="#3aaa3c"/>
<path d="M417.0,53.5 V67.7 M414.6,53.5 H419.4 M414.6,67.7 H419.4" stroke="#333" stroke-width="0.7" fill="none"/>
<line x1="417.0" y1="110.3" x2="417.0" y2="112.5" stroke="#222" stroke-width="0.7"/>
<rect x="428" y="30" width="10.300000000000011" height="80.3" fill="#1d4f8b"/>
<path d="M433.15,29 V31 M430.75,29 H435.54999999999995 M430.75,31 H435.54999999999995" stroke="#333" stroke-width="0.7" fill="none"/>
<line x1="433.15" y1="110.3" x2="433.15" y2="112.5" stroke="#222" stroke-width="0.7"/>
<rect x="445" y="31.7" width="10" height="78.6" fill="#c8102e"/>
<path d="M450.0,28.5 V34 M447.6,28.5 H452.4 M447.6,34 H452.4" stroke="#333" stroke-width="0.7" fill="none"/>
<line x1="450.0" y1="110.3" x2="450.0" y2="112.5" stroke="#222" stroke-width="0.7"/>
<line x1="415.3" y1="12.1" x2="451.8" y2="12.1" stroke="#333" stroke-width="0.8"/>
<path d="M430.85,7.75 L430.85,10.05 M429.85,8.33 L431.85,9.47 M429.85,9.47 L431.85,8.33 M433.80,7.75 L433.80,10.05 M432.80,8.33 L434.80,9.47 M432.80,9.47 L434.80,8.33 M436.75,7.75 L436.75,10.05 M435.75,8.33 L437.75,9.47 M435.75,9.47 L437.75,8.33 " stroke="#333" stroke-width="0.75" stroke-linecap="round"/>
<line x1="415.3" y1="23.3" x2="434" y2="23.3" stroke="#333" stroke-width="0.8"/>
<path d="M421.75,18.95 L421.75,21.25 M420.75,19.53 L422.75,20.68 M420.75,20.68 L422.75,19.53 M424.45,18.95 L424.45,21.25 M423.45,19.53 L425.45,20.68 M423.45,20.68 L425.45,19.53 M427.15,18.95 L427.15,21.25 M426.15,19.53 L428.15,20.68 M426.15,20.68 L428.15,19.53 " stroke="#333" stroke-width="0.75" stroke-linecap="round"/>
<text transform="translate(386.5,97.4) rotate(-90)" font-size="6.9" fill="#333" color="#333" textLength="62" lengthAdjust="spacingAndGlyphs">CD25<tspan dy="-2.4" font-size="4.2">+</tspan><tspan dy="2.4"> FOXP3+ (%)</tspan></text>
<rect x="465" y="55.6" width="6.100000000000023" height="5.600000000000001" fill="#3aaa3c"/>
<text x="474.07" y="60.40" font-size="5.86" fill="#333" color="#333" textLength="25.51" lengthAdjust="spacingAndGlyphs">HD-CD19</text>
<text x="499.70" y="58.00" font-size="3.8" fill="#333" color="#333">+</text>
<rect x="465" y="65.4" width="6.100000000000023" height="5.3999999999999915" fill="#1d4f8b"/>
<text x="474.07" y="70.10" font-size="5.86" fill="#333" color="#333" textLength="23.71" lengthAdjust="spacingAndGlyphs">MWCL.1</text>
<rect x="465" y="75.1" width="6.100000000000023" height="5.300000000000011" fill="#c8102e"/>
<text x="474.07" y="79.80" font-size="5.86" fill="#333" color="#333" textLength="24.11" lengthAdjust="spacingAndGlyphs">BCWM.1</text>
<text x="6.94" y="169.20" font-size="11.57" fill="#111" color="#111" textLength="8.61" lengthAdjust="spacingAndGlyphs" font-weight="bold">B</text>
<line x1="31.8" y1="178.3" x2="31.8" y2="287.5" stroke="#222" stroke-width="1.3"/><path d="M31.8,175.3 L29.3,181.3 L34.3,181.3 Z" fill="#222"/>
<line x1="31.2" y1="287" x2="340.5" y2="287" stroke="#222" stroke-width="1.3"/><path d="M343.5,287 L337.5,284.5 L337.5,289.5 Z" fill="#222"/>
<text transform="translate(26.80,251.50) rotate(-90)" x="-0.35" y="0" font-size="8.86" fill="#222" color="#222" textLength="41.02" lengthAdjust="spacingAndGlyphs">Cell count</text>
<text x="178.87" y="297.20" font-size="8.29" fill="#222" color="#222" textLength="17.18" lengthAdjust="spacingAndGlyphs">Ki67</text>
<line x1="405.2" y1="173" x2="405.2" y2="265.25" stroke="#222" stroke-width="0.9"/>
<line x1="404.8" y1="264.8" x2="466" y2="264.8" stroke="#222" stroke-width="0.9"/>
<line x1="403" y1="174.4" x2="405.2" y2="174.4" stroke="#222" stroke-width="0.7"/>
<text x="398.91" y="176.57" font-size="6.20" fill="#444" color="#444" text-anchor="end">20</text>
<line x1="403" y1="197" x2="405.2" y2="197" stroke="#222" stroke-width="0.7"/>
<text x="398.91" y="199.17" font-size="6.20" fill="#444" color="#444" text-anchor="end">15</text>
<line x1="403" y1="219.6" x2="405.2" y2="219.6" stroke="#222" stroke-width="0.7"/>
<text x="398.91" y="221.77" font-size="6.20" fill="#444" color="#444" text-anchor="end">10</text>
<line x1="403" y1="242.3" x2="405.2" y2="242.3" stroke="#222" stroke-width="0.7"/>
<text x="398.91" y="244.47" font-size="6.20" fill="#444" color="#444" text-anchor="end">5</text>
<line x1="403" y1="264.8" x2="405.2" y2="264.8" stroke="#222" stroke-width="0.7"/>
<text x="398.91" y="266.97" font-size="6.20" fill="#444" color="#444" text-anchor="end">0</text>
<rect x="412" y="239.2" width="11" height="25.600000000000023" fill="#3aaa3c"/>
<path d="M417.5,238 V240.6 M415.1,238 H419.9 M415.1,240.6 H419.9" stroke="#333" stroke-width="0.7" fill="none"/>
<line x1="417.5" y1="264.8" x2="417.5" y2="267.0" stroke="#222" stroke-width="0.7"/>
<rect x="430.2" y="203.8" width="10.600000000000023" height="61.0" fill="#1d4f8b"/>
<path d="M435.5,200 V207.5 M433.1,200 H437.9 M433.1,207.5 H437.9" stroke="#333" stroke-width="0.7" fill="none"/>
<line x1="435.5" y1="264.8" x2="435.5" y2="267.0" stroke="#222" stroke-width="0.7"/>
<rect x="448.5" y="202.3" width="10.300000000000011" height="62.5" fill="#c8102e"/>
<path d="M453.65,196.5 V208 M451.25,196.5 H456.04999999999995 M451.25,208 H456.04999999999995" stroke="#333" stroke-width="0.7" fill="none"/>
<line x1="453.65" y1="264.8" x2="453.65" y2="267.0" stroke="#222" stroke-width="0.7"/>
<line x1="413.3" y1="175.4" x2="457.5" y2="175.4" stroke="#333" stroke-width="0.8"/>
<path d="M432.45,171.15 L432.45,173.45 M431.45,171.73 L433.45,172.88 M431.45,172.88 L433.45,171.73 M435.40,171.15 L435.40,173.45 M434.40,171.73 L436.40,172.88 M434.40,172.88 L436.40,171.73 M438.35,171.15 L438.35,173.45 M437.35,171.73 L439.35,172.88 M437.35,172.88 L439.35,171.73 " stroke="#333" stroke-width="0.75" stroke-linecap="round"/>
<line x1="413.3" y1="189.8" x2="436.3" y2="189.8" stroke="#333" stroke-width="0.8"/>
<path d="M421.45,185.45 L421.45,187.75 M420.45,186.03 L422.45,187.17 M420.45,187.17 L422.45,186.03 M424.40,185.45 L424.40,187.75 M423.40,186.03 L425.40,187.17 M423.40,187.17 L425.40,186.03 M427.35,185.45 L427.35,187.75 M426.35,186.03 L428.35,187.17 M426.35,187.17 L428.35,186.03 " stroke="#333" stroke-width="0.75" stroke-linecap="round"/>
<text transform="translate(385.8,242.2) rotate(-90)" font-size="6.7" fill="#333" color="#333" textLength="48.4" lengthAdjust="spacingAndGlyphs">Ki67<tspan dy="-2.4" font-size="4.2">+</tspan><tspan dy="2.4"> Tregs (%)</tspan></text>
<rect x="469.75" y="206.9" width="5.850000000000023" height="5.599999999999994" fill="#3aaa3c"/>
<text x="478.57" y="211.90" font-size="5.86" fill="#333" color="#333" textLength="26.01" lengthAdjust="spacingAndGlyphs">HD-CD19</text>
<text x="504.70" y="209.50" font-size="3.8" fill="#333" color="#333">+</text>
<rect x="469.75" y="216.3" width="5.850000000000023" height="6.0" fill="#1d4f8b"/>
<text x="478.57" y="221.90" font-size="5.86" fill="#333" color="#333" textLength="24.11" lengthAdjust="spacingAndGlyphs">MWCL.1</text>
<rect x="469.75" y="226.3" width="5.850000000000023" height="5.599999999999994" fill="#c8102e"/>
<text x="478.57" y="231.30" font-size="5.86" fill="#333" color="#333" textLength="24.71" lengthAdjust="spacingAndGlyphs">BCWM.1</text>
<path d="M45.0,263.6 L45.0,248.0 L46.3,250.0 L47.3,261.5 L52.0,262.2 L53.5,259.5 L55.0,258.6 L60.0,258.0 L65.0,256.3 L67.0,253.5 L68.8,248.8 L71.0,242.0 L73.7,227.7 L75.5,212.0 L77.5,195.0 L79.0,185.0 L80.4,179.6 L81.8,184.0 L83.3,195.0 L84.8,212.0 L86.2,227.7 L87.6,240.0 L89.0,247.0 L91.0,253.0 L92.9,256.5 L96.7,260.0 L102.0,259.5 L107.3,258.8 L111.0,260.0 L115.0,259.6 L119.0,261.0 L124.6,263.6 Z" fill="#47566a" stroke="#47566a" stroke-width="0.3" stroke-linejoin="round"/>
<path d="M44.8,263.5 V174.2 H134.2" fill="none" stroke="#333" stroke-width="0.9"/>
<line x1="44.8" y1="263.5" x2="134.2" y2="263.5" stroke="#222" stroke-width="1"/>
<line x1="43.0" y1="179.7" x2="44.8" y2="179.7" stroke="#444" stroke-width="0.6"/>
<path d="M96.7,174.2 V263.5 M134.2,174.2 V263.5 M96.7,229.6 H134.2" stroke="#6cc0e2" stroke-width="1.1" fill="none"/>
<circle cx="96.7" cy="229.6" r="1.3" fill="#8ccbe4"/><circle cx="134.2" cy="229.6" r="1.3" fill="#8ccbe4"/>
<text x="68.37" y="169.00" font-size="8.14" fill="#222" color="#222" textLength="38.07" lengthAdjust="spacingAndGlyphs">HD-CD19</text>
<text x="106.50" y="165.60" font-size="5" fill="#222" color="#222">+</text>
<text x="118.60" y="185.50" font-size="7.57" fill="#222" color="#222" textLength="11.83" lengthAdjust="spacingAndGlyphs">6%</text>
<text transform="translate(49.9,272.1) rotate(-58)" font-size="5.9" text-anchor="end" fill="#444" color="#444">-10<tspan dy="-1.7" font-size="3.3">3</tspan></text>
<text transform="translate(57.6,272.1) rotate(-58)" font-size="5.9" text-anchor="end" fill="#444" color="#444">-10<tspan dy="-1.7" font-size="3.3">2</tspan></text>
<text transform="translate(65.3,272.1) rotate(-58)" font-size="5.9" text-anchor="end" fill="#444" color="#444">10<tspan dy="-1.7" font-size="3.3">2</tspan></text>
<text transform="translate(81.7,272.1) rotate(-58)" font-size="5.9" text-anchor="end" fill="#444" color="#444">10<tspan dy="-1.7" font-size="3.3">3</tspan></text>
<text transform="translate(102.8,272.1) rotate(-58)" font-size="5.9" text-anchor="end" fill="#444" color="#444">10<tspan dy="-1.7" font-size="3.3">4</tspan></text>
<text transform="translate(125.5,272.1) rotate(-58)" font-size="5.9" text-anchor="end" fill="#444" color="#444">10<tspan dy="-1.7" font-size="3.3">5</tspan></text>
<path d="M46.3,263.5 L46.9,261.9 L47.5,262.0 L48.1,262.2 L48.7,262.3 L49.3,262.3 L49.9,262.7 L50.5,262.7 L51.1,262.2 L51.7,262.4 L52.3,262.3 L52.9,262.4 L53.5,262.4 L54.1,262.8 L54.7,262.9 L55.3,262.7 L55.9,262.9 L56.5,261.9 L57.1,262.6 L57.7,263.0 L58.3,262.0 L58.9,263.0 L59.5,262.8 L59.5,263.5 Z" fill="#222"/>
<path d="M46.6,263.5 v1.3 M49.5,263.5 v1.3 M52.3,263.5 v1.3 M55.2,263.5 v1.3 M58.1,263.5 v1.3 M60.9,263.5 v1.3 M63.8,263.5 v1.3 M66.7,263.5 v1.3 M69.5,263.5 v1.3 M72.4,263.5 v1.3 M75.3,263.5 v1.3 M78.1,263.5 v1.3 M81.0,263.5 v1.3 M83.9,263.5 v1.3 M86.7,263.5 v1.3 M89.6,263.5 v1.3 M92.5,263.5 v1.3 M95.3,263.5 v1.3 M98.2,263.5 v1.3 M101.1,263.5 v1.3 M103.9,263.5 v1.3 M106.8,263.5 v1.3 M109.7,263.5 v1.3 M112.5,263.5 v1.3 M115.4,263.5 v1.3 M118.3,263.5 v1.3 M121.1,263.5 v1.3 M124.0,263.5 v1.3 M126.9,263.5 v1.3 M129.7,263.5 v1.3 " stroke="#444" stroke-width="0.4"/>
<path d="M149.2,264.2 L149.2,250.8 L150.5,252.0 L152.0,261.0 L154.6,261.3 L164.2,258.5 L170.0,255.6 L172.5,251.0 L174.8,245.0 L177.3,233.0 L179.6,218.0 L181.6,204.0 L183.5,191.0 L184.8,184.0 L186.0,180.6 L187.2,184.0 L188.3,191.0 L189.8,200.0 L191.2,208.5 L192.6,224.0 L194.0,239.2 L195.5,247.0 L197.0,252.7 L199.5,256.0 L201.7,258.0 L205.0,257.3 L208.5,257.5 L213.0,257.0 L217.1,257.5 L219.5,254.0 L221.5,250.4 L223.6,254.0 L225.8,258.5 L229.6,263.3 L231.0,264.2 Z" fill="#47566a" stroke="#47566a" stroke-width="0.3" stroke-linejoin="round"/>
<path d="M149.2,264.2 V174.8 H238.7" fill="none" stroke="#333" stroke-width="0.9"/>
<line x1="149.2" y1="264.2" x2="238.7" y2="264.2" stroke="#222" stroke-width="1"/>
<line x1="147.39999999999998" y1="180.3" x2="149.2" y2="180.3" stroke="#444" stroke-width="0.6"/>
<path d="M201.3,174.8 V264.2 M238.7,174.8 V264.2 M201.3,230.2 H238.7" stroke="#6cc0e2" stroke-width="1.1" fill="none"/>
<circle cx="201.3" cy="230.2" r="1.3" fill="#8ccbe4"/><circle cx="238.7" cy="230.2" r="1.3" fill="#8ccbe4"/>
<text x="176.87" y="169.50" font-size="8.14" fill="#222" color="#222" textLength="33.77" lengthAdjust="spacingAndGlyphs">WMCL.1</text>
<text x="215.10" y="185.60" font-size="7.57" fill="#222" color="#222" textLength="22.03" lengthAdjust="spacingAndGlyphs">13.2%</text>
<text transform="translate(154.3,272.8) rotate(-58)" font-size="5.9" text-anchor="end" fill="#444" color="#444">-10<tspan dy="-1.7" font-size="3.3">3</tspan></text>
<text transform="translate(162.0,272.8) rotate(-58)" font-size="5.9" text-anchor="end" fill="#444" color="#444">-10<tspan dy="-1.7" font-size="3.3">2</tspan></text>
<text transform="translate(169.7,272.8) rotate(-58)" font-size="5.9" text-anchor="end" fill="#444" color="#444">10<tspan dy="-1.7" font-size="3.3">2</tspan></text>
<text transform="translate(186.2,272.8) rotate(-58)" font-size="5.9" text-anchor="end" fill="#444" color="#444">10<tspan dy="-1.7" font-size="3.3">3</tspan></text>
<text transform="translate(207.3,272.8) rotate(-58)" font-size="5.9" text-anchor="end" fill="#444" color="#444">10<tspan dy="-1.7" font-size="3.3">4</tspan></text>
<text transform="translate(230.0,272.8) rotate(-58)" font-size="5.9" text-anchor="end" fill="#444" color="#444">10<tspan dy="-1.7" font-size="3.3">5</tspan></text>
<path d="M150.7,264.2 L151.3,262.8 L151.9,263.0 L152.5,262.6 L153.1,263.7 L153.7,262.4 L154.3,262.7 L154.9,263.4 L155.5,262.8 L156.1,263.8 L156.7,263.5 L157.3,262.8 L157.9,263.9 L158.5,263.6 L159.1,262.5 L159.7,263.3 L160.3,262.9 L160.9,263.8 L161.5,263.7 L162.1,262.6 L162.7,263.6 L163.3,262.9 L163.9,262.6 L163.9,264.2 Z" fill="#222"/>
<path d="M151.0,264.2 v1.3 M153.9,264.2 v1.3 M156.7,264.2 v1.3 M159.6,264.2 v1.3 M162.5,264.2 v1.3 M165.3,264.2 v1.3 M168.2,264.2 v1.3 M171.1,264.2 v1.3 M174.0,264.2 v1.3 M176.8,264.2 v1.3 M179.7,264.2 v1.3 M182.6,264.2 v1.3 M185.4,264.2 v1.3 M188.3,264.2 v1.3 M191.2,264.2 v1.3 M194.0,264.2 v1.3 M196.9,264.2 v1.3 M199.8,264.2 v1.3 M202.7,264.2 v1.3 M205.5,264.2 v1.3 M208.4,264.2 v1.3 M211.3,264.2 v1.3 M214.1,264.2 v1.3 M217.0,264.2 v1.3 M219.9,264.2 v1.3 M222.7,264.2 v1.3 M225.6,264.2 v1.3 M228.5,264.2 v1.3 M231.4,264.2 v1.3 M234.2,264.2 v1.3 " stroke="#444" stroke-width="0.4"/>
<path d="M252.3,264.6 L252.3,252.7 L253.5,254.0 L254.5,262.0 L257.6,263.3 L262.0,261.5 L267.2,260.4 L273.0,257.5 L277.8,252.7 L279.8,243.0 L281.7,231.5 L283.6,217.0 L285.5,202.7 L287.6,190.0 L289.7,181.5 L291.4,189.0 L293.2,198.8 L294.6,211.0 L296.0,223.8 L297.2,234.0 L298.4,243.0 L300.9,248.8 L302.5,253.0 L303.8,256.5 L309.5,257.5 L315.3,258.0 L320.0,257.0 L324.9,256.2 L328.0,257.5 L332.6,259.4 L336.0,261.0 L340.3,264.2 Z" fill="#47566a" stroke="#47566a" stroke-width="0.3" stroke-linejoin="round"/>
<path d="M252.3,264.6 V175.6 H341.6" fill="none" stroke="#333" stroke-width="0.9"/>
<line x1="252.3" y1="264.6" x2="341.6" y2="264.6" stroke="#222" stroke-width="1"/>
<line x1="250.5" y1="181.1" x2="252.3" y2="181.1" stroke="#444" stroke-width="0.6"/>
<path d="M304.4,175.6 V264.6 M341.6,175.6 V264.6 M304.4,231.2 H341.6" stroke="#6cc0e2" stroke-width="1.1" fill="none"/>
<circle cx="304.4" cy="231.2" r="1.3" fill="#8ccbe4"/><circle cx="341.6" cy="231.2" r="1.3" fill="#8ccbe4"/>
<text x="279.17" y="169.80" font-size="8.14" fill="#222" color="#222" textLength="35.57" lengthAdjust="spacingAndGlyphs">BCWM.1</text>
<text x="320.90" y="185.60" font-size="7.57" fill="#222" color="#222" textLength="15.13" lengthAdjust="spacingAndGlyphs">14%</text>
<text transform="translate(257.4,273.2) rotate(-58)" font-size="5.9" text-anchor="end" fill="#444" color="#444">-10<tspan dy="-1.7" font-size="3.3">3</tspan></text>
<text transform="translate(265.1,273.2) rotate(-58)" font-size="5.9" text-anchor="end" fill="#444" color="#444">-10<tspan dy="-1.7" font-size="3.3">2</tspan></text>
<text transform="translate(272.7,273.2) rotate(-58)" font-size="5.9" text-anchor="end" fill="#444" color="#444">10<tspan dy="-1.7" font-size="3.3">2</tspan></text>
<text transform="translate(289.2,273.2) rotate(-58)" font-size="5.9" text-anchor="end" fill="#444" color="#444">10<tspan dy="-1.7" font-size="3.3">3</tspan></text>
<text transform="translate(310.3,273.2) rotate(-58)" font-size="5.9" text-anchor="end" fill="#444" color="#444">10<tspan dy="-1.7" font-size="3.3">4</tspan></text>
<text transform="translate(332.9,273.2) rotate(-58)" font-size="5.9" text-anchor="end" fill="#444" color="#444">10<tspan dy="-1.7" font-size="3.3">5</tspan></text>
<path d="M253.8,264.6 L254.4,263.8 L255.0,262.9 L255.6,263.8 L256.2,263.5 L256.8,263.5 L257.4,263.0 L258.0,264.2 L258.6,262.9 L259.2,263.5 L259.8,263.0 L260.4,262.9 L261.0,264.3 L261.6,263.7 L262.2,264.0 L262.8,263.6 L263.4,263.7 L264.0,264.1 L264.6,263.7 L265.2,264.0 L265.8,264.3 L266.4,264.3 L267.0,262.8 L267.0,264.6 Z" fill="#222"/>
<path d="M254.1,264.6 v1.3 M256.9,264.6 v1.3 M259.8,264.6 v1.3 M262.7,264.6 v1.3 M265.5,264.6 v1.3 M268.4,264.6 v1.3 M271.3,264.6 v1.3 M274.1,264.6 v1.3 M277.0,264.6 v1.3 M279.9,264.6 v1.3 M282.7,264.6 v1.3 M285.6,264.6 v1.3 M288.5,264.6 v1.3 M291.3,264.6 v1.3 M294.2,264.6 v1.3 M297.0,264.6 v1.3 M299.9,264.6 v1.3 M302.8,264.6 v1.3 M305.6,264.6 v1.3 M308.5,264.6 v1.3 M311.4,264.6 v1.3 M314.2,264.6 v1.3 M317.1,264.6 v1.3 M320.0,264.6 v1.3 M322.8,264.6 v1.3 M325.7,264.6 v1.3 M328.5,264.6 v1.3 M331.4,264.6 v1.3 M334.3,264.6 v1.3 M337.1,264.6 v1.3 " stroke="#444" stroke-width="0.4"/>
<text x="6.71" y="325.70" font-size="12.29" fill="#111" color="#111" textLength="8.86" lengthAdjust="spacingAndGlyphs" font-weight="bold">C</text>
<line x1="41.3" y1="330.4" x2="343.8" y2="330.4" stroke="#222" stroke-width="1.1"/>
<text x="175.92" y="325.50" font-size="7.00" fill="#222" color="#222" textLength="34.49" lengthAdjust="spacingAndGlyphs" font-style="italic">Treg:Tcons</text>
<line x1="32" y1="347.3" x2="32" y2="482.3" stroke="#222" stroke-width="1.3"/><path d="M32,344.3 L29.5,350.3 L34.5,350.3 Z" fill="#222"/>
<line x1="31.4" y1="481.9" x2="340" y2="481.9" stroke="#222" stroke-width="1.3"/><path d="M343,481.9 L337,479.4 L337,484.4 Z" fill="#222"/>
<text x="179.33" y="490.80" font-size="6.71" fill="#222" color="#222" textLength="17.37" lengthAdjust="spacingAndGlyphs">CFSE</text>
<text transform="translate(17.80,385.80) rotate(-90)" x="-0.26" y="0" font-size="6.43" fill="#222" color="#222" textLength="29.45" lengthAdjust="spacingAndGlyphs">HD-Tregs</text>
<text transform="translate(26.90,386.70) rotate(-90)" x="-0.26" y="0" font-size="6.43" fill="#222" color="#222" textLength="30.95" lengthAdjust="spacingAndGlyphs">cell count</text>
<text transform="translate(18.00,459.90) rotate(-90)" x="-0.26" y="0" font-size="6.43" fill="#222" color="#222" textLength="33.25" lengthAdjust="spacingAndGlyphs">WM-Tregs</text>
<text transform="translate(26.70,459.20) rotate(-90)" x="-0.26" y="0" font-size="6.43" fill="#222" color="#222" textLength="31.45" lengthAdjust="spacingAndGlyphs">cell count</text>
<text x="62.62" y="340.20" font-size="7.00" fill="#222" color="#222" textLength="13.19" lengthAdjust="spacingAndGlyphs" font-style="italic">0 : 1</text>
<path d="M45.70,391.90 L45.70,391.90 45.95,391.90 46.20,391.90 46.45,391.90 46.70,391.90 46.95,391.90 47.20,391.90 47.45,391.90 47.70,391.90 47.95,391.90 48.20,391.90 48.45,391.90 48.70,391.90 48.95,391.90 49.20,391.90 49.45,391.90 49.70,391.90 49.95,391.90 50.20,391.90 50.45,391.90 50.70,391.90 50.95,391.90 51.20,391.90 51.45,391.90 51.70,391.90 51.95,391.90 52.20,391.90 52.45,391.90 52.70,391.90 52.95,391.90 53.20,391.90 53.45,391.90 53.70,391.90 53.95,391.90 54.20,391.90 54.45,391.90 54.70,391.90 54.95,391.90 55.20,391.90 55.45,391.90 55.70,391.90 55.95,391.90 56.20,391.90 56.45,391.90 56.70,391.90 56.95,391.90 57.20,391.90 57.45,391.90 57.70,391.90 57.95,391.89 58.20,391.89 58.45,391.89 58.70,391.88 58.95,391.87 59.20,391.86 59.45,391.84 59.70,391.82 59.95,391.80 60.20,391.76 60.45,391.71 60.70,391.66 60.95,391.58 61.20,391.50 61.45,391.39 61.70,391.27 61.95,391.12 62.20,390.95 62.45,390.76 62.70,390.55 62.95,390.32 63.20,390.07 63.45,389.80 63.70,389.53 63.95,389.26 64.20,388.98 64.45,388.71 64.70,388.45 64.95,388.19 65.20,387.94 65.45,387.69 65.70,387.43 65.95,387.15 66.20,386.81 66.45,386.42 66.70,385.94 66.95,385.37 67.20,384.70 67.45,383.95 67.70,383.14 67.95,382.31 68.20,381.52 68.45,380.82 68.70,380.28 68.95,379.95 69.20,379.85 69.45,379.97 69.70,380.29 69.95,380.72 70.20,381.17 70.45,381.51 70.70,381.63 70.95,381.45 71.20,380.95 71.45,380.17 71.70,379.25 71.95,378.35 72.20,377.67 72.45,377.39 72.70,377.61 72.95,378.33 73.20,379.44 73.45,380.71 73.70,381.87 73.95,382.62 74.20,382.70 74.45,381.95 74.70,380.38 74.95,378.14 75.20,375.59 75.45,373.17 75.70,371.34 75.95,370.47 76.20,370.70 76.45,371.95 76.70,373.90 76.95,376.09 77.20,378.00 77.45,379.19 77.70,379.35 77.95,378.32 78.20,376.12 78.45,372.88 78.70,368.84 78.95,364.34 79.20,359.74 79.45,355.44 79.70,351.84 79.95,349.28 80.20,348.01 80.45,348.04 80.70,348.88 80.95,350.45 81.20,352.66 81.45,355.41 81.70,358.55 81.95,361.96 82.20,365.50 82.45,369.02 82.70,372.42 82.95,375.61 83.20,378.51 83.45,381.09 83.70,383.33 83.95,385.22 84.20,386.78 84.45,388.05 84.70,389.06 84.95,389.83 85.20,390.43 85.45,390.87 85.70,391.19 85.95,391.42 86.20,391.58 86.45,391.69 86.70,391.77 86.95,391.82 87.20,391.85 87.45,391.87 87.70,391.88 87.95,391.89 88.20,391.89 88.45,391.90 88.70,391.90 88.95,391.90 89.20,391.90 89.45,391.90 89.70,391.90 89.95,391.90 90.20,391.90 90.45,391.90 90.70,391.90 90.95,391.90 91.20,391.90 91.45,391.90 91.70,391.90 91.95,391.90 92.20,391.90 92.45,391.90 92.70,391.90 92.95,391.90 93.20,391.90 L93.40,391.90 Z" fill="#3b4a5f"/>
<path d="M45.2,344.4 H93.9 V391.9" fill="none" stroke="#222" stroke-width="0.9"/>
<line x1="45.2" y1="391.9" x2="93.9" y2="391.9" stroke="#222" stroke-width="1"/>
<line x1="45.6" y1="344.4" x2="45.6" y2="391.9" stroke="#5ab8dc" stroke-width="1"/>
<line x1="78" y1="344.4" x2="78" y2="391.9" stroke="#5ab0d8" stroke-width="0.6"/>
<line x1="45.2" y1="378.6" x2="78" y2="378.6" stroke="#5ab0d8" stroke-width="0.6"/>
<text x="47.1" y="351.59999999999997" font-size="5.2" fill="#333" color="#333">46.9%</text>
<text transform="translate(48.5,396.3) rotate(-60)" font-size="3.9" text-anchor="end" fill="#b4b4b4" color="#b4b4b4">10<tspan dy="-1" font-size="2.6">3</tspan></text>
<text transform="translate(51.5,396.3) rotate(-60)" font-size="3.9" text-anchor="end" fill="#b4b4b4" color="#b4b4b4">10<tspan dy="-1" font-size="2.6">3</tspan></text>
<text transform="translate(55.0,396.3) rotate(-60)" font-size="3.9" text-anchor="end" fill="#b4b4b4" color="#b4b4b4">10<tspan dy="-1" font-size="2.6">3</tspan></text>
<text transform="translate(66.5,396.3) rotate(-60)" font-size="3.9" text-anchor="end" fill="#b4b4b4" color="#b4b4b4">10<tspan dy="-1" font-size="2.6">3</tspan></text>
<text transform="translate(78.0,396.3) rotate(-60)" font-size="3.9" text-anchor="end" fill="#b4b4b4" color="#b4b4b4">10<tspan dy="-1" font-size="2.6">3</tspan></text>
<text transform="translate(89.0,396.3) rotate(-60)" font-size="3.9" text-anchor="end" fill="#b4b4b4" color="#b4b4b4">10<tspan dy="-1" font-size="2.6">3</tspan></text>
<path d="M46.2,391.9 L46.7,390.8 L47.2,391.6 L47.7,391.6 L48.2,391.1 L48.7,390.9 L49.2,391.5 L49.7,390.8 L50.2,391.0 L50.7,390.8 L51.2,390.9 L51.7,391.0 L52.2,391.7 L52.7,391.2 L53.2,391.0 L53.7,391.0 L54.2,391.0 L54.7,391.7 L55.2,391.5 L55.2,391.9 Z" fill="#222"/>
<path d="M46.7,391.9 v1 M48.0,391.9 v1 M49.3,391.9 v1 M50.6,391.9 v1 M51.9,391.9 v1 M53.3,391.9 v1 M54.6,391.9 v1 M55.9,391.9 v1 " stroke="#333" stroke-width="0.5"/>
<text x="126.72" y="340.20" font-size="7.00" fill="#222" color="#222" textLength="13.19" lengthAdjust="spacingAndGlyphs" font-style="italic">1 : 8</text>
<path d="M109.80,392.00 L109.80,392.00 110.05,392.00 110.30,392.00 110.55,392.00 110.80,392.00 111.05,392.00 111.30,392.00 111.55,392.00 111.80,392.00 112.05,392.00 112.30,392.00 112.55,392.00 112.80,392.00 113.05,392.00 113.30,392.00 113.55,392.00 113.80,392.00 114.05,392.00 114.30,392.00 114.55,392.00 114.80,392.00 115.05,392.00 115.30,392.00 115.55,392.00 115.80,392.00 116.05,392.00 116.30,392.00 116.55,392.00 116.80,392.00 117.05,392.00 117.30,392.00 117.55,392.00 117.80,392.00 118.05,392.00 118.30,392.00 118.55,392.00 118.80,392.00 119.05,392.00 119.30,392.00 119.55,392.00 119.80,392.00 120.05,392.00 120.30,392.00 120.55,392.00 120.80,392.00 121.05,392.00 121.30,392.00 121.55,392.00 121.80,392.00 122.05,392.00 122.30,392.00 122.55,392.00 122.80,392.00 123.05,391.99 123.30,391.99 123.55,391.99 123.80,391.98 124.05,391.98 124.30,391.97 124.55,391.95 124.80,391.93 125.05,391.91 125.30,391.88 125.55,391.84 125.80,391.80 126.05,391.74 126.30,391.67 126.55,391.58 126.80,391.48 127.05,391.37 127.30,391.23 127.55,391.08 127.80,390.92 128.05,390.74 128.30,390.55 128.55,390.35 128.80,390.15 129.05,389.95 129.30,389.75 129.55,389.56 129.80,389.39 130.05,389.24 130.30,389.11 130.55,389.00 130.80,388.90 131.05,388.80 131.30,388.69 131.55,388.54 131.80,388.33 132.05,388.02 132.30,387.60 132.55,387.06 132.80,386.39 133.05,385.64 133.30,384.85 133.55,384.09 133.80,383.44 134.05,382.95 134.30,382.66 134.55,382.55 134.80,382.53 135.05,382.52 135.30,382.37 135.55,381.99 135.80,381.34 136.05,380.47 136.30,379.55 136.55,378.77 136.80,378.36 137.05,378.47 137.30,379.10 137.55,380.11 137.80,381.23 138.05,382.11 138.30,382.38 138.55,381.79 138.80,380.24 139.05,377.83 139.30,374.90 139.55,371.92 139.80,369.44 140.05,367.94 140.30,367.72 140.55,368.79 140.80,370.90 141.05,373.58 141.30,376.27 141.55,378.44 141.80,379.67 142.05,379.72 142.30,378.51 142.55,376.13 142.80,372.76 143.05,368.67 143.30,364.19 143.55,359.71 143.80,355.61 144.05,352.27 144.30,350.00 144.55,349.03 144.80,349.24 145.05,350.21 145.30,351.88 145.55,354.15 145.80,356.93 146.05,360.06 146.30,363.43 146.55,366.89 146.80,370.32 147.05,373.61 147.30,376.67 147.55,379.45 147.80,381.90 148.05,384.02 148.30,385.80 148.55,387.27 148.80,388.45 149.05,389.39 149.30,390.11 149.55,390.66 149.80,391.06 150.05,391.36 150.30,391.57 150.55,391.71 150.80,391.81 151.05,391.88 151.30,391.92 151.55,391.95 151.80,391.97 152.05,391.98 152.30,391.99 152.55,391.99 152.80,392.00 153.05,392.00 153.30,392.00 153.55,392.00 153.80,392.00 154.05,392.00 154.30,392.00 154.55,392.00 154.80,392.00 155.05,392.00 155.30,392.00 155.55,392.00 155.80,392.00 156.05,392.00 156.30,392.00 156.55,392.00 156.80,392.00 157.05,392.00 157.30,392.00 L157.50,392.00 Z" fill="#3b4a5f"/>
<path d="M109.3,344.3 H158 V392" fill="none" stroke="#222" stroke-width="0.9"/>
<line x1="109.3" y1="392" x2="158" y2="392" stroke="#222" stroke-width="1"/>
<line x1="109.7" y1="344.3" x2="109.7" y2="392" stroke="#5ab8dc" stroke-width="1"/>
<line x1="142.5" y1="344.3" x2="142.5" y2="392" stroke="#5ab0d8" stroke-width="0.6"/>
<line x1="109.3" y1="378.6" x2="142.5" y2="378.6" stroke="#5ab0d8" stroke-width="0.6"/>
<text x="111.2" y="351.5" font-size="5.2" fill="#333" color="#333">46.8%</text>
<text transform="translate(112.6,396.4) rotate(-60)" font-size="3.9" text-anchor="end" fill="#b4b4b4" color="#b4b4b4">10<tspan dy="-1" font-size="2.6">3</tspan></text>
<text transform="translate(115.6,396.4) rotate(-60)" font-size="3.9" text-anchor="end" fill="#b4b4b4" color="#b4b4b4">10<tspan dy="-1" font-size="2.6">3</tspan></text>
<text transform="translate(119.1,396.4) rotate(-60)" font-size="3.9" text-anchor="end" fill="#b4b4b4" color="#b4b4b4">10<tspan dy="-1" font-size="2.6">3</tspan></text>
<text transform="translate(130.6,396.4) rotate(-60)" font-size="3.9" text-anchor="end" fill="#b4b4b4" color="#b4b4b4">10<tspan dy="-1" font-size="2.6">3</tspan></text>
<text transform="translate(142.1,396.4) rotate(-60)" font-size="3.9" text-anchor="end" fill="#b4b4b4" color="#b4b4b4">10<tspan dy="-1" font-size="2.6">3</tspan></text>
<text transform="translate(153.1,396.4) rotate(-60)" font-size="3.9" text-anchor="end" fill="#b4b4b4" color="#b4b4b4">10<tspan dy="-1" font-size="2.6">3</tspan></text>
<path d="M110.3,392.0 L110.8,391.3 L111.3,391.4 L111.8,391.0 L112.3,390.9 L112.8,391.0 L113.3,391.1 L113.8,391.3 L114.3,391.5 L114.8,391.3 L115.3,391.2 L115.8,391.5 L116.3,391.1 L116.8,391.4 L117.3,391.3 L117.8,391.4 L118.3,391.0 L118.8,391.7 L119.3,391.2 L119.3,392.0 Z" fill="#222"/>
<path d="M110.8,392.0 v1 M112.1,392.0 v1 M113.4,392.0 v1 M114.7,392.0 v1 M116.0,392.0 v1 M117.4,392.0 v1 M118.7,392.0 v1 M120.0,392.0 v1 " stroke="#333" stroke-width="0.5"/>
<text x="188.12" y="340.20" font-size="7.00" fill="#222" color="#222" textLength="13.19" lengthAdjust="spacingAndGlyphs" font-style="italic">1 : 4</text>
<path d="M171.30,392.00 L171.30,392.00 171.55,392.00 171.80,392.00 172.05,392.00 172.30,392.00 172.55,392.00 172.80,392.00 173.05,392.00 173.30,392.00 173.55,392.00 173.80,392.00 174.05,392.00 174.30,392.00 174.55,392.00 174.80,392.00 175.05,392.00 175.30,392.00 175.55,392.00 175.80,392.00 176.05,392.00 176.30,392.00 176.55,392.00 176.80,392.00 177.05,392.00 177.30,392.00 177.55,392.00 177.80,392.00 178.05,392.00 178.30,392.00 178.55,392.00 178.80,392.00 179.05,392.00 179.30,392.00 179.55,392.00 179.80,392.00 180.05,392.00 180.30,392.00 180.55,392.00 180.80,392.00 181.05,392.00 181.30,392.00 181.55,392.00 181.80,392.00 182.05,392.00 182.30,392.00 182.55,392.00 182.80,392.00 183.05,392.00 183.30,392.00 183.55,392.00 183.80,392.00 184.05,392.00 184.30,392.00 184.55,392.00 184.80,392.00 185.05,392.00 185.30,392.00 185.55,392.00 185.80,392.00 186.05,392.00 186.30,392.00 186.55,392.00 186.80,392.00 187.05,392.00 187.30,392.00 187.55,392.00 187.80,392.00 188.05,392.00 188.30,392.00 188.55,392.00 188.80,392.00 189.05,392.00 189.30,392.00 189.55,392.00 189.80,391.99 190.05,391.99 190.30,391.98 190.55,391.97 190.80,391.96 191.05,391.94 191.30,391.91 191.55,391.87 191.80,391.82 192.05,391.76 192.30,391.67 192.55,391.57 192.80,391.45 193.05,391.30 193.30,391.14 193.55,390.96 193.80,390.77 194.05,390.57 194.30,390.37 194.55,390.17 194.80,389.96 195.05,389.76 195.30,389.56 195.55,389.35 195.80,389.13 196.05,388.88 196.30,388.61 196.55,388.31 196.80,387.98 197.05,387.64 197.30,387.31 197.55,387.00 197.80,386.76 198.05,386.59 198.30,386.53 198.55,386.57 198.80,386.70 199.05,386.88 199.30,387.04 199.55,387.07 199.80,386.88 200.05,386.37 200.30,385.52 200.55,384.38 200.80,383.15 201.05,382.07 201.30,381.43 201.55,381.42 201.80,382.10 202.05,383.34 202.30,384.89 202.55,386.45 202.80,387.72 203.05,388.49 203.30,388.62 203.55,388.01 203.80,386.61 204.05,384.39 204.30,381.31 204.55,377.42 204.80,372.81 205.05,367.72 205.30,362.46 205.55,357.48 205.80,353.23 206.05,350.17 206.30,348.64 206.55,348.66 206.80,349.62 207.05,351.40 207.30,353.89 207.55,356.95 207.80,360.41 208.05,364.11 208.30,367.87 208.55,371.55 208.80,375.01 209.05,378.18 209.30,380.98 209.55,383.39 209.80,385.41 210.05,387.06 210.30,388.37 210.55,389.39 210.80,390.16 211.05,390.73 211.30,391.14 211.55,391.43 211.80,391.63 212.05,391.76 212.30,391.85 212.55,391.91 212.80,391.95 213.05,391.97 213.30,391.98 213.55,391.99 213.80,391.99 214.05,392.00 214.30,392.00 214.55,392.00 214.80,392.00 215.05,392.00 215.30,392.00 215.55,392.00 215.80,392.00 216.05,392.00 216.30,392.00 216.55,392.00 216.80,392.00 217.05,392.00 217.30,392.00 217.55,392.00 217.80,392.00 218.05,392.00 218.30,392.00 218.55,392.00 218.80,392.00 L218.80,392.00 Z" fill="#3b4a5f"/>
<path d="M170.8,344.3 H219.3 V392" fill="none" stroke="#222" stroke-width="0.9"/>
<line x1="170.8" y1="392" x2="219.3" y2="392" stroke="#222" stroke-width="1"/>
<line x1="171.20000000000002" y1="344.3" x2="171.20000000000002" y2="392" stroke="#5ab8dc" stroke-width="1"/>
<line x1="204.3" y1="344.3" x2="204.3" y2="392" stroke="#5ab0d8" stroke-width="0.6"/>
<line x1="170.8" y1="378.6" x2="204.3" y2="378.6" stroke="#5ab0d8" stroke-width="0.6"/>
<text x="172.70000000000002" y="351.5" font-size="5.2" fill="#333" color="#333">25.0 %</text>
<text transform="translate(174.1,396.4) rotate(-60)" font-size="3.9" text-anchor="end" fill="#b4b4b4" color="#b4b4b4">10<tspan dy="-1" font-size="2.6">3</tspan></text>
<text transform="translate(177.1,396.4) rotate(-60)" font-size="3.9" text-anchor="end" fill="#b4b4b4" color="#b4b4b4">10<tspan dy="-1" font-size="2.6">3</tspan></text>
<text transform="translate(180.6,396.4) rotate(-60)" font-size="3.9" text-anchor="end" fill="#b4b4b4" color="#b4b4b4">10<tspan dy="-1" font-size="2.6">3</tspan></text>
<text transform="translate(192.0,396.4) rotate(-60)" font-size="3.9" text-anchor="end" fill="#b4b4b4" color="#b4b4b4">10<tspan dy="-1" font-size="2.6">3</tspan></text>
<text transform="translate(203.5,396.4) rotate(-60)" font-size="3.9" text-anchor="end" fill="#b4b4b4" color="#b4b4b4">10<tspan dy="-1" font-size="2.6">3</tspan></text>
<text transform="translate(214.4,396.4) rotate(-60)" font-size="3.9" text-anchor="end" fill="#b4b4b4" color="#b4b4b4">10<tspan dy="-1" font-size="2.6">3</tspan></text>
<path d="M171.8,392.0 L172.3,391.0 L172.8,391.5 L173.3,391.3 L173.8,391.0 L174.3,391.6 L174.8,391.3 L175.3,391.7 L175.8,391.7 L176.3,391.7 L176.8,391.0 L177.3,390.8 L177.8,391.4 L178.3,391.0 L178.8,391.1 L179.3,391.4 L179.8,391.6 L180.3,391.1 L180.8,390.8 L180.8,392.0 Z" fill="#222"/>
<path d="M172.3,392.0 v1 M173.6,392.0 v1 M174.9,392.0 v1 M176.2,392.0 v1 M177.5,392.0 v1 M178.8,392.0 v1 M180.2,392.0 v1 M181.5,392.0 v1 " stroke="#333" stroke-width="0.5"/>
<text x="249.72" y="340.20" font-size="7.00" fill="#222" color="#222" textLength="13.19" lengthAdjust="spacingAndGlyphs" font-style="italic">1 : 2</text>
<path d="M232.50,391.30 L232.50,391.30 232.75,391.30 233.00,391.30 233.25,391.30 233.50,391.30 233.75,391.30 234.00,391.30 234.25,391.30 234.50,391.30 234.75,391.30 235.00,391.30 235.25,391.30 235.50,391.30 235.75,391.30 236.00,391.30 236.25,391.30 236.50,391.30 236.75,391.30 237.00,391.30 237.25,391.30 237.50,391.30 237.75,391.30 238.00,391.30 238.25,391.30 238.50,391.30 238.75,391.30 239.00,391.30 239.25,391.30 239.50,391.30 239.75,391.30 240.00,391.30 240.25,391.30 240.50,391.30 240.75,391.30 241.00,391.30 241.25,391.30 241.50,391.30 241.75,391.30 242.00,391.30 242.25,391.30 242.50,391.30 242.75,391.30 243.00,391.30 243.25,391.30 243.50,391.30 243.75,391.30 244.00,391.30 244.25,391.30 244.50,391.30 244.75,391.30 245.00,391.30 245.25,391.30 245.50,391.30 245.75,391.30 246.00,391.30 246.25,391.30 246.50,391.30 246.75,391.30 247.00,391.30 247.25,391.30 247.50,391.30 247.75,391.30 248.00,391.30 248.25,391.30 248.50,391.30 248.75,391.30 249.00,391.30 249.25,391.30 249.50,391.30 249.75,391.30 250.00,391.30 250.25,391.30 250.50,391.30 250.75,391.30 251.00,391.30 251.25,391.30 251.50,391.30 251.75,391.30 252.00,391.30 252.25,391.30 252.50,391.30 252.75,391.30 253.00,391.30 253.25,391.30 253.50,391.30 253.75,391.30 254.00,391.30 254.25,391.30 254.50,391.30 254.75,391.30 255.00,391.30 255.25,391.30 255.50,391.30 255.75,391.30 256.00,391.30 256.25,391.30 256.50,391.30 256.75,391.30 257.00,391.30 257.25,391.30 257.50,391.30 257.75,391.30 258.00,391.30 258.25,391.30 258.50,391.30 258.75,391.30 259.00,391.30 259.25,391.30 259.50,391.30 259.75,391.30 260.00,391.30 260.25,391.29 260.50,391.29 260.75,391.27 261.00,391.25 261.25,391.20 261.50,391.12 261.75,391.00 262.00,390.81 262.25,390.55 262.50,390.20 262.75,389.76 263.00,389.26 263.25,388.72 263.50,388.19 263.75,387.72 264.00,387.37 264.25,387.14 264.50,387.03 264.75,386.96 265.00,386.81 265.25,386.37 265.50,385.44 265.75,383.79 266.00,381.20 266.25,377.59 266.50,372.98 266.75,367.60 267.00,361.88 267.25,356.41 267.50,351.86 267.75,348.84 268.00,347.78 268.25,348.31 268.50,349.82 268.75,352.22 269.00,355.35 269.25,359.00 269.50,362.97 269.75,367.03 270.00,371.00 270.25,374.72 270.50,378.08 270.75,381.00 271.00,383.47 271.25,385.49 271.50,387.08 271.75,388.32 272.00,389.24 272.25,389.91 272.50,390.38 272.75,390.71 273.00,390.93 273.25,391.07 273.50,391.16 273.75,391.22 274.00,391.25 274.25,391.27 274.50,391.29 274.75,391.29 275.00,391.30 275.25,391.30 275.50,391.30 275.75,391.30 276.00,391.30 276.25,391.30 276.50,391.30 276.75,391.30 277.00,391.30 277.25,391.30 277.50,391.30 277.75,391.30 278.00,391.30 278.25,391.30 278.50,391.30 278.75,391.30 279.00,391.30 279.25,391.30 279.50,391.30 279.75,391.30 280.00,391.30 280.25,391.30 280.50,391.30 280.75,391.30 L280.80,391.30 Z" fill="#3b4a5f"/>
<path d="M232,343.8 H281.3 V391.3" fill="none" stroke="#222" stroke-width="0.9"/>
<line x1="232" y1="391.3" x2="281.3" y2="391.3" stroke="#222" stroke-width="1"/>
<line x1="232.4" y1="343.8" x2="232.4" y2="391.3" stroke="#5ab8dc" stroke-width="1"/>
<line x1="265.5" y1="343.8" x2="265.5" y2="391.3" stroke="#5ab0d8" stroke-width="0.6"/>
<line x1="232" y1="378.3" x2="265.5" y2="378.3" stroke="#5ab0d8" stroke-width="0.6"/>
<text x="233.9" y="351.0" font-size="5.2" fill="#333" color="#333">6.6 %</text>
<text transform="translate(235.3,395.7) rotate(-60)" font-size="3.9" text-anchor="end" fill="#b4b4b4" color="#b4b4b4">10<tspan dy="-1" font-size="2.6">3</tspan></text>
<text transform="translate(238.3,395.7) rotate(-60)" font-size="3.9" text-anchor="end" fill="#b4b4b4" color="#b4b4b4">10<tspan dy="-1" font-size="2.6">3</tspan></text>
<text transform="translate(241.9,395.7) rotate(-60)" font-size="3.9" text-anchor="end" fill="#b4b4b4" color="#b4b4b4">10<tspan dy="-1" font-size="2.6">3</tspan></text>
<text transform="translate(253.5,395.7) rotate(-60)" font-size="3.9" text-anchor="end" fill="#b4b4b4" color="#b4b4b4">10<tspan dy="-1" font-size="2.6">3</tspan></text>
<text transform="translate(265.2,395.7) rotate(-60)" font-size="3.9" text-anchor="end" fill="#b4b4b4" color="#b4b4b4">10<tspan dy="-1" font-size="2.6">3</tspan></text>
<text transform="translate(276.3,395.7) rotate(-60)" font-size="3.9" text-anchor="end" fill="#b4b4b4" color="#b4b4b4">10<tspan dy="-1" font-size="2.6">3</tspan></text>
<path d="M233.0,391.3 L233.5,391.0 L234.0,391.1 L234.5,391.0 L235.0,390.2 L235.5,390.2 L236.0,390.8 L236.5,390.3 L237.0,391.1 L237.5,390.9 L238.0,391.0 L238.5,390.7 L239.0,391.1 L239.5,390.5 L240.0,390.7 L240.5,390.8 L241.0,390.5 L241.5,390.1 L242.0,390.1 L242.0,391.3 Z" fill="#222"/>
<path d="M233.5,391.3 v1 M234.8,391.3 v1 M236.2,391.3 v1 M237.5,391.3 v1 M238.8,391.3 v1 M240.2,391.3 v1 M241.5,391.3 v1 M242.8,391.3 v1 " stroke="#333" stroke-width="0.5"/>
<text x="311.97" y="340.20" font-size="7.00" fill="#222" color="#222" textLength="13.19" lengthAdjust="spacingAndGlyphs" font-style="italic">1 : 1</text>
<path d="M295.00,391.30 L295.00,391.30 295.25,391.30 295.50,391.30 295.75,391.30 296.00,391.30 296.25,391.30 296.50,391.30 296.75,391.30 297.00,391.30 297.25,391.30 297.50,391.30 297.75,391.30 298.00,391.30 298.25,391.30 298.50,391.30 298.75,391.30 299.00,391.30 299.25,391.30 299.50,391.30 299.75,391.30 300.00,391.30 300.25,391.30 300.50,391.30 300.75,391.30 301.00,391.30 301.25,391.30 301.50,391.30 301.75,391.30 302.00,391.30 302.25,391.30 302.50,391.30 302.75,391.30 303.00,391.30 303.25,391.30 303.50,391.30 303.75,391.30 304.00,391.30 304.25,391.30 304.50,391.30 304.75,391.30 305.00,391.30 305.25,391.30 305.50,391.30 305.75,391.30 306.00,391.30 306.25,391.30 306.50,391.30 306.75,391.30 307.00,391.30 307.25,391.30 307.50,391.30 307.75,391.30 308.00,391.30 308.25,391.30 308.50,391.30 308.75,391.30 309.00,391.30 309.25,391.30 309.50,391.30 309.75,391.30 310.00,391.30 310.25,391.30 310.50,391.30 310.75,391.30 311.00,391.30 311.25,391.30 311.50,391.30 311.75,391.30 312.00,391.30 312.25,391.30 312.50,391.30 312.75,391.30 313.00,391.30 313.25,391.30 313.50,391.30 313.75,391.30 314.00,391.30 314.25,391.30 314.50,391.30 314.75,391.30 315.00,391.30 315.25,391.30 315.50,391.30 315.75,391.30 316.00,391.30 316.25,391.30 316.50,391.30 316.75,391.30 317.00,391.30 317.25,391.30 317.50,391.30 317.75,391.30 318.00,391.30 318.25,391.30 318.50,391.30 318.75,391.30 319.00,391.30 319.25,391.30 319.50,391.30 319.75,391.30 320.00,391.30 320.25,391.30 320.50,391.30 320.75,391.30 321.00,391.30 321.25,391.30 321.50,391.30 321.75,391.30 322.00,391.30 322.25,391.30 322.50,391.30 322.75,391.30 323.00,391.30 323.25,391.30 323.50,391.30 323.75,391.29 324.00,391.28 324.25,391.26 324.50,391.23 324.75,391.18 325.00,391.09 325.25,390.97 325.50,390.79 325.75,390.56 326.00,390.28 326.25,389.95 326.50,389.61 326.75,389.27 327.00,388.97 327.25,388.70 327.50,388.46 327.75,388.17 328.00,387.71 328.25,386.89 328.50,385.49 328.75,383.26 329.00,379.99 329.25,375.63 329.50,370.29 329.75,364.33 330.00,358.37 330.25,353.16 330.50,349.44 330.75,347.81 331.00,348.11 331.25,349.44 331.50,351.67 331.75,354.67 332.00,358.24 332.25,362.16 332.50,366.22 332.75,370.22 333.00,374.00 333.25,377.44 333.50,380.45 333.75,383.01 334.00,385.12 334.25,386.80 334.50,388.10 334.75,389.07 335.00,389.79 335.25,390.30 335.50,390.65 335.75,390.89 336.00,391.05 336.25,391.15 336.50,391.21 336.75,391.25 337.00,391.27 337.25,391.28 337.50,391.29 337.75,391.30 338.00,391.30 338.25,391.30 338.50,391.30 338.75,391.30 339.00,391.30 339.25,391.30 339.50,391.30 339.75,391.30 340.00,391.30 340.25,391.30 340.50,391.30 340.75,391.30 341.00,391.30 341.25,391.30 341.50,391.30 341.75,391.30 342.00,391.30 342.25,391.30 342.50,391.30 342.75,391.30 L342.80,391.30 Z" fill="#3b4a5f"/>
<path d="M294.5,343.8 H343.3 V391.3" fill="none" stroke="#222" stroke-width="0.9"/>
<line x1="294.5" y1="391.3" x2="343.3" y2="391.3" stroke="#222" stroke-width="1"/>
<line x1="294.9" y1="343.8" x2="294.9" y2="391.3" stroke="#5ab8dc" stroke-width="1"/>
<line x1="328" y1="343.8" x2="328" y2="391.3" stroke="#5ab0d8" stroke-width="0.6"/>
<line x1="294.5" y1="378.3" x2="328" y2="378.3" stroke="#5ab0d8" stroke-width="0.6"/>
<text x="296.4" y="351.0" font-size="5.2" fill="#333" color="#333">1.6 %</text>
<text transform="translate(297.8,395.7) rotate(-60)" font-size="3.9" text-anchor="end" fill="#b4b4b4" color="#b4b4b4">10<tspan dy="-1" font-size="2.6">3</tspan></text>
<text transform="translate(300.8,395.7) rotate(-60)" font-size="3.9" text-anchor="end" fill="#b4b4b4" color="#b4b4b4">10<tspan dy="-1" font-size="2.6">3</tspan></text>
<text transform="translate(304.3,395.7) rotate(-60)" font-size="3.9" text-anchor="end" fill="#b4b4b4" color="#b4b4b4">10<tspan dy="-1" font-size="2.6">3</tspan></text>
<text transform="translate(315.8,395.7) rotate(-60)" font-size="3.9" text-anchor="end" fill="#b4b4b4" color="#b4b4b4">10<tspan dy="-1" font-size="2.6">3</tspan></text>
<text transform="translate(327.3,395.7) rotate(-60)" font-size="3.9" text-anchor="end" fill="#b4b4b4" color="#b4b4b4">10<tspan dy="-1" font-size="2.6">3</tspan></text>
<text transform="translate(338.4,395.7) rotate(-60)" font-size="3.9" text-anchor="end" fill="#b4b4b4" color="#b4b4b4">10<tspan dy="-1" font-size="2.6">3</tspan></text>
<path d="M295.5,391.3 L296.0,391.0 L296.5,390.9 L297.0,390.3 L297.5,390.8 L298.0,390.7 L298.5,390.4 L299.0,390.2 L299.5,390.7 L300.0,390.4 L300.5,390.7 L301.0,390.6 L301.5,390.5 L302.0,390.3 L302.5,390.8 L303.0,390.1 L303.5,390.5 L304.0,390.7 L304.5,390.4 L304.5,391.3 Z" fill="#222"/>
<path d="M296.0,391.3 v1 M297.3,391.3 v1 M298.6,391.3 v1 M299.9,391.3 v1 M301.3,391.3 v1 M302.6,391.3 v1 M303.9,391.3 v1 M305.2,391.3 v1 " stroke="#333" stroke-width="0.5"/>
<path d="M43.90,463.00 L43.90,463.00 44.15,463.00 44.40,463.00 44.65,463.00 44.90,463.00 45.15,463.00 45.40,463.00 45.65,463.00 45.90,463.00 46.15,463.00 46.40,463.00 46.65,463.00 46.90,463.00 47.15,463.00 47.40,463.00 47.65,463.00 47.90,463.00 48.15,463.00 48.40,463.00 48.65,463.00 48.90,463.00 49.15,463.00 49.40,463.00 49.65,463.00 49.90,463.00 50.15,463.00 50.40,463.00 50.65,463.00 50.90,463.00 51.15,463.00 51.40,463.00 51.65,463.00 51.90,463.00 52.15,463.00 52.40,463.00 52.65,463.00 52.90,463.00 53.15,463.00 53.40,463.00 53.65,463.00 53.90,463.00 54.15,463.00 54.40,463.00 54.65,463.00 54.90,463.00 55.15,463.00 55.40,463.00 55.65,463.00 55.90,463.00 56.15,463.00 56.40,463.00 56.65,463.00 56.90,463.00 57.15,463.00 57.40,463.00 57.65,462.99 57.90,462.99 58.15,462.99 58.40,462.98 58.65,462.97 58.90,462.96 59.15,462.95 59.40,462.93 59.65,462.90 59.90,462.87 60.15,462.83 60.40,462.78 60.65,462.71 60.90,462.64 61.15,462.54 61.40,462.44 61.65,462.32 61.90,462.18 62.15,462.02 62.40,461.85 62.65,461.66 62.90,461.47 63.15,461.27 63.40,461.06 63.65,460.85 63.90,460.65 64.15,460.45 64.40,460.27 64.65,460.09 64.90,459.91 65.15,459.73 65.40,459.54 65.65,459.32 65.90,459.07 66.15,458.78 66.40,458.42 66.65,458.00 66.90,457.53 67.15,457.02 67.40,456.48 67.65,455.97 67.90,455.51 68.15,455.14 68.40,454.90 68.65,454.81 68.90,454.85 69.15,455.01 69.40,455.23 69.65,455.45 69.90,455.57 70.15,455.53 70.40,455.28 70.65,454.81 70.90,454.17 71.15,453.46 71.40,452.81 71.65,452.37 71.90,452.25 72.15,452.54 72.40,453.24 72.65,454.27 72.90,455.51 73.15,456.79 73.40,457.92 73.65,458.72 73.90,459.04 74.15,458.73 74.40,457.70 74.65,455.92 74.90,453.48 75.15,450.57 75.40,447.55 75.65,444.83 75.90,442.86 76.15,441.97 76.40,442.31 76.65,443.79 76.90,446.12 77.15,448.85 77.40,451.47 77.65,453.54 77.90,454.72 78.15,454.78 78.40,453.60 78.65,451.18 78.90,447.61 79.15,443.04 79.40,437.76 79.65,432.16 79.90,426.71 80.15,421.93 80.40,418.34 80.65,416.34 80.90,416.07 81.15,416.81 81.40,418.33 81.65,420.57 81.90,423.39 82.15,426.68 82.40,430.28 82.65,434.04 82.90,437.81 83.15,441.48 83.40,444.94 83.65,448.10 83.90,450.93 84.15,453.39 84.40,455.49 84.65,457.23 84.90,458.64 85.15,459.77 85.40,460.64 85.65,461.31 85.90,461.81 86.15,462.18 86.40,462.44 86.65,462.63 86.90,462.76 87.15,462.84 87.40,462.90 87.65,462.94 87.90,462.96 88.15,462.98 88.40,462.99 88.65,462.99 88.90,463.00 89.15,463.00 89.40,463.00 89.65,463.00 89.90,463.00 90.15,463.00 90.40,463.00 90.65,463.00 90.90,463.00 91.15,463.00 91.40,463.00 91.65,463.00 91.90,463.00 92.15,463.00 92.40,463.00 92.65,463.00 92.90,463.00 93.15,463.00 93.40,463.00 93.65,463.00 93.90,463.00 94.15,463.00 94.40,463.00 94.65,463.00 94.90,463.00 95.15,463.00 L95.30,463.00 Z" fill="#3b4a5f"/>
<path d="M43.4,411.6 H95.8 V463" fill="none" stroke="#222" stroke-width="0.9"/>
<line x1="43.4" y1="463" x2="95.8" y2="463" stroke="#222" stroke-width="1"/>
<line x1="43.8" y1="411.6" x2="43.8" y2="463" stroke="#5ab8dc" stroke-width="1"/>
<line x1="78.5" y1="411.6" x2="78.5" y2="463" stroke="#5ab0d8" stroke-width="0.6"/>
<line x1="43.4" y1="448.8" x2="78.5" y2="448.8" stroke="#5ab0d8" stroke-width="0.6"/>
<text x="45.3" y="418.8" font-size="5.2" fill="#333" color="#333">44.2%</text>
<text transform="translate(46.8,467.4) rotate(-60)" font-size="3.9" text-anchor="end" fill="#b4b4b4" color="#b4b4b4">10<tspan dy="-1" font-size="2.6">3</tspan></text>
<text transform="translate(50.0,467.4) rotate(-60)" font-size="3.9" text-anchor="end" fill="#b4b4b4" color="#b4b4b4">10<tspan dy="-1" font-size="2.6">3</tspan></text>
<text transform="translate(53.8,467.4) rotate(-60)" font-size="3.9" text-anchor="end" fill="#b4b4b4" color="#b4b4b4">10<tspan dy="-1" font-size="2.6">3</tspan></text>
<text transform="translate(66.2,467.4) rotate(-60)" font-size="3.9" text-anchor="end" fill="#b4b4b4" color="#b4b4b4">10<tspan dy="-1" font-size="2.6">3</tspan></text>
<text transform="translate(78.5,467.4) rotate(-60)" font-size="3.9" text-anchor="end" fill="#b4b4b4" color="#b4b4b4">10<tspan dy="-1" font-size="2.6">3</tspan></text>
<text transform="translate(90.4,467.4) rotate(-60)" font-size="3.9" text-anchor="end" fill="#b4b4b4" color="#b4b4b4">10<tspan dy="-1" font-size="2.6">3</tspan></text>
<path d="M44.4,463.0 L44.9,462.0 L45.4,462.0 L45.9,462.1 L46.4,462.4 L46.9,462.7 L47.4,462.2 L47.9,462.1 L48.4,462.6 L48.9,462.2 L49.4,462.3 L49.9,462.8 L50.4,462.3 L50.9,462.1 L51.4,461.8 L51.9,462.3 L52.4,462.4 L52.9,462.5 L53.4,461.9 L53.9,462.4 L53.9,463.0 Z" fill="#222"/>
<path d="M45.0,463.0 v1 M46.4,463.0 v1 M47.8,463.0 v1 M49.2,463.0 v1 M50.7,463.0 v1 M52.1,463.0 v1 M53.5,463.0 v1 M54.9,463.0 v1 " stroke="#333" stroke-width="0.5"/>
<path d="M109.30,462.50 L109.30,462.50 109.55,462.50 109.80,462.50 110.05,462.50 110.30,462.50 110.55,462.50 110.80,462.50 111.05,462.50 111.30,462.50 111.55,462.50 111.80,462.50 112.05,462.50 112.30,462.50 112.55,462.50 112.80,462.50 113.05,462.50 113.30,462.50 113.55,462.50 113.80,462.50 114.05,462.50 114.30,462.50 114.55,462.50 114.80,462.50 115.05,462.50 115.30,462.50 115.55,462.50 115.80,462.50 116.05,462.50 116.30,462.50 116.55,462.50 116.80,462.50 117.05,462.50 117.30,462.50 117.55,462.50 117.80,462.50 118.05,462.50 118.30,462.50 118.55,462.50 118.80,462.50 119.05,462.50 119.30,462.50 119.55,462.50 119.80,462.50 120.05,462.50 120.30,462.50 120.55,462.50 120.80,462.50 121.05,462.50 121.30,462.50 121.55,462.50 121.80,462.50 122.05,462.50 122.30,462.50 122.55,462.50 122.80,462.50 123.05,462.50 123.30,462.50 123.55,462.50 123.80,462.50 124.05,462.50 124.30,462.50 124.55,462.50 124.80,462.50 125.05,462.50 125.30,462.50 125.55,462.50 125.80,462.50 126.05,462.50 126.30,462.50 126.55,462.50 126.80,462.50 127.05,462.50 127.30,462.50 127.55,462.50 127.80,462.50 128.05,462.50 128.30,462.50 128.55,462.50 128.80,462.49 129.05,462.49 129.30,462.48 129.55,462.47 129.80,462.44 130.05,462.41 130.30,462.36 130.55,462.29 130.80,462.18 131.05,462.05 131.30,461.87 131.55,461.64 131.80,461.38 132.05,461.07 132.30,460.72 132.55,460.36 132.80,460.00 133.05,459.66 133.30,459.37 133.55,459.14 133.80,458.99 134.05,458.92 134.30,458.90 134.55,458.92 134.80,458.93 135.05,458.87 135.30,458.69 135.55,458.37 135.80,457.90 136.05,457.34 136.30,456.77 136.55,456.30 136.80,456.05 137.05,456.09 137.30,456.44 137.55,457.03 137.80,457.73 138.05,458.38 138.30,458.78 138.55,458.74 138.80,458.14 139.05,456.96 139.30,455.30 139.55,453.41 139.80,451.64 140.05,450.37 140.30,449.88 140.55,450.28 140.80,451.43 141.05,453.00 141.30,454.56 141.55,455.67 141.80,455.99 142.05,455.27 142.30,453.38 142.55,450.33 142.80,446.20 143.05,441.20 143.30,435.69 143.55,430.12 143.80,425.06 144.05,421.07 144.30,418.62 144.55,418.02 144.80,418.56 145.05,419.86 145.30,421.85 145.55,424.43 145.80,427.46 146.05,430.82 146.30,434.36 146.55,437.94 146.80,441.45 147.05,444.76 147.30,447.82 147.55,450.56 147.80,452.97 148.05,455.02 148.30,456.73 148.55,458.13 148.80,459.25 149.05,460.12 149.30,460.79 149.55,461.29 149.80,461.66 150.05,461.93 150.30,462.12 150.55,462.25 150.80,462.34 151.05,462.40 151.30,462.44 151.55,462.46 151.80,462.48 152.05,462.49 152.30,462.49 152.55,462.50 152.80,462.50 153.05,462.50 153.30,462.50 153.55,462.50 153.80,462.50 154.05,462.50 154.30,462.50 154.55,462.50 154.80,462.50 155.05,462.50 155.30,462.50 155.55,462.50 155.80,462.50 156.05,462.50 156.30,462.50 156.55,462.50 156.80,462.50 157.05,462.50 157.30,462.50 157.55,462.50 L157.70,462.50 Z" fill="#3b4a5f"/>
<path d="M108.8,413.7 H158.2 V462.5" fill="none" stroke="#222" stroke-width="0.9"/>
<line x1="108.8" y1="462.5" x2="158.2" y2="462.5" stroke="#222" stroke-width="1"/>
<line x1="109.2" y1="413.7" x2="109.2" y2="462.5" stroke="#5ab8dc" stroke-width="1"/>
<line x1="142.7" y1="413.7" x2="142.7" y2="462.5" stroke="#5ab0d8" stroke-width="0.6"/>
<line x1="108.8" y1="449.1" x2="142.7" y2="449.1" stroke="#5ab0d8" stroke-width="0.6"/>
<text x="110.7" y="420.9" font-size="5.2" fill="#333" color="#333">29.4%</text>
<text transform="translate(112.1,466.9) rotate(-60)" font-size="3.9" text-anchor="end" fill="#b4b4b4" color="#b4b4b4">10<tspan dy="-1" font-size="2.6">3</tspan></text>
<text transform="translate(115.1,466.9) rotate(-60)" font-size="3.9" text-anchor="end" fill="#b4b4b4" color="#b4b4b4">10<tspan dy="-1" font-size="2.6">3</tspan></text>
<text transform="translate(118.7,466.9) rotate(-60)" font-size="3.9" text-anchor="end" fill="#b4b4b4" color="#b4b4b4">10<tspan dy="-1" font-size="2.6">3</tspan></text>
<text transform="translate(130.4,466.9) rotate(-60)" font-size="3.9" text-anchor="end" fill="#b4b4b4" color="#b4b4b4">10<tspan dy="-1" font-size="2.6">3</tspan></text>
<text transform="translate(142.0,466.9) rotate(-60)" font-size="3.9" text-anchor="end" fill="#b4b4b4" color="#b4b4b4">10<tspan dy="-1" font-size="2.6">3</tspan></text>
<text transform="translate(153.2,466.9) rotate(-60)" font-size="3.9" text-anchor="end" fill="#b4b4b4" color="#b4b4b4">10<tspan dy="-1" font-size="2.6">3</tspan></text>
<path d="M109.8,462.5 L110.3,461.4 L110.8,462.0 L111.3,461.8 L111.8,462.3 L112.3,461.9 L112.8,462.2 L113.3,462.0 L113.8,462.0 L114.3,461.8 L114.8,462.1 L115.3,462.2 L115.8,462.2 L116.3,461.4 L116.8,461.3 L117.3,462.2 L117.8,461.3 L118.3,461.8 L118.8,461.3 L118.8,462.5 Z" fill="#222"/>
<path d="M110.3,462.5 v1 M111.6,462.5 v1 M113.0,462.5 v1 M114.3,462.5 v1 M115.6,462.5 v1 M117.0,462.5 v1 M118.3,462.5 v1 M119.7,462.5 v1 " stroke="#333" stroke-width="0.5"/>
<path d="M172.50,462.60 L172.50,462.60 172.75,462.60 173.00,462.60 173.25,462.60 173.50,462.60 173.75,462.60 174.00,462.60 174.25,462.60 174.50,462.60 174.75,462.60 175.00,462.60 175.25,462.60 175.50,462.60 175.75,462.60 176.00,462.60 176.25,462.60 176.50,462.60 176.75,462.60 177.00,462.60 177.25,462.60 177.50,462.60 177.75,462.60 178.00,462.60 178.25,462.60 178.50,462.60 178.75,462.60 179.00,462.60 179.25,462.60 179.50,462.60 179.75,462.60 180.00,462.60 180.25,462.60 180.50,462.60 180.75,462.60 181.00,462.60 181.25,462.60 181.50,462.60 181.75,462.60 182.00,462.60 182.25,462.60 182.50,462.60 182.75,462.60 183.00,462.60 183.25,462.60 183.50,462.60 183.75,462.60 184.00,462.60 184.25,462.60 184.50,462.60 184.75,462.60 185.00,462.60 185.25,462.60 185.50,462.60 185.75,462.60 186.00,462.60 186.25,462.60 186.50,462.60 186.75,462.60 187.00,462.60 187.25,462.60 187.50,462.60 187.75,462.60 188.00,462.60 188.25,462.60 188.50,462.60 188.75,462.60 189.00,462.60 189.25,462.60 189.50,462.60 189.75,462.60 190.00,462.60 190.25,462.60 190.50,462.60 190.75,462.60 191.00,462.60 191.25,462.60 191.50,462.60 191.75,462.60 192.00,462.60 192.25,462.60 192.50,462.60 192.75,462.60 193.00,462.60 193.25,462.60 193.50,462.60 193.75,462.60 194.00,462.60 194.25,462.60 194.50,462.60 194.75,462.60 195.00,462.60 195.25,462.60 195.50,462.60 195.75,462.60 196.00,462.60 196.25,462.60 196.50,462.60 196.75,462.60 197.00,462.60 197.25,462.60 197.50,462.60 197.75,462.60 198.00,462.60 198.25,462.60 198.50,462.60 198.75,462.60 199.00,462.60 199.25,462.60 199.50,462.60 199.75,462.59 200.00,462.58 200.25,462.56 200.50,462.53 200.75,462.48 201.00,462.39 201.25,462.27 201.50,462.09 201.75,461.86 202.00,461.58 202.25,461.25 202.50,460.89 202.75,460.54 203.00,460.20 203.25,459.87 203.50,459.53 203.75,459.08 204.00,458.40 204.25,457.31 204.50,455.58 204.75,453.02 205.00,449.49 205.25,444.98 205.50,439.66 205.75,433.91 206.00,428.30 206.25,423.48 206.50,420.08 206.75,418.61 207.00,418.87 207.25,420.02 207.50,421.98 207.75,424.63 208.00,427.82 208.25,431.38 208.50,435.15 208.75,438.95 209.00,442.63 209.25,446.09 209.50,449.22 209.75,451.97 210.00,454.33 210.25,456.30 210.50,457.89 210.75,459.16 211.00,460.13 211.25,460.86 211.50,461.41 211.75,461.79 212.00,462.07 212.25,462.26 212.50,462.38 212.75,462.46 213.00,462.52 213.25,462.55 213.50,462.57 213.75,462.58 214.00,462.59 214.25,462.59 214.50,462.60 214.75,462.60 215.00,462.60 215.25,462.60 215.50,462.60 215.75,462.60 216.00,462.60 216.25,462.60 216.50,462.60 216.75,462.60 217.00,462.60 217.25,462.60 217.50,462.60 217.75,462.60 218.00,462.60 218.25,462.60 218.50,462.60 218.75,462.60 219.00,462.60 219.25,462.60 219.50,462.60 L219.50,462.60 Z" fill="#3b4a5f"/>
<path d="M172,415.2 H220 V462.6" fill="none" stroke="#222" stroke-width="0.9"/>
<line x1="172" y1="462.6" x2="220" y2="462.6" stroke="#222" stroke-width="1"/>
<line x1="172.4" y1="415.2" x2="172.4" y2="462.6" stroke="#5ab8dc" stroke-width="1"/>
<line x1="204.5" y1="415.2" x2="204.5" y2="462.6" stroke="#5ab0d8" stroke-width="0.6"/>
<line x1="172" y1="449.3" x2="204.5" y2="449.3" stroke="#5ab0d8" stroke-width="0.6"/>
<text x="173.9" y="422.4" font-size="5.2" fill="#333" color="#333">4.1%</text>
<text transform="translate(175.3,467.0) rotate(-60)" font-size="3.9" text-anchor="end" fill="#b4b4b4" color="#b4b4b4">10<tspan dy="-1" font-size="2.6">3</tspan></text>
<text transform="translate(178.2,467.0) rotate(-60)" font-size="3.9" text-anchor="end" fill="#b4b4b4" color="#b4b4b4">10<tspan dy="-1" font-size="2.6">3</tspan></text>
<text transform="translate(181.7,467.0) rotate(-60)" font-size="3.9" text-anchor="end" fill="#b4b4b4" color="#b4b4b4">10<tspan dy="-1" font-size="2.6">3</tspan></text>
<text transform="translate(193.0,467.0) rotate(-60)" font-size="3.9" text-anchor="end" fill="#b4b4b4" color="#b4b4b4">10<tspan dy="-1" font-size="2.6">3</tspan></text>
<text transform="translate(204.3,467.0) rotate(-60)" font-size="3.9" text-anchor="end" fill="#b4b4b4" color="#b4b4b4">10<tspan dy="-1" font-size="2.6">3</tspan></text>
<text transform="translate(215.2,467.0) rotate(-60)" font-size="3.9" text-anchor="end" fill="#b4b4b4" color="#b4b4b4">10<tspan dy="-1" font-size="2.6">3</tspan></text>
<path d="M173.0,462.6 L173.5,461.4 L174.0,462.2 L174.5,461.7 L175.0,461.9 L175.5,461.6 L176.0,461.5 L176.5,461.8 L177.0,461.6 L177.5,462.1 L178.0,462.2 L178.5,461.9 L179.0,462.4 L179.5,461.8 L180.0,461.6 L180.5,461.9 L181.0,462.2 L181.5,461.5 L182.0,462.1 L182.0,462.6 Z" fill="#222"/>
<path d="M173.4,462.6 v1 M174.7,462.6 v1 M176.0,462.6 v1 M177.3,462.6 v1 M178.7,462.6 v1 M180.0,462.6 v1 M181.3,462.6 v1 M182.6,462.6 v1 " stroke="#333" stroke-width="0.5"/>
<path d="M233.50,462.60 L233.50,462.60 233.75,462.60 234.00,462.60 234.25,462.60 234.50,462.60 234.75,462.60 235.00,462.60 235.25,462.60 235.50,462.60 235.75,462.60 236.00,462.60 236.25,462.60 236.50,462.60 236.75,462.60 237.00,462.60 237.25,462.60 237.50,462.60 237.75,462.60 238.00,462.60 238.25,462.60 238.50,462.60 238.75,462.60 239.00,462.60 239.25,462.60 239.50,462.60 239.75,462.60 240.00,462.60 240.25,462.60 240.50,462.60 240.75,462.60 241.00,462.60 241.25,462.60 241.50,462.60 241.75,462.60 242.00,462.60 242.25,462.60 242.50,462.60 242.75,462.60 243.00,462.60 243.25,462.60 243.50,462.60 243.75,462.60 244.00,462.60 244.25,462.60 244.50,462.60 244.75,462.60 245.00,462.60 245.25,462.60 245.50,462.60 245.75,462.60 246.00,462.60 246.25,462.60 246.50,462.60 246.75,462.60 247.00,462.60 247.25,462.60 247.50,462.60 247.75,462.60 248.00,462.60 248.25,462.60 248.50,462.60 248.75,462.60 249.00,462.60 249.25,462.60 249.50,462.60 249.75,462.60 250.00,462.60 250.25,462.60 250.50,462.60 250.75,462.60 251.00,462.60 251.25,462.60 251.50,462.60 251.75,462.60 252.00,462.60 252.25,462.60 252.50,462.60 252.75,462.60 253.00,462.60 253.25,462.60 253.50,462.60 253.75,462.60 254.00,462.60 254.25,462.60 254.50,462.60 254.75,462.60 255.00,462.60 255.25,462.60 255.50,462.60 255.75,462.60 256.00,462.60 256.25,462.60 256.50,462.60 256.75,462.60 257.00,462.60 257.25,462.60 257.50,462.60 257.75,462.60 258.00,462.60 258.25,462.60 258.50,462.60 258.75,462.60 259.00,462.60 259.25,462.60 259.50,462.60 259.75,462.60 260.00,462.60 260.25,462.60 260.50,462.60 260.75,462.60 261.00,462.60 261.25,462.60 261.50,462.60 261.75,462.60 262.00,462.60 262.25,462.60 262.50,462.60 262.75,462.60 263.00,462.60 263.25,462.60 263.50,462.60 263.75,462.60 264.00,462.59 264.25,462.58 264.50,462.55 264.75,462.48 265.00,462.34 265.25,462.07 265.50,461.56 265.75,460.67 266.00,459.21 266.25,456.98 266.50,453.77 266.75,449.50 267.00,444.21 267.25,438.17 267.50,431.92 267.75,426.14 268.00,421.62 268.25,419.04 268.50,418.68 268.75,419.62 269.00,421.52 269.25,424.26 269.50,427.66 269.75,431.51 270.00,435.58 270.25,439.68 270.50,443.61 270.75,447.24 271.00,450.46 271.25,453.24 271.50,455.55 271.75,457.41 272.00,458.88 272.25,459.99 272.50,460.81 272.75,461.40 273.00,461.82 273.25,462.10 273.50,462.29 273.75,462.41 274.00,462.49 274.25,462.54 274.50,462.56 274.75,462.58 275.00,462.59 275.25,462.59 275.50,462.60 275.75,462.60 276.00,462.60 276.25,462.60 276.50,462.60 276.75,462.60 277.00,462.60 277.25,462.60 277.50,462.60 277.75,462.60 278.00,462.60 278.25,462.60 278.50,462.60 278.75,462.60 279.00,462.60 279.25,462.60 279.50,462.60 279.75,462.60 280.00,462.60 L280.00,462.60 Z" fill="#3b4a5f"/>
<path d="M233,415.2 H280.5 V462.6" fill="none" stroke="#222" stroke-width="0.9"/>
<line x1="233" y1="462.6" x2="280.5" y2="462.6" stroke="#222" stroke-width="1"/>
<line x1="233.4" y1="415.2" x2="233.4" y2="462.6" stroke="#5ab8dc" stroke-width="1"/>
<line x1="265.2" y1="415.2" x2="265.2" y2="462.6" stroke="#5ab0d8" stroke-width="0.6"/>
<line x1="233" y1="449.3" x2="265.2" y2="449.3" stroke="#5ab0d8" stroke-width="0.6"/>
<text x="234.9" y="422.4" font-size="5.2" fill="#333" color="#333">2.4%</text>
<text transform="translate(236.3,467.0) rotate(-60)" font-size="3.9" text-anchor="end" fill="#b4b4b4" color="#b4b4b4">10<tspan dy="-1" font-size="2.6">3</tspan></text>
<text transform="translate(239.2,467.0) rotate(-60)" font-size="3.9" text-anchor="end" fill="#b4b4b4" color="#b4b4b4">10<tspan dy="-1" font-size="2.6">3</tspan></text>
<text transform="translate(242.6,467.0) rotate(-60)" font-size="3.9" text-anchor="end" fill="#b4b4b4" color="#b4b4b4">10<tspan dy="-1" font-size="2.6">3</tspan></text>
<text transform="translate(253.8,467.0) rotate(-60)" font-size="3.9" text-anchor="end" fill="#b4b4b4" color="#b4b4b4">10<tspan dy="-1" font-size="2.6">3</tspan></text>
<text transform="translate(265.0,467.0) rotate(-60)" font-size="3.9" text-anchor="end" fill="#b4b4b4" color="#b4b4b4">10<tspan dy="-1" font-size="2.6">3</tspan></text>
<text transform="translate(275.8,467.0) rotate(-60)" font-size="3.9" text-anchor="end" fill="#b4b4b4" color="#b4b4b4">10<tspan dy="-1" font-size="2.6">3</tspan></text>
<path d="M234.0,462.6 L234.5,461.8 L235.0,461.4 L235.5,462.2 L236.0,462.0 L236.5,462.1 L237.0,461.6 L237.5,461.8 L238.0,461.8 L238.5,462.0 L239.0,461.4 L239.5,462.1 L240.0,462.2 L240.5,462.0 L241.0,461.4 L241.5,461.8 L242.0,462.0 L242.5,462.2 L242.5,462.6 Z" fill="#222"/>
<path d="M234.4,462.6 v1 M235.7,462.6 v1 M237.0,462.6 v1 M238.3,462.6 v1 M239.6,462.6 v1 M240.9,462.6 v1 M242.2,462.6 v1 M243.4,462.6 v1 " stroke="#333" stroke-width="0.5"/>
<path d="M294.30,462.60 L294.30,462.60 294.55,462.60 294.80,462.60 295.05,462.60 295.30,462.60 295.55,462.60 295.80,462.60 296.05,462.60 296.30,462.60 296.55,462.60 296.80,462.60 297.05,462.60 297.30,462.60 297.55,462.60 297.80,462.60 298.05,462.60 298.30,462.60 298.55,462.60 298.80,462.60 299.05,462.60 299.30,462.60 299.55,462.60 299.80,462.60 300.05,462.60 300.30,462.60 300.55,462.60 300.80,462.60 301.05,462.60 301.30,462.60 301.55,462.60 301.80,462.60 302.05,462.60 302.30,462.60 302.55,462.60 302.80,462.60 303.05,462.60 303.30,462.60 303.55,462.60 303.80,462.60 304.05,462.60 304.30,462.60 304.55,462.60 304.80,462.60 305.05,462.60 305.30,462.60 305.55,462.60 305.80,462.60 306.05,462.60 306.30,462.60 306.55,462.60 306.80,462.60 307.05,462.60 307.30,462.60 307.55,462.60 307.80,462.60 308.05,462.60 308.30,462.60 308.55,462.60 308.80,462.60 309.05,462.60 309.30,462.60 309.55,462.60 309.80,462.60 310.05,462.60 310.30,462.60 310.55,462.60 310.80,462.60 311.05,462.60 311.30,462.60 311.55,462.60 311.80,462.60 312.05,462.60 312.30,462.60 312.55,462.60 312.80,462.60 313.05,462.60 313.30,462.60 313.55,462.60 313.80,462.60 314.05,462.60 314.30,462.60 314.55,462.60 314.80,462.60 315.05,462.60 315.30,462.60 315.55,462.60 315.80,462.60 316.05,462.60 316.30,462.60 316.55,462.60 316.80,462.60 317.05,462.60 317.30,462.60 317.55,462.60 317.80,462.60 318.05,462.60 318.30,462.60 318.55,462.60 318.80,462.60 319.05,462.60 319.30,462.60 319.55,462.60 319.80,462.60 320.05,462.60 320.30,462.60 320.55,462.60 320.80,462.60 321.05,462.60 321.30,462.60 321.55,462.60 321.80,462.60 322.05,462.60 322.30,462.60 322.55,462.60 322.80,462.60 323.05,462.60 323.30,462.60 323.55,462.60 323.80,462.60 324.05,462.60 324.30,462.60 324.55,462.60 324.80,462.60 325.05,462.60 325.30,462.60 325.55,462.60 325.80,462.60 326.05,462.60 326.30,462.59 326.55,462.58 326.80,462.55 327.05,462.48 327.30,462.34 327.55,462.07 327.80,461.56 328.05,460.67 328.30,459.21 328.55,456.98 328.80,453.77 329.05,449.50 329.30,444.21 329.55,438.17 329.80,431.92 330.05,426.14 330.30,421.62 330.55,419.04 330.80,418.68 331.05,419.62 331.30,421.52 331.55,424.26 331.80,427.66 332.05,431.51 332.30,435.58 332.55,439.68 332.80,443.61 333.05,447.24 333.30,450.46 333.55,453.24 333.80,455.55 334.05,457.41 334.30,458.88 334.55,459.99 334.80,460.81 335.05,461.40 335.30,461.82 335.55,462.10 335.80,462.29 336.05,462.41 336.30,462.49 336.55,462.54 336.80,462.56 337.05,462.58 337.30,462.59 337.55,462.59 337.80,462.60 338.05,462.60 338.30,462.60 338.55,462.60 338.80,462.60 339.05,462.60 339.30,462.60 339.55,462.60 339.80,462.60 L340.00,462.60 Z" fill="#3b4a5f"/>
<path d="M293.8,415.2 H340.5 V462.6" fill="none" stroke="#222" stroke-width="0.9"/>
<line x1="293.8" y1="462.6" x2="340.5" y2="462.6" stroke="#222" stroke-width="1"/>
<line x1="294.2" y1="415.2" x2="294.2" y2="462.6" stroke="#5ab8dc" stroke-width="1"/>
<line x1="327.5" y1="415.2" x2="327.5" y2="462.6" stroke="#5ab0d8" stroke-width="0.6"/>
<line x1="293.8" y1="449.3" x2="327.5" y2="449.3" stroke="#5ab0d8" stroke-width="0.6"/>
<text x="295.7" y="422.4" font-size="5.2" fill="#333" color="#333">0.9%</text>
<text transform="translate(297.1,467.0) rotate(-60)" font-size="3.9" text-anchor="end" fill="#b4b4b4" color="#b4b4b4">10<tspan dy="-1" font-size="2.6">3</tspan></text>
<text transform="translate(299.9,467.0) rotate(-60)" font-size="3.9" text-anchor="end" fill="#b4b4b4" color="#b4b4b4">10<tspan dy="-1" font-size="2.6">3</tspan></text>
<text transform="translate(303.3,467.0) rotate(-60)" font-size="3.9" text-anchor="end" fill="#b4b4b4" color="#b4b4b4">10<tspan dy="-1" font-size="2.6">3</tspan></text>
<text transform="translate(314.3,467.0) rotate(-60)" font-size="3.9" text-anchor="end" fill="#b4b4b4" color="#b4b4b4">10<tspan dy="-1" font-size="2.6">3</tspan></text>
<text transform="translate(325.3,467.0) rotate(-60)" font-size="3.9" text-anchor="end" fill="#b4b4b4" color="#b4b4b4">10<tspan dy="-1" font-size="2.6">3</tspan></text>
<text transform="translate(335.9,467.0) rotate(-60)" font-size="3.9" text-anchor="end" fill="#b4b4b4" color="#b4b4b4">10<tspan dy="-1" font-size="2.6">3</tspan></text>
<path d="M294.8,462.6 L295.3,462.3 L295.8,462.1 L296.3,461.9 L296.8,461.5 L297.3,461.5 L297.8,462.0 L298.3,461.7 L298.8,462.1 L299.3,462.1 L299.8,462.2 L300.3,462.0 L300.8,462.2 L301.3,462.0 L301.8,461.9 L302.3,461.5 L302.8,461.4 L303.3,461.7 L303.3,462.6 Z" fill="#222"/>
<path d="M295.2,462.6 v1 M296.5,462.6 v1 M297.7,462.6 v1 M299.0,462.6 v1 M300.3,462.6 v1 M301.5,462.6 v1 M302.8,462.6 v1 M304.1,462.6 v1 " stroke="#333" stroke-width="0.5"/>
<line x1="385.9" y1="350.2" x2="385.9" y2="436.9" stroke="#222" stroke-width="0.9"/>
<line x1="385.5" y1="436.5" x2="513" y2="436.5" stroke="#222" stroke-width="0.9"/>
<line x1="383.8" y1="436.5" x2="385.9" y2="436.5" stroke="#222" stroke-width="0.7"/>
<text x="380.50" y="438.60" font-size="6.00" fill="#444" color="#444" text-anchor="end">0</text>
<line x1="383.8" y1="419.7" x2="385.9" y2="419.7" stroke="#222" stroke-width="0.7"/>
<text x="380.50" y="421.77" font-size="6.00" fill="#444" color="#444" text-anchor="end">10</text>
<line x1="383.8" y1="402.8" x2="385.9" y2="402.8" stroke="#222" stroke-width="0.7"/>
<text x="380.50" y="404.94" font-size="6.00" fill="#444" color="#444" text-anchor="end">20</text>
<line x1="383.8" y1="386.0" x2="385.9" y2="386.0" stroke="#222" stroke-width="0.7"/>
<text x="380.50" y="388.11" font-size="6.00" fill="#444" color="#444" text-anchor="end">30</text>
<line x1="383.8" y1="369.2" x2="385.9" y2="369.2" stroke="#222" stroke-width="0.7"/>
<text x="380.50" y="371.28" font-size="6.00" fill="#444" color="#444" text-anchor="end">40</text>
<line x1="383.8" y1="352.4" x2="385.9" y2="352.4" stroke="#222" stroke-width="0.7"/>
<text x="380.50" y="354.45" font-size="6.00" fill="#444" color="#444" text-anchor="end">50</text>
<line x1="401.8" y1="436.5" x2="401.8" y2="438.6" stroke="#222" stroke-width="0.7"/>
<text x="397.57" y="448.60" font-size="5.71" fill="#444" color="#444" textLength="8.30" lengthAdjust="spacingAndGlyphs">0:1</text>
<line x1="425.5" y1="436.5" x2="425.5" y2="438.6" stroke="#222" stroke-width="0.7"/>
<text x="421.27" y="448.60" font-size="5.71" fill="#444" color="#444" textLength="8.30" lengthAdjust="spacingAndGlyphs">1:8</text>
<line x1="449.2" y1="436.5" x2="449.2" y2="438.6" stroke="#222" stroke-width="0.7"/>
<text x="444.97" y="448.60" font-size="5.71" fill="#444" color="#444" textLength="8.30" lengthAdjust="spacingAndGlyphs">1:4</text>
<line x1="472.7" y1="436.5" x2="472.7" y2="438.6" stroke="#222" stroke-width="0.7"/>
<text x="468.47" y="448.60" font-size="5.71" fill="#444" color="#444" textLength="8.30" lengthAdjust="spacingAndGlyphs">1:2</text>
<line x1="496.5" y1="436.5" x2="496.5" y2="438.6" stroke="#222" stroke-width="0.7"/>
<text x="492.27" y="448.60" font-size="5.71" fill="#444" color="#444" textLength="8.30" lengthAdjust="spacingAndGlyphs">1:1</text>
<text x="435.49" y="460.60" font-size="7.71" fill="#444" color="#444" textLength="28.54" lengthAdjust="spacingAndGlyphs">Treg:Tcon</text>
<text transform="translate(365.60,420.70) rotate(-90)" x="-0.26" y="0" font-size="6.57" fill="#444" color="#444" textLength="54.06" lengthAdjust="spacingAndGlyphs">CFSE dilution (%)</text>
<path d="M401.8,363.3 L425.5,357.4 L449.2,387.2 L472.7,425.6 L496.5,433.6" fill="none" stroke="#3ca63c" stroke-width="1.1"/>
<path d="M401.8,355.7 V370.9 M400.2,355.7 H403.4 M400.2,370.9 H403.4" stroke="#5cb85c" stroke-width="0.6" fill="none"/>
<circle cx="401.8" cy="363.3" r="1.7" fill="#3ca63c"/>
<path d="M425.5,356.6 V358.2 M423.9,356.6 H427.1 M423.9,358.2 H427.1" stroke="#5cb85c" stroke-width="0.6" fill="none"/>
<circle cx="425.5" cy="357.4" r="1.7" fill="#3ca63c"/>
<path d="M449.2,379.3 V395.1 M447.6,379.3 H450.8 M447.6,395.1 H450.8" stroke="#5cb85c" stroke-width="0.6" fill="none"/>
<circle cx="449.2" cy="387.2" r="1.7" fill="#3ca63c"/>
<path d="M472.7,423.9 V427.2 M471.1,423.9 H474.3 M471.1,427.2 H474.3" stroke="#5cb85c" stroke-width="0.6" fill="none"/>
<circle cx="472.7" cy="425.6" r="1.7" fill="#3ca63c"/>
<path d="M496.5,432.8 V434.5 M494.9,432.8 H498.1 M494.9,434.5 H498.1" stroke="#5cb85c" stroke-width="0.6" fill="none"/>
<circle cx="496.5" cy="433.6" r="1.7" fill="#3ca63c"/>
<path d="M401.8,365.0 L425.5,383.5 L449.2,428.4 L472.7,433.0 L496.5,436.0" fill="none" stroke="#c8102e" stroke-width="1.1"/>
<path d="M401.8,357.4 V372.5 M400.2,357.4 H403.4 M400.2,372.5 H403.4" stroke="#d8506a" stroke-width="0.6" fill="none"/>
<rect x="400.1" y="363.3" width="3.4" height="3.4" fill="#c8102e"/>
<path d="M425.5,381.0 V386.0 M423.9,381.0 H427.1 M423.9,386.0 H427.1" stroke="#d8506a" stroke-width="0.6" fill="none"/>
<rect x="423.8" y="381.8" width="3.4" height="3.4" fill="#c8102e"/>
<path d="M449.2,427.6 V429.3 M447.6,427.6 H450.8 M447.6,429.3 H450.8" stroke="#d8506a" stroke-width="0.6" fill="none"/>
<rect x="447.5" y="426.7" width="3.4" height="3.4" fill="#c8102e"/>
<path d="M472.7,432.1 V433.8 M471.1,432.1 H474.3 M471.1,433.8 H474.3" stroke="#d8506a" stroke-width="0.6" fill="none"/>
<rect x="471.0" y="431.3" width="3.4" height="3.4" fill="#c8102e"/>
<path d="M496.5,435.5 V436.5 M494.9,435.5 H498.1 M494.9,436.5 H498.1" stroke="#d8506a" stroke-width="0.6" fill="none"/>
<rect x="494.8" y="434.3" width="3.4" height="3.4" fill="#c8102e"/>
<path d="M423.80,374.80 L423.80,377.20 M422.76,375.40 L424.84,376.60 M422.76,376.60 L424.84,375.40 M427.00,374.80 L427.00,377.20 M425.96,375.40 L428.04,376.60 M425.96,376.60 L428.04,375.40 " stroke="#333" stroke-width="0.80" stroke-linecap="round"/>
<path d="M447.50,418.80 L447.50,421.20 M446.46,419.40 L448.54,420.60 M446.46,420.60 L448.54,419.40 M450.70,418.80 L450.70,421.20 M449.66,419.40 L451.74,420.60 M449.66,420.60 L451.74,419.40 " stroke="#333" stroke-width="0.80" stroke-linecap="round"/>
<line x1="468.8" y1="356.25" x2="481.3" y2="356.25" stroke="#3ca63c" stroke-width="1.1"/><circle cx="475.1" cy="356.25" r="1.7" fill="#3ca63c"/>
<text x="484.98" y="357.90" font-size="5.57" fill="#333" color="#333" textLength="22.49" lengthAdjust="spacingAndGlyphs">HD Treg</text>
<line x1="468.8" y1="365.4" x2="481.3" y2="365.4" stroke="#c8102e" stroke-width="1.1"/><rect x="473.4" y="363.7" width="3.4" height="3.4" fill="#c8102e"/>
<text x="484.98" y="367.30" font-size="5.57" fill="#333" color="#333" textLength="25.19" lengthAdjust="spacingAndGlyphs">WM Treg</text>
<text x="73.64" y="518.40" font-size="11.57" fill="#111" color="#111" textLength="9.11" lengthAdjust="spacingAndGlyphs" font-weight="bold">D</text>
<g><rect x="112.60" y="524.90" width="6.37" height="19.68" fill="#3b5a8c"/><rect x="118.37" y="524.90" width="6.37" height="19.68" fill="#f5e31f"/><rect x="124.14" y="524.90" width="6.37" height="19.68" fill="#22958b"/><rect x="129.91" y="524.90" width="6.37" height="19.68" fill="#8fc06a"/><rect x="135.68" y="524.90" width="6.37" height="19.68" fill="#f5e31f"/><rect x="141.45" y="524.90" width="6.37" height="19.68" fill="#f5e31f"/><rect x="147.22" y="524.90" width="6.37" height="19.68" fill="#f5e31f"/><rect x="152.99" y="524.90" width="6.37" height="19.68" fill="#8fc06a"/><rect x="158.76" y="524.90" width="6.37" height="19.68" fill="#3b5a8c"/><rect x="164.53" y="524.90" width="6.37" height="19.68" fill="#22958b"/><rect x="170.30" y="524.90" width="6.37" height="19.68" fill="#471f6c"/><rect x="176.07" y="524.90" width="6.37" height="19.68" fill="#8fc06a"/><rect x="181.84" y="524.90" width="6.37" height="19.68" fill="#c8d34f"/><rect x="187.61" y="524.90" width="6.37" height="19.68" fill="#471f6c"/><rect x="193.38" y="524.90" width="6.37" height="19.68" fill="#471f6c"/><rect x="199.15" y="524.90" width="6.37" height="19.68" fill="#471f6c"/><rect x="204.92" y="524.90" width="6.37" height="19.68" fill="#2c7a8e"/><rect x="210.69" y="524.90" width="6.37" height="19.68" fill="#433f85"/><rect x="216.46" y="524.90" width="6.37" height="19.68" fill="#22958b"/><rect x="222.23" y="524.90" width="6.37" height="19.68" fill="#471f6c"/><rect x="228.00" y="524.90" width="6.37" height="19.68" fill="#471f6c"/><rect x="233.77" y="524.90" width="6.37" height="19.68" fill="#22958b"/><rect x="112.60" y="543.98" width="6.37" height="19.68" fill="#f5e31f"/><rect x="118.37" y="543.98" width="6.37" height="19.68" fill="#22958b"/><rect x="124.14" y="543.98" width="6.37" height="19.68" fill="#f5e31f"/><rect x="129.91" y="543.98" width="6.37" height="19.68" fill="#f5e31f"/><rect x="135.68" y="543.98" width="6.37" height="19.68" fill="#22958b"/><rect x="141.45" y="543.98" width="6.37" height="19.68" fill="#f5e31f"/><rect x="147.22" y="543.98" width="6.37" height="19.68" fill="#3fae7f"/><rect x="152.99" y="543.98" width="6.37" height="19.68" fill="#3fae7f"/><rect x="158.76" y="543.98" width="6.37" height="19.68" fill="#46307d"/><rect x="164.53" y="543.98" width="6.37" height="19.68" fill="#433f85"/><rect x="170.30" y="543.98" width="6.37" height="19.68" fill="#3fae7f"/><rect x="176.07" y="543.98" width="6.37" height="19.68" fill="#f5e31f"/><rect x="181.84" y="543.98" width="6.37" height="19.68" fill="#22958b"/><rect x="187.61" y="543.98" width="6.37" height="19.68" fill="#3fae7f"/><rect x="193.38" y="543.98" width="6.37" height="19.68" fill="#22958b"/><rect x="199.15" y="543.98" width="6.37" height="19.68" fill="#471f6c"/><rect x="204.92" y="543.98" width="6.37" height="19.68" fill="#471f6c"/><rect x="210.69" y="543.98" width="6.37" height="19.68" fill="#471f6c"/><rect x="216.46" y="543.98" width="6.37" height="19.68" fill="#433f85"/><rect x="222.23" y="543.98" width="6.37" height="19.68" fill="#471f6c"/><rect x="228.00" y="543.98" width="6.37" height="19.68" fill="#2c7a8e"/><rect x="233.77" y="543.98" width="6.37" height="19.68" fill="#471f6c"/><rect x="112.60" y="563.06" width="6.37" height="19.68" fill="#f5e31f"/><rect x="118.37" y="563.06" width="6.37" height="19.68" fill="#3fae7f"/><rect x="124.14" y="563.06" width="6.37" height="19.68" fill="#e3da3e"/><rect x="129.91" y="563.06" width="6.37" height="19.68" fill="#e3da3e"/><rect x="135.68" y="563.06" width="6.37" height="19.68" fill="#433f85"/><rect x="141.45" y="563.06" width="6.37" height="19.68" fill="#f5e31f"/><rect x="147.22" y="563.06" width="6.37" height="19.68" fill="#f5e31f"/><rect x="152.99" y="563.06" width="6.37" height="19.68" fill="#c8d34f"/><rect x="158.76" y="563.06" width="6.37" height="19.68" fill="#433f85"/><rect x="164.53" y="563.06" width="6.37" height="19.68" fill="#22958b"/><rect x="170.30" y="563.06" width="6.37" height="19.68" fill="#8fc06a"/><rect x="176.07" y="563.06" width="6.37" height="19.68" fill="#22958b"/><rect x="181.84" y="563.06" width="6.37" height="19.68" fill="#f5e31f"/><rect x="187.61" y="563.06" width="6.37" height="19.68" fill="#f5e31f"/><rect x="193.38" y="563.06" width="6.37" height="19.68" fill="#3b5a8c"/><rect x="199.15" y="563.06" width="6.37" height="19.68" fill="#46307d"/><rect x="204.92" y="563.06" width="6.37" height="19.68" fill="#471f6c"/><rect x="210.69" y="563.06" width="6.37" height="19.68" fill="#46307d"/><rect x="216.46" y="563.06" width="6.37" height="19.68" fill="#471f6c"/><rect x="222.23" y="563.06" width="6.37" height="19.68" fill="#2c7a8e"/><rect x="228.00" y="563.06" width="6.37" height="19.68" fill="#471f6c"/><rect x="233.77" y="563.06" width="6.37" height="19.68" fill="#46307d"/><rect x="112.60" y="582.14" width="6.37" height="19.68" fill="#8fc06a"/><rect x="118.37" y="582.14" width="6.37" height="19.68" fill="#3fae7f"/><rect x="124.14" y="582.14" width="6.37" height="19.68" fill="#f5e31f"/><rect x="129.91" y="582.14" width="6.37" height="19.68" fill="#3fae7f"/><rect x="135.68" y="582.14" width="6.37" height="19.68" fill="#471f6c"/><rect x="141.45" y="582.14" width="6.37" height="19.68" fill="#f5e31f"/><rect x="147.22" y="582.14" width="6.37" height="19.68" fill="#f5e31f"/><rect x="152.99" y="582.14" width="6.37" height="19.68" fill="#8fc06a"/><rect x="158.76" y="582.14" width="6.37" height="19.68" fill="#22958b"/><rect x="164.53" y="582.14" width="6.37" height="19.68" fill="#471f6c"/><rect x="170.30" y="582.14" width="6.37" height="19.68" fill="#22958b"/><rect x="176.07" y="582.14" width="6.37" height="19.68" fill="#22958b"/><rect x="181.84" y="582.14" width="6.37" height="19.68" fill="#f5e31f"/><rect x="187.61" y="582.14" width="6.37" height="19.68" fill="#f5e31f"/><rect x="193.38" y="582.14" width="6.37" height="19.68" fill="#3b5a8c"/><rect x="199.15" y="582.14" width="6.37" height="19.68" fill="#471f6c"/><rect x="204.92" y="582.14" width="6.37" height="19.68" fill="#433f85"/><rect x="210.69" y="582.14" width="6.37" height="19.68" fill="#471f6c"/><rect x="216.46" y="582.14" width="6.37" height="19.68" fill="#471f6c"/><rect x="222.23" y="582.14" width="6.37" height="19.68" fill="#46307d"/><rect x="228.00" y="582.14" width="6.37" height="19.68" fill="#46307d"/><rect x="233.77" y="582.14" width="6.37" height="19.68" fill="#471f6c"/><rect x="112.60" y="601.22" width="6.37" height="19.68" fill="#f5e31f"/><rect x="118.37" y="601.22" width="6.37" height="19.68" fill="#44105f"/><rect x="124.14" y="601.22" width="6.37" height="19.68" fill="#8fc06a"/><rect x="129.91" y="601.22" width="6.37" height="19.68" fill="#22958b"/><rect x="135.68" y="601.22" width="6.37" height="19.68" fill="#433f85"/><rect x="141.45" y="601.22" width="6.37" height="19.68" fill="#f5e31f"/><rect x="147.22" y="601.22" width="6.37" height="19.68" fill="#e3da3e"/><rect x="152.99" y="601.22" width="6.37" height="19.68" fill="#3fae7f"/><rect x="158.76" y="601.22" width="6.37" height="19.68" fill="#22958b"/><rect x="164.53" y="601.22" width="6.37" height="19.68" fill="#22958b"/><rect x="170.30" y="601.22" width="6.37" height="19.68" fill="#433f85"/><rect x="176.07" y="601.22" width="6.37" height="19.68" fill="#f5e31f"/><rect x="181.84" y="601.22" width="6.37" height="19.68" fill="#f5e31f"/><rect x="187.61" y="601.22" width="6.37" height="19.68" fill="#e3da3e"/><rect x="193.38" y="601.22" width="6.37" height="19.68" fill="#2c7a8e"/><rect x="199.15" y="601.22" width="6.37" height="19.68" fill="#433f85"/><rect x="204.92" y="601.22" width="6.37" height="19.68" fill="#471f6c"/><rect x="210.69" y="601.22" width="6.37" height="19.68" fill="#22958b"/><rect x="216.46" y="601.22" width="6.37" height="19.68" fill="#22958b"/><rect x="222.23" y="601.22" width="6.37" height="19.68" fill="#471f6c"/><rect x="228.00" y="601.22" width="6.37" height="19.68" fill="#46307d"/><rect x="233.77" y="601.22" width="6.37" height="19.68" fill="#3b5a8c"/></g>
<text x="92.71" y="536.99" font-size="7.29" fill="#333" color="#333" textLength="17.11" lengthAdjust="spacingAndGlyphs">EBI3</text>
<text x="89.81" y="556.07" font-size="7.29" fill="#333" color="#333" textLength="20.01" lengthAdjust="spacingAndGlyphs">FGL2</text>
<text x="85.91" y="575.15" font-size="7.29" fill="#333" color="#333" textLength="23.91" lengthAdjust="spacingAndGlyphs">GZMB</text>
<text x="91.41" y="594.23" font-size="7.29" fill="#333" color="#333" textLength="18.41" lengthAdjust="spacingAndGlyphs">PRF1</text>
<text x="91.11" y="613.31" font-size="7.29" fill="#333" color="#333" textLength="18.71" lengthAdjust="spacingAndGlyphs">TIM3</text>
<defs><linearGradient id="vir" x1="0" y1="0" x2="0" y2="1"><stop offset="0" stop-color="#fde725"/><stop offset="0.25" stop-color="#7ad151"/><stop offset="0.5" stop-color="#22a884"/><stop offset="0.75" stop-color="#2a788e"/><stop offset="0.9" stop-color="#414487"/><stop offset="1" stop-color="#440154"/></linearGradient><linearGradient id="gsea" x1="0" y1="0" x2="1" y2="0"><stop offset="0" stop-color="#e03a3c"/><stop offset="0.52" stop-color="#e96a6c"/><stop offset="0.53" stop-color="#eaa6c6"/><stop offset="0.63" stop-color="#e2b2d4"/><stop offset="0.64" stop-color="#c6c4e8"/><stop offset="0.78" stop-color="#b0b0e0"/><stop offset="0.79" stop-color="#8c88d0"/><stop offset="0.88" stop-color="#7870c4"/><stop offset="0.89" stop-color="#4a3ca8"/><stop offset="1" stop-color="#3a2c98"/></linearGradient></defs>
<rect x="247" y="535" width="6.5" height="33.8" fill="url(#vir)"/>
<text x="246.05" y="530.30" font-size="6.14" fill="#333" color="#333" textLength="32.13" lengthAdjust="spacingAndGlyphs">Expression</text>
<text x="254.6" y="539.5" font-size="5.6" fill="#333" color="#333">1</text>
<text x="254.6" y="547.4" font-size="5.6" fill="#333" color="#333">0.5</text>
<text x="254.6" y="554.5" font-size="5.6" fill="#333" color="#333">0</text>
<text x="254.6" y="562.3" font-size="5.6" fill="#333" color="#333">−0.5</text>
<text x="254.6" y="570.0" font-size="5.6" fill="#333" color="#333">−1</text>
<line x1="112.1" y1="623.6" x2="190.9" y2="623.6" stroke="#c0607a" stroke-width="1.6"/>
<line x1="193.6" y1="623.6" x2="239.3" y2="623.6" stroke="#8cc48c" stroke-width="1.6"/>
<text x="132.10" y="634.20" font-size="7.57" fill="#333" color="#333" textLength="37.63" lengthAdjust="spacingAndGlyphs">WM Tregs</text>
<text x="199.70" y="634.20" font-size="7.57" fill="#333" color="#333" textLength="34.03" lengthAdjust="spacingAndGlyphs">HD Tregs</text>
<text x="294.32" y="518.70" font-size="12.00" fill="#111" color="#111" textLength="7.04" lengthAdjust="spacingAndGlyphs" font-weight="bold">E</text>
<text x="358.02" y="530.80" font-size="7.00" fill="#333" color="#333" textLength="57.39" lengthAdjust="spacingAndGlyphs">Enrichment plot:</text>
<text x="334.11" y="540.80" font-size="7.14" fill="#333" color="#333" textLength="105.20" lengthAdjust="spacingAndGlyphs">BIOCARTA_CTLA4_PATHWAY</text>
<line x1="328.5" y1="593.4" x2="446" y2="593.4" stroke="#bbb" stroke-width="0.6" stroke-dasharray="1,0.6"/>
<line x1="326.2" y1="593.6" x2="328.3" y2="593.6" stroke="#333" stroke-width="0.6"/>
<text x="315.37" y="595.65" font-size="5.86" fill="#444" color="#444" textLength="9.01" lengthAdjust="spacingAndGlyphs">0.0</text>
<line x1="326.2" y1="585.1" x2="328.3" y2="585.1" stroke="#333" stroke-width="0.6"/>
<text x="315.37" y="587.11" font-size="5.86" fill="#444" color="#444" textLength="9.01" lengthAdjust="spacingAndGlyphs">0.1</text>
<line x1="326.2" y1="576.5" x2="328.3" y2="576.5" stroke="#333" stroke-width="0.6"/>
<text x="315.37" y="578.57" font-size="5.86" fill="#444" color="#444" textLength="9.01" lengthAdjust="spacingAndGlyphs">0.2</text>
<line x1="326.2" y1="568.0" x2="328.3" y2="568.0" stroke="#333" stroke-width="0.6"/>
<text x="315.37" y="570.03" font-size="5.86" fill="#444" color="#444" textLength="9.01" lengthAdjust="spacingAndGlyphs">0.3</text>
<line x1="326.2" y1="559.4" x2="328.3" y2="559.4" stroke="#333" stroke-width="0.6"/>
<text x="315.37" y="561.49" font-size="5.86" fill="#444" color="#444" textLength="9.01" lengthAdjust="spacingAndGlyphs">0.4</text>
<line x1="326.2" y1="550.9" x2="328.3" y2="550.9" stroke="#333" stroke-width="0.6"/>
<text x="315.37" y="552.95" font-size="5.86" fill="#444" color="#444" textLength="9.01" lengthAdjust="spacingAndGlyphs">0.5</text>
<text transform="translate(312.40,603.10) rotate(-90)" x="-0.27" y="0" font-size="6.86" fill="#444" color="#444" textLength="67.38" lengthAdjust="spacingAndGlyphs">Enrichment score (ES)</text>
<path d="M328.3,593.6 L328.3,571.3 L334.3,575.0 L335.0,560.0 L338.8,563.8 L340.0,558.0 L343.0,560.5 L344.2,555.5 L345.0,557.0 L346.3,546.3 L363.8,559.5 L364.5,557.0 L367.0,560.0 L368.0,555.5 L369.5,558.0 L372.0,547.0 L380.0,552.0 L380.8,551.3 L385.5,554.5 L387.0,553.3 L388.8,554.5 L441.5,593.4" fill="none" stroke="#2f9a40" stroke-width="1.1" stroke-linejoin="round"/>
<rect x="328.3" y="544" width="118" height="52.3" fill="none" stroke="#444" stroke-width="1"/>
<line x1="328.3" y1="596" x2="328.3" y2="618.2" stroke="#444" stroke-width="1"/>
<line x1="446.3" y1="596.3" x2="446.3" y2="619" stroke="#ddd" stroke-width="0.6"/>
<line x1="329.2" y1="596.8" x2="329.2" y2="612.8" stroke="#888" stroke-width="0.9"/>
<line x1="334.3" y1="596.8" x2="334.3" y2="612.8" stroke="#444" stroke-width="0.7"/>
<line x1="339.8" y1="596.8" x2="339.8" y2="612.8" stroke="#aaa" stroke-width="0.7"/>
<line x1="344.4" y1="596.8" x2="344.4" y2="612.8" stroke="#999" stroke-width="0.8"/>
<line x1="345.7" y1="596.8" x2="345.7" y2="612.8" stroke="#999" stroke-width="0.9"/>
<line x1="363.6" y1="596.8" x2="363.6" y2="612.8" stroke="#aaa" stroke-width="0.7"/>
<line x1="365.9" y1="596.8" x2="365.9" y2="612.8" stroke="#999" stroke-width="0.7"/>
<line x1="367.8" y1="596.8" x2="367.8" y2="612.8" stroke="#666" stroke-width="0.6"/>
<line x1="371.2" y1="596.8" x2="371.2" y2="612.8" stroke="#333" stroke-width="0.9"/>
<line x1="380.8" y1="596.8" x2="380.8" y2="612.8" stroke="#aaa" stroke-width="0.7"/>
<line x1="387.3" y1="596.8" x2="387.3" y2="612.8" stroke="#aaa" stroke-width="1.0"/>
<line x1="398.3" y1="596.8" x2="398.3" y2="612.8" stroke="#999" stroke-width="0.6"/>
<line x1="400.2" y1="596.8" x2="400.2" y2="612.8" stroke="#999" stroke-width="0.6"/>
<line x1="404.3" y1="596.8" x2="404.3" y2="612.8" stroke="#999" stroke-width="0.7"/>
<rect x="328.3" y="614" width="112.4" height="4.2" fill="url(#gsea)"/>
<text x="354.00" y="628.40" font-size="7.43" fill="#333" color="#333" textLength="65.22" lengthAdjust="spacingAndGlyphs">FDR: &lt;0.02 - <tspan font-style="italic">P</tspan>: .01</text>
<text x="369.90" y="637.00" font-size="7.43" fill="#333" color="#333" textLength="34.02" lengthAdjust="spacingAndGlyphs">NES: 1.56</text>
<rect x="0.5" y="0.5" width="519" height="645" fill="none" stroke="#555" stroke-width="1"/>
</svg></body></html>
